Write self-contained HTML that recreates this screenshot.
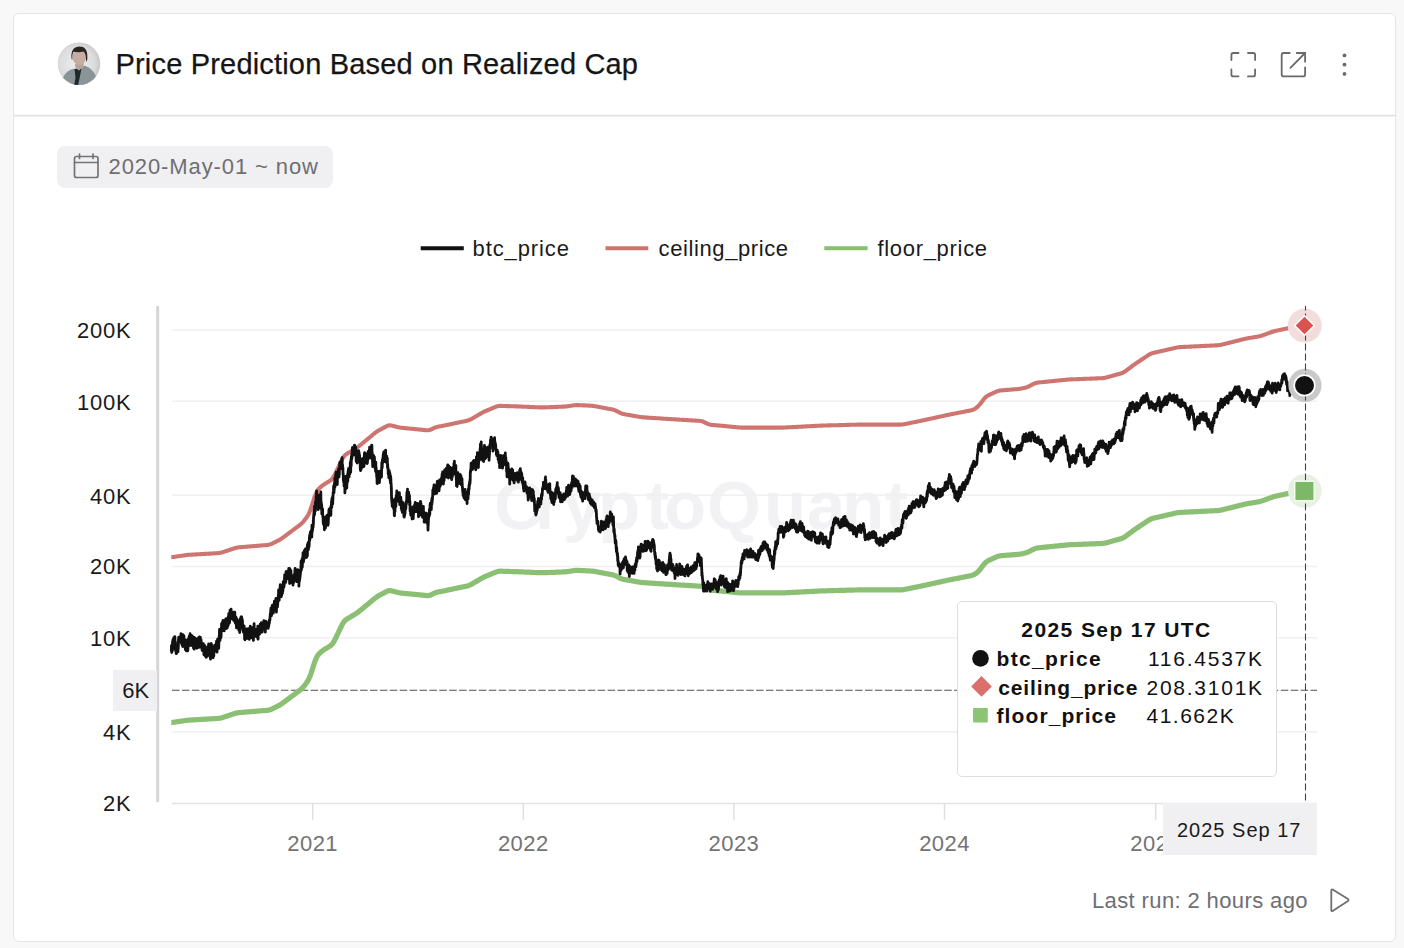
<!DOCTYPE html>
<html><head><meta charset="utf-8"><style>
*{margin:0;padding:0;box-sizing:border-box}
html,body{width:1404px;height:948px;overflow:hidden;background:#f8f8f8;font-family:"Liberation Sans", sans-serif}
.card{position:absolute;left:13px;top:13px;width:1383px;height:929px;background:#fff;border:1px solid #e5e5e5;border-radius:6px}
.hdr{position:absolute;left:14px;top:115px;width:1381px;height:1px;background:#e1e1e1;box-shadow:0 1px 0 #f1f1f1,0 -0.5px 0 #f1f1f1}
.pill{position:absolute;left:57px;top:146px;width:276px;height:42px;background:#f0f0f2;border-radius:8px}
.tip{position:absolute;left:957px;top:601px;width:320px;height:176px;background:rgba(255,255,255,0.96);border:1.5px solid #dedede;border-radius:5px}
.xlab{position:absolute;left:1162.5px;top:802.5px;width:154px;height:52px;background:#f0f0f2}
.ylab{position:absolute;left:113px;top:670px;width:44px;height:41px;background:#f0f0f2}
</style></head><body>
<div class="card"></div>
<div class="hdr"></div>
<svg width="1404" height="948" style="position:absolute;left:0;top:0">
<defs><radialGradient id="av" cx="45%" cy="50%" r="55%"><stop offset="0" stop-color="#efeff0"/><stop offset="0.75" stop-color="#dcdcde"/><stop offset="1" stop-color="#c8c8ca"/></radialGradient>
<clipPath id="avc"><circle cx="79" cy="63.7" r="21.3"/></clipPath></defs>
<circle cx="79" cy="63.7" r="21.3" fill="url(#av)"/>
<g clip-path="url(#avc)">
<path d="M61,88 C61.5,78 65,72 71,69.5 L75,68.5 L79,71 L84,65.5 C90,67 95,72 97,79 L98,88 Z" fill="#8b9597"/>
<path d="M74.5,69 L81.5,68.5 L80,76 L77.5,88 L73.5,88 L75.5,78 Z" fill="#1f282c"/>
<path d="M75,64 L84,63 L83,67 L79,70.5 L75.5,68 Z" fill="#b8a49b"/>
<ellipse cx="79.3" cy="57.3" rx="6.8" ry="7.8" fill="#c6ad9f"/>
<path d="M71.6,59 C70.5,50 74.5,46.6 79.5,46.6 C84.5,46.6 88.2,49.5 87.3,59.5 L86,62 C86.2,56 85.5,52.5 83,51.5 C80,52.8 76,52.2 73.5,51.8 C72.4,53.5 72.2,56 72.3,60 Z" fill="#2b2421"/>
</g>
<g fill="none" stroke="#6a6a6a" stroke-width="1.8" stroke-linecap="round" stroke-linejoin="round">
<path d="M1231.4,60 V55 Q1231.4,53 1233.4,53 H1238.5"/>
<path d="M1248,53 H1253.1 Q1255.1,53 1255.1,55 V60"/>
<path d="M1231.4,69.5 V74.4 Q1231.4,76.4 1233.4,76.4 H1238.5"/>
<path d="M1248,76.4 H1253.1 Q1255.1,76.4 1255.1,74.4 V69.5"/>
<path d="M1289.7,53 H1283.7 Q1281.7,53 1281.7,55 V74.4 Q1281.7,76.4 1283.7,76.4 H1303.1 Q1305.1,76.4 1305.1,74.4 V67.4"/>
<path d="M1296.8,53 H1305.1 V61.7"/>
<path d="M1290.4,67.8 L1305.1,53"/>
</g>
<g fill="#6a6a6a"><circle cx="1344.5" cy="55.4" r="1.9"/><circle cx="1344.5" cy="64.7" r="1.9"/><circle cx="1344.5" cy="73.9" r="1.9"/></g>
</svg>
<div style="position:absolute;left:115.5px;top:50.25px;font-size:29px;line-height:29px;font-weight:400;color:#151515;letter-spacing:0.18px;white-space:nowrap;-webkit-text-stroke:0.25px #151515;">Price Prediction Based on Realized Cap</div>

<div class="pill"></div>
<svg width="1404" height="948" style="position:absolute;left:0;top:0">
<g fill="none" stroke="#737373" stroke-width="1.7" stroke-linecap="round" stroke-linejoin="round">
<rect x="74.5" y="156.5" width="23.5" height="21" rx="2"/>
<path d="M74.5,162.5 H98"/><path d="M79.5,154 V158.5"/><path d="M93,154 V158.5"/>
</g></svg>
<div style="position:absolute;left:108.5px;top:155.58px;font-size:22px;line-height:22px;font-weight:400;color:#6e6e73;letter-spacing:0.9px;white-space:nowrap;">2020-May-01 ~ now</div>

<svg width="1404" height="948" style="position:absolute;left:0;top:0">
<line x1="420.7" y1="248.2" x2="463.8" y2="248.2" stroke="#111" stroke-width="4"/>
<line x1="605.5" y1="248.2" x2="648.3" y2="248.2" stroke="#d1736d" stroke-width="4"/>
<line x1="824.3" y1="248.2" x2="867.6" y2="248.2" stroke="#88c070" stroke-width="4"/>
</svg>
<div style="position:absolute;left:472.5px;top:237.58px;font-size:22px;line-height:22px;font-weight:400;color:#1a1a1a;letter-spacing:0.9px;white-space:nowrap;">btc_price</div>

<div style="position:absolute;left:658.6px;top:237.58px;font-size:22px;line-height:22px;font-weight:400;color:#1a1a1a;letter-spacing:0.6px;white-space:nowrap;">ceiling_price</div>

<div style="position:absolute;left:877.4px;top:237.58px;font-size:22px;line-height:22px;font-weight:400;color:#1a1a1a;letter-spacing:0.7px;white-space:nowrap;">floor_price</div>

<svg width="1404" height="948" viewBox="0 0 1404 948" style="position:absolute;left:0;top:0">
<text x="494 535 563 598 646 664 707 764 807 842 885" y="529" font-family="Liberation Sans" font-weight="700" font-size="69" fill="#f2f2f4">CryptoQuant</text>
<line x1="172" y1="330.0" x2="1317" y2="330.0" stroke="#f0f0f0" stroke-width="1.5"/><line x1="172" y1="401.2" x2="1317" y2="401.2" stroke="#f0f0f0" stroke-width="1.5"/><line x1="172" y1="495.3" x2="1317" y2="495.3" stroke="#f0f0f0" stroke-width="1.5"/><line x1="172" y1="566.5" x2="1317" y2="566.5" stroke="#f0f0f0" stroke-width="1.5"/><line x1="172" y1="637.7" x2="1317" y2="637.7" stroke="#f0f0f0" stroke-width="1.5"/><line x1="172" y1="731.8" x2="1317" y2="731.8" stroke="#f0f0f0" stroke-width="1.5"/>
<rect x="156.2" y="306" width="3" height="496" fill="#d6d6da"/>
<line x1="172" y1="803.5" x2="1317" y2="803.5" stroke="#e3e3e3" stroke-width="1.5"/>
<line x1="312.7" y1="803" x2="312.7" y2="820" stroke="#e0e0e0" stroke-width="1.5"/><line x1="523.3" y1="803" x2="523.3" y2="820" stroke="#e0e0e0" stroke-width="1.5"/><line x1="733.9" y1="803" x2="733.9" y2="820" stroke="#e0e0e0" stroke-width="1.5"/><line x1="944.5" y1="803" x2="944.5" y2="820" stroke="#e0e0e0" stroke-width="1.5"/><line x1="1155.7" y1="803" x2="1155.7" y2="820" stroke="#e0e0e0" stroke-width="1.5"/>
<line x1="172" y1="690.3" x2="1317" y2="690.3" stroke="#505050" stroke-width="1.1" stroke-dasharray="7.5 2.4"/>
<path d="M171.3,557.1 L171.9,557.1 L172.5,557.0 L173.1,557.0 L173.6,557.0 L174.2,556.9 L174.8,556.8 L175.4,556.7 L176.0,556.6 L176.5,556.5 L177.1,556.4 L177.7,556.3 L178.3,556.3 L178.8,556.2 L179.4,556.1 L180.0,556.0 L180.6,555.9 L181.1,555.8 L181.7,555.7 L182.3,555.7 L182.9,555.6 L183.5,555.5 L184.0,555.4 L184.6,555.3 L185.2,555.2 L185.8,555.2 L186.3,555.1 L186.9,555.0 L187.5,554.9 L188.1,554.9 L188.6,554.8 L189.2,554.8 L189.8,554.8 L190.4,554.7 L191.0,554.7 L191.5,554.7 L192.1,554.6 L192.7,554.6 L193.3,554.6 L193.8,554.5 L194.4,554.5 L195.0,554.5 L195.6,554.4 L196.1,554.4 L196.7,554.4 L197.3,554.3 L197.9,554.3 L198.5,554.3 L199.0,554.2 L199.6,554.2 L200.2,554.2 L200.8,554.1 L201.3,554.1 L201.9,554.1 L202.5,554.0 L203.1,554.0 L203.6,554.0 L204.2,553.9 L204.8,553.9 L205.4,553.9 L206.0,553.8 L206.5,553.8 L207.1,553.8 L207.7,553.7 L208.3,553.7 L208.8,553.7 L209.4,553.6 L210.0,553.6 L210.6,553.6 L211.1,553.5 L211.7,553.5 L212.3,553.5 L212.9,553.4 L213.5,553.4 L214.0,553.4 L214.6,553.3 L215.2,553.3 L215.8,553.3 L216.3,553.2 L216.9,553.2 L217.5,553.2 L218.1,553.1 L218.6,553.1 L219.2,553.0 L219.8,552.9 L220.4,552.8 L221.0,552.7 L221.5,552.5 L222.1,552.4 L222.7,552.2 L223.3,552.0 L223.8,551.8 L224.4,551.6 L225.0,551.4 L225.6,551.2 L226.1,551.0 L226.7,550.9 L227.3,550.7 L227.9,550.5 L228.5,550.3 L229.0,550.1 L229.6,549.9 L230.2,549.7 L230.8,549.5 L231.3,549.3 L231.9,549.1 L232.5,548.9 L233.1,548.7 L233.7,548.5 L234.2,548.4 L234.8,548.2 L235.4,548.0 L236.0,547.9 L236.5,547.7 L237.1,547.6 L237.7,547.5 L238.3,547.4 L238.8,547.3 L239.4,547.3 L240.0,547.2 L240.6,547.2 L241.2,547.1 L241.7,547.1 L242.3,547.0 L242.9,547.0 L243.5,547.0 L244.0,546.9 L244.6,546.9 L245.2,546.8 L245.8,546.8 L246.3,546.7 L246.9,546.7 L247.5,546.6 L248.1,546.6 L248.7,546.5 L249.2,546.5 L249.8,546.4 L250.4,546.4 L251.0,546.3 L251.5,546.3 L252.1,546.2 L252.7,546.2 L253.3,546.1 L253.8,546.1 L254.4,546.1 L255.0,546.0 L255.6,546.0 L256.2,545.9 L256.7,545.9 L257.3,545.8 L257.9,545.8 L258.5,545.7 L259.0,545.7 L259.6,545.6 L260.2,545.6 L260.8,545.5 L261.3,545.5 L261.9,545.4 L262.5,545.4 L263.1,545.3 L263.7,545.3 L264.2,545.2 L264.8,545.2 L265.4,545.2 L266.0,545.1 L266.5,545.1 L267.1,545.0 L267.7,545.0 L268.3,544.9 L268.8,544.7 L269.4,544.6 L270.0,544.4 L270.6,544.2 L271.2,544.0 L271.7,543.8 L272.3,543.5 L272.9,543.2 L273.5,542.9 L274.0,542.6 L274.6,542.3 L275.2,542.1 L275.8,541.8 L276.3,541.5 L276.9,541.2 L277.5,540.9 L278.1,540.6 L278.7,540.3 L279.2,540.0 L279.8,539.7 L280.4,539.3 L281.0,539.0 L281.5,538.6 L282.1,538.2 L282.7,537.8 L283.3,537.4 L283.8,536.9 L284.4,536.5 L285.0,536.1 L285.6,535.6 L286.2,535.2 L286.7,534.8 L287.3,534.3 L287.9,533.9 L288.5,533.5 L289.0,533.1 L289.6,532.6 L290.2,532.2 L290.8,531.8 L291.4,531.3 L291.9,530.9 L292.5,530.5 L293.1,530.0 L293.7,529.6 L294.2,529.2 L294.8,528.7 L295.4,528.3 L296.0,527.9 L296.5,527.4 L297.1,527.0 L297.7,526.6 L298.3,526.1 L298.9,525.7 L299.4,525.3 L300.0,524.8 L300.6,524.4 L301.2,523.9 L301.7,523.4 L302.3,522.8 L302.9,522.2 L303.5,521.5 L304.0,520.8 L304.6,520.1 L305.2,519.3 L305.8,518.5 L306.4,517.7 L306.9,516.9 L307.5,516.0 L308.1,515.0 L308.7,513.9 L309.2,512.7 L309.8,511.4 L310.4,509.9 L311.0,508.3 L311.5,506.6 L312.1,504.8 L312.7,502.9 L313.3,501.1 L313.9,499.2 L314.4,497.5 L315.0,495.8 L315.6,494.4 L316.2,493.0 L316.7,491.9 L317.3,490.8 L317.9,489.9 L318.5,489.2 L319.0,488.6 L319.6,488.0 L320.2,487.4 L320.8,486.9 L321.4,486.4 L321.9,485.9 L322.5,485.5 L323.1,485.1 L323.7,484.7 L324.2,484.3 L324.8,483.9 L325.4,483.6 L326.0,483.2 L326.5,482.9 L327.1,482.5 L327.7,482.2 L328.3,481.8 L328.9,481.4 L329.4,481.1 L330.0,480.7 L330.6,480.4 L331.2,479.9 L331.7,479.3 L332.3,478.7 L332.9,477.9 L333.5,477.0 L334.0,476.1 L334.6,475.1 L335.2,473.9 L335.8,472.7 L336.4,471.5 L336.9,470.2 L337.5,469.0 L338.1,467.8 L338.7,466.6 L339.2,465.4 L339.8,464.1 L340.4,462.9 L341.0,461.7 L341.6,460.5 L342.1,459.4 L342.7,458.3 L343.3,457.4 L343.9,456.6 L344.4,455.9 L345.0,455.2 L345.6,454.7 L346.2,454.3 L346.7,453.9 L347.3,453.6 L347.9,453.2 L348.5,452.9 L349.1,452.5 L349.6,452.2 L350.2,451.8 L350.8,451.5 L351.4,451.1 L351.9,450.8 L352.5,450.4 L353.1,450.1 L353.7,449.7 L354.2,449.4 L354.8,449.0 L355.4,448.7 L356.0,448.3 L356.6,447.9 L357.1,447.5 L357.7,447.1 L358.3,446.7 L358.9,446.2 L359.4,445.8 L360.0,445.3 L360.6,444.8 L361.2,444.4 L361.7,443.9 L362.3,443.4 L362.9,442.9 L363.5,442.5 L364.1,442.0 L364.6,441.5 L365.2,441.0 L365.8,440.5 L366.4,440.1 L366.9,439.6 L367.5,439.1 L368.1,438.6 L368.7,438.2 L369.2,437.7 L369.8,437.2 L370.4,436.7 L371.0,436.2 L371.6,435.8 L372.1,435.3 L372.7,434.8 L373.3,434.3 L373.9,433.9 L374.4,433.4 L375.0,432.9 L375.6,432.5 L376.2,432.1 L376.7,431.7 L377.3,431.3 L377.9,430.9 L378.5,430.6 L379.1,430.2 L379.6,429.9 L380.2,429.6 L380.8,429.3 L381.4,429.0 L381.9,428.7 L382.5,428.4 L383.1,428.1 L383.7,427.8 L384.2,427.4 L384.8,427.1 L385.4,426.8 L386.0,426.5 L386.6,426.2 L387.1,425.9 L387.7,425.7 L388.3,425.6 L388.9,425.4 L389.4,425.4 L390.0,425.3 L390.6,425.4 L391.2,425.5 L391.7,425.6 L392.3,425.7 L392.9,425.9 L393.5,426.0 L394.1,426.2 L394.6,426.3 L395.2,426.5 L395.8,426.6 L396.4,426.8 L396.9,426.9 L397.5,427.1 L398.1,427.2 L398.7,427.3 L399.2,427.5 L399.8,427.6 L400.4,427.7 L401.0,427.7 L401.6,427.8 L402.1,427.9 L402.7,427.9 L403.3,428.0 L403.9,428.0 L404.4,428.1 L405.0,428.1 L405.6,428.2 L406.2,428.3 L406.8,428.3 L407.3,428.4 L407.9,428.4 L408.5,428.5 L409.1,428.5 L409.6,428.6 L410.2,428.6 L410.8,428.7 L411.4,428.7 L411.9,428.8 L412.5,428.8 L413.1,428.9 L413.7,428.9 L414.3,429.0 L414.8,429.1 L415.4,429.1 L416.0,429.2 L416.6,429.2 L417.1,429.3 L417.7,429.4 L418.3,429.4 L418.9,429.5 L419.4,429.5 L420.0,429.6 L420.6,429.6 L421.2,429.7 L421.8,429.8 L422.3,429.8 L422.9,429.9 L423.5,429.9 L424.1,430.0 L424.6,430.1 L425.2,430.1 L425.8,430.2 L426.4,430.2 L426.9,430.3 L427.5,430.3 L428.1,430.3 L428.7,430.2 L429.3,430.1 L429.8,429.9 L430.4,429.8 L431.0,429.5 L431.6,429.3 L432.1,429.0 L432.7,428.7 L433.3,428.4 L433.9,428.1 L434.4,427.8 L435.0,427.6 L435.6,427.4 L436.2,427.2 L436.8,427.0 L437.3,426.8 L437.9,426.7 L438.5,426.6 L439.1,426.5 L439.6,426.4 L440.2,426.3 L440.8,426.2 L441.4,426.1 L441.9,426.0 L442.5,425.9 L443.1,425.7 L443.7,425.6 L444.3,425.5 L444.8,425.4 L445.4,425.3 L446.0,425.1 L446.6,425.0 L447.1,424.9 L447.7,424.8 L448.3,424.7 L448.9,424.5 L449.4,424.4 L450.0,424.3 L450.6,424.2 L451.2,424.1 L451.8,423.9 L452.3,423.8 L452.9,423.7 L453.5,423.6 L454.1,423.4 L454.6,423.3 L455.2,423.2 L455.8,423.1 L456.4,423.0 L456.9,422.8 L457.5,422.7 L458.1,422.6 L458.7,422.5 L459.3,422.4 L459.8,422.2 L460.4,422.1 L461.0,422.0 L461.6,421.9 L462.1,421.8 L462.7,421.6 L463.3,421.5 L463.9,421.4 L464.5,421.3 L465.0,421.2 L465.6,421.0 L466.2,420.9 L466.8,420.8 L467.3,420.6 L467.9,420.5 L468.5,420.3 L469.1,420.1 L469.6,419.8 L470.2,419.6 L470.8,419.3 L471.4,419.0 L472.0,418.6 L472.5,418.3 L473.1,418.0 L473.7,417.6 L474.3,417.3 L474.8,417.0 L475.4,416.6 L476.0,416.3 L476.6,416.0 L477.1,415.6 L477.7,415.3 L478.3,414.9 L478.9,414.6 L479.5,414.3 L480.0,413.9 L480.6,413.6 L481.2,413.3 L481.8,412.9 L482.3,412.6 L482.9,412.3 L483.5,412.0 L484.1,411.7 L484.6,411.5 L485.2,411.2 L485.8,410.9 L486.4,410.7 L487.0,410.5 L487.5,410.2 L488.1,410.0 L488.7,409.7 L489.3,409.5 L489.8,409.3 L490.4,409.0 L491.0,408.8 L491.6,408.5 L492.1,408.3 L492.7,408.1 L493.3,407.8 L493.9,407.6 L494.5,407.3 L495.0,407.1 L495.6,406.9 L496.2,406.6 L496.8,406.5 L497.3,406.3 L497.9,406.1 L498.5,406.0 L499.1,406.0 L499.6,405.9 L500.2,405.9 L500.8,405.9 L501.4,405.9 L502.0,405.9 L502.5,405.9 L503.1,406.0 L503.7,406.0 L504.3,406.0 L504.8,406.0 L505.4,406.0 L506.0,406.1 L506.6,406.1 L507.1,406.1 L507.7,406.1 L508.3,406.1 L508.9,406.1 L509.5,406.2 L510.0,406.2 L510.6,406.2 L511.2,406.2 L511.8,406.2 L512.3,406.3 L512.9,406.3 L513.5,406.3 L514.1,406.3 L514.6,406.3 L515.2,406.3 L515.8,406.4 L516.4,406.4 L517.0,406.4 L517.5,406.4 L518.1,406.4 L518.7,406.5 L519.3,406.5 L519.8,406.5 L520.4,406.5 L521.0,406.5 L521.6,406.6 L522.2,406.6 L522.7,406.6 L523.3,406.7 L523.9,406.7 L524.5,406.7 L525.0,406.7 L525.6,406.8 L526.2,406.8 L526.8,406.8 L527.3,406.8 L527.9,406.9 L528.5,406.9 L529.1,406.9 L529.7,406.9 L530.2,407.0 L530.8,407.0 L531.4,407.0 L532.0,407.0 L532.5,407.1 L533.1,407.1 L533.7,407.1 L534.3,407.2 L534.8,407.2 L535.4,407.2 L536.0,407.2 L536.6,407.3 L537.2,407.3 L537.7,407.3 L538.3,407.3 L538.9,407.4 L539.5,407.4 L540.0,407.4 L540.6,407.4 L541.2,407.4 L541.8,407.4 L542.3,407.4 L542.9,407.4 L543.5,407.4 L544.1,407.4 L544.7,407.4 L545.2,407.4 L545.8,407.3 L546.4,407.3 L547.0,407.3 L547.5,407.3 L548.1,407.2 L548.7,407.2 L549.3,407.2 L549.8,407.2 L550.4,407.1 L551.0,407.1 L551.6,407.1 L552.2,407.1 L552.7,407.1 L553.3,407.0 L553.9,407.0 L554.5,407.0 L555.0,407.0 L555.6,406.9 L556.2,406.9 L556.8,406.9 L557.3,406.9 L557.9,406.8 L558.5,406.8 L559.1,406.8 L559.7,406.8 L560.2,406.7 L560.8,406.7 L561.4,406.7 L562.0,406.7 L562.5,406.6 L563.1,406.6 L563.7,406.6 L564.3,406.6 L564.8,406.5 L565.4,406.5 L566.0,406.4 L566.6,406.4 L567.2,406.3 L567.7,406.2 L568.3,406.2 L568.9,406.1 L569.5,406.0 L570.0,405.9 L570.6,405.8 L571.2,405.7 L571.8,405.6 L572.3,405.5 L572.9,405.4 L573.5,405.4 L574.1,405.3 L574.7,405.2 L575.2,405.2 L575.8,405.1 L576.4,405.1 L577.0,405.1 L577.5,405.1 L578.1,405.1 L578.7,405.1 L579.3,405.2 L579.9,405.2 L580.4,405.2 L581.0,405.2 L581.6,405.3 L582.2,405.3 L582.7,405.3 L583.3,405.4 L583.9,405.4 L584.5,405.4 L585.0,405.4 L585.6,405.5 L586.2,405.5 L586.8,405.5 L587.4,405.5 L587.9,405.6 L588.5,405.6 L589.1,405.6 L589.7,405.7 L590.2,405.7 L590.8,405.7 L591.4,405.8 L592.0,405.8 L592.5,405.9 L593.1,405.9 L593.7,406.0 L594.3,406.1 L594.9,406.2 L595.4,406.3 L596.0,406.4 L596.6,406.5 L597.2,406.6 L597.7,406.7 L598.3,406.8 L598.9,406.9 L599.5,407.1 L600.0,407.2 L600.6,407.3 L601.2,407.4 L601.8,407.5 L602.4,407.6 L602.9,407.7 L603.5,407.8 L604.1,407.9 L604.7,408.0 L605.2,408.1 L605.8,408.2 L606.4,408.4 L607.0,408.5 L607.5,408.6 L608.1,408.7 L608.7,408.8 L609.3,408.9 L609.9,409.0 L610.4,409.1 L611.0,409.2 L611.6,409.3 L612.2,409.4 L612.7,409.6 L613.3,409.7 L613.9,409.9 L614.5,410.1 L615.0,410.3 L615.6,410.5 L616.2,410.8 L616.8,411.1 L617.4,411.4 L617.9,411.7 L618.5,412.0 L619.1,412.3 L619.7,412.6 L620.2,412.9 L620.8,413.1 L621.4,413.4 L622.0,413.6 L622.5,413.8 L623.1,414.0 L623.7,414.1 L624.3,414.2 L624.9,414.3 L625.4,414.4 L626.0,414.5 L626.6,414.6 L627.2,414.7 L627.7,414.8 L628.3,414.9 L628.9,415.0 L629.5,415.1 L630.0,415.2 L630.6,415.3 L631.2,415.4 L631.8,415.5 L632.4,415.6 L632.9,415.7 L633.5,415.8 L634.1,415.9 L634.7,416.0 L635.2,416.1 L635.8,416.2 L636.4,416.3 L637.0,416.4 L637.6,416.5 L638.1,416.6 L638.7,416.7 L639.3,416.8 L639.9,416.9 L640.4,417.0 L641.0,417.1 L641.6,417.2 L642.2,417.2 L642.7,417.3 L643.3,417.3 L643.9,417.4 L644.5,417.4 L645.1,417.4 L645.6,417.5 L646.2,417.5 L646.8,417.6 L647.4,417.6 L647.9,417.6 L648.5,417.7 L649.1,417.7 L649.7,417.7 L650.2,417.8 L650.8,417.8 L651.4,417.9 L652.0,417.9 L652.6,417.9 L653.1,418.0 L653.7,418.0 L654.3,418.0 L654.9,418.1 L655.4,418.1 L656.0,418.2 L656.6,418.2 L657.2,418.2 L657.7,418.3 L658.3,418.3 L658.9,418.3 L659.5,418.4 L660.1,418.4 L660.6,418.5 L661.2,418.5 L661.8,418.5 L662.4,418.6 L662.9,418.6 L663.5,418.7 L664.1,418.7 L664.7,418.7 L665.2,418.8 L665.8,418.8 L666.4,418.8 L667.0,418.9 L667.6,418.9 L668.1,419.0 L668.7,419.0 L669.3,419.0 L669.9,419.1 L670.4,419.1 L671.0,419.1 L671.6,419.2 L672.2,419.2 L672.7,419.2 L673.3,419.3 L673.9,419.3 L674.5,419.3 L675.1,419.4 L675.6,419.4 L676.2,419.4 L676.8,419.5 L677.4,419.5 L677.9,419.6 L678.5,419.6 L679.1,419.6 L679.7,419.7 L680.2,419.7 L680.8,419.7 L681.4,419.8 L682.0,419.8 L682.6,419.8 L683.1,419.9 L683.7,419.9 L684.3,419.9 L684.9,420.0 L685.4,420.0 L686.0,420.0 L686.6,420.1 L687.2,420.1 L687.8,420.1 L688.3,420.2 L688.9,420.2 L689.5,420.2 L690.1,420.3 L690.6,420.3 L691.2,420.4 L691.8,420.4 L692.4,420.4 L692.9,420.5 L693.5,420.5 L694.1,420.5 L694.7,420.6 L695.3,420.6 L695.8,420.6 L696.4,420.7 L697.0,420.7 L697.6,420.7 L698.1,420.8 L698.7,420.8 L699.3,420.8 L699.9,420.9 L700.4,421.0 L701.0,421.1 L701.6,421.2 L702.2,421.3 L702.8,421.5 L703.3,421.8 L703.9,422.0 L704.5,422.3 L705.1,422.6 L705.6,422.9 L706.2,423.2 L706.8,423.5 L707.4,423.7 L707.9,424.0 L708.5,424.2 L709.1,424.4 L709.7,424.6 L710.3,424.7 L710.8,424.8 L711.4,424.9 L712.0,424.9 L712.6,425.0 L713.1,425.0 L713.7,425.1 L714.3,425.1 L714.9,425.2 L715.4,425.2 L716.0,425.3 L716.6,425.3 L717.2,425.4 L717.8,425.4 L718.3,425.5 L718.9,425.5 L719.5,425.6 L720.1,425.6 L720.6,425.7 L721.2,425.7 L721.8,425.8 L722.4,425.8 L722.9,425.9 L723.5,425.9 L724.1,426.0 L724.7,426.1 L725.3,426.1 L725.8,426.2 L726.4,426.2 L727.0,426.3 L727.6,426.3 L728.1,426.4 L728.7,426.5 L729.3,426.5 L729.9,426.6 L730.4,426.6 L731.0,426.7 L731.6,426.7 L732.2,426.8 L732.8,426.9 L733.3,426.9 L733.9,427.0 L734.5,427.0 L735.1,427.1 L735.6,427.1 L736.2,427.2 L736.8,427.3 L737.4,427.3 L737.9,427.4 L738.5,427.4 L739.1,427.5 L739.7,427.5 L740.3,427.5 L740.8,427.6 L741.4,427.6 L742.0,427.6 L742.6,427.6 L743.1,427.6 L743.7,427.6 L744.3,427.6 L744.9,427.6 L745.4,427.6 L746.0,427.6 L746.6,427.6 L747.2,427.6 L747.8,427.6 L748.3,427.6 L748.9,427.6 L749.5,427.6 L750.1,427.6 L750.6,427.6 L751.2,427.6 L751.8,427.6 L752.4,427.6 L753.0,427.6 L753.5,427.6 L754.1,427.6 L754.7,427.6 L755.3,427.6 L755.8,427.6 L756.4,427.6 L757.0,427.6 L757.6,427.6 L758.1,427.6 L758.7,427.6 L759.3,427.6 L759.9,427.6 L760.5,427.6 L761.0,427.6 L761.6,427.6 L762.2,427.6 L762.8,427.6 L763.3,427.6 L763.9,427.6 L764.5,427.6 L765.1,427.6 L765.6,427.6 L766.2,427.6 L766.8,427.6 L767.4,427.6 L768.0,427.6 L768.5,427.6 L769.1,427.6 L769.7,427.6 L770.3,427.6 L770.8,427.6 L771.4,427.6 L772.0,427.6 L772.6,427.6 L773.1,427.6 L773.7,427.6 L774.3,427.6 L774.9,427.6 L775.5,427.6 L776.0,427.6 L776.6,427.6 L777.2,427.6 L777.8,427.6 L778.3,427.6 L778.9,427.6 L779.5,427.6 L780.1,427.6 L780.6,427.6 L781.2,427.6 L781.8,427.6 L782.4,427.6 L783.0,427.6 L783.5,427.6 L784.1,427.5 L784.7,427.5 L785.3,427.5 L785.8,427.5 L786.4,427.4 L787.0,427.4 L787.6,427.4 L788.1,427.3 L788.7,427.3 L789.3,427.3 L789.9,427.3 L790.5,427.2 L791.0,427.2 L791.6,427.2 L792.2,427.1 L792.8,427.1 L793.3,427.1 L793.9,427.0 L794.5,427.0 L795.1,427.0 L795.6,427.0 L796.2,426.9 L796.8,426.9 L797.4,426.9 L798.0,426.8 L798.5,426.8 L799.1,426.8 L799.7,426.7 L800.3,426.7 L800.8,426.7 L801.4,426.6 L802.0,426.6 L802.6,426.6 L803.1,426.6 L803.7,426.5 L804.3,426.5 L804.9,426.5 L805.5,426.4 L806.0,426.4 L806.6,426.4 L807.2,426.3 L807.8,426.3 L808.3,426.3 L808.9,426.3 L809.5,426.2 L810.1,426.2 L810.7,426.2 L811.2,426.1 L811.8,426.1 L812.4,426.1 L813.0,426.0 L813.5,426.0 L814.1,426.0 L814.7,425.9 L815.3,425.9 L815.8,425.9 L816.4,425.9 L817.0,425.8 L817.6,425.8 L818.2,425.8 L818.7,425.7 L819.3,425.7 L819.9,425.7 L820.5,425.7 L821.0,425.6 L821.6,425.6 L822.2,425.6 L822.8,425.6 L823.3,425.5 L823.9,425.5 L824.5,425.5 L825.1,425.5 L825.7,425.5 L826.2,425.5 L826.8,425.5 L827.4,425.4 L828.0,425.4 L828.5,425.4 L829.1,425.4 L829.7,425.4 L830.3,425.4 L830.8,425.3 L831.4,425.3 L832.0,425.3 L832.6,425.3 L833.2,425.3 L833.7,425.3 L834.3,425.3 L834.9,425.2 L835.5,425.2 L836.0,425.2 L836.6,425.2 L837.2,425.2 L837.8,425.2 L838.3,425.2 L838.9,425.1 L839.5,425.1 L840.1,425.1 L840.7,425.1 L841.2,425.1 L841.8,425.1 L842.4,425.0 L843.0,425.0 L843.5,425.0 L844.1,425.0 L844.7,425.0 L845.3,425.0 L845.8,425.0 L846.4,424.9 L847.0,424.9 L847.6,424.9 L848.2,424.9 L848.7,424.9 L849.3,424.9 L849.9,424.8 L850.5,424.8 L851.0,424.8 L851.6,424.8 L852.2,424.8 L852.8,424.8 L853.3,424.8 L853.9,424.7 L854.5,424.7 L855.1,424.7 L855.7,424.7 L856.2,424.7 L856.8,424.7 L857.4,424.6 L858.0,424.6 L858.5,424.6 L859.1,424.6 L859.7,424.6 L860.3,424.6 L860.8,424.6 L861.4,424.6 L862.0,424.6 L862.6,424.6 L863.2,424.6 L863.7,424.6 L864.3,424.6 L864.9,424.6 L865.5,424.6 L866.0,424.6 L866.6,424.6 L867.2,424.6 L867.8,424.6 L868.4,424.6 L868.9,424.6 L869.5,424.6 L870.1,424.6 L870.7,424.6 L871.2,424.6 L871.8,424.6 L872.4,424.6 L873.0,424.6 L873.5,424.6 L874.1,424.6 L874.7,424.6 L875.3,424.6 L875.9,424.6 L876.4,424.6 L877.0,424.6 L877.6,424.6 L878.2,424.6 L878.7,424.6 L879.3,424.6 L879.9,424.6 L880.5,424.6 L881.0,424.6 L881.6,424.6 L882.2,424.6 L882.8,424.6 L883.4,424.6 L883.9,424.6 L884.5,424.6 L885.1,424.6 L885.7,424.6 L886.2,424.6 L886.8,424.6 L887.4,424.6 L888.0,424.6 L888.5,424.6 L889.1,424.6 L889.7,424.6 L890.3,424.6 L890.9,424.6 L891.4,424.6 L892.0,424.6 L892.6,424.6 L893.2,424.6 L893.7,424.6 L894.3,424.6 L894.9,424.6 L895.5,424.6 L896.0,424.6 L896.6,424.6 L897.2,424.6 L897.8,424.6 L898.4,424.6 L898.9,424.6 L899.5,424.6 L900.1,424.6 L900.7,424.6 L901.2,424.6 L901.8,424.5 L902.4,424.5 L903.0,424.4 L903.5,424.3 L904.1,424.2 L904.7,424.1 L905.3,424.0 L905.9,423.9 L906.4,423.8 L907.0,423.6 L907.6,423.5 L908.2,423.4 L908.7,423.3 L909.3,423.2 L909.9,423.1 L910.5,422.9 L911.0,422.8 L911.6,422.7 L912.2,422.6 L912.8,422.5 L913.4,422.4 L913.9,422.2 L914.5,422.1 L915.1,422.0 L915.7,421.9 L916.2,421.8 L916.8,421.7 L917.4,421.5 L918.0,421.4 L918.5,421.3 L919.1,421.2 L919.7,421.1 L920.3,421.0 L920.9,420.8 L921.4,420.7 L922.0,420.6 L922.6,420.5 L923.2,420.3 L923.7,420.2 L924.3,420.1 L924.9,420.0 L925.5,419.8 L926.1,419.7 L926.6,419.6 L927.2,419.5 L927.8,419.3 L928.4,419.2 L928.9,419.1 L929.5,418.9 L930.1,418.8 L930.7,418.7 L931.2,418.6 L931.8,418.4 L932.4,418.3 L933.0,418.2 L933.6,418.1 L934.1,417.9 L934.7,417.8 L935.3,417.7 L935.9,417.5 L936.4,417.4 L937.0,417.3 L937.6,417.2 L938.2,417.0 L938.7,416.9 L939.3,416.8 L939.9,416.6 L940.5,416.5 L941.1,416.4 L941.6,416.3 L942.2,416.1 L942.8,416.0 L943.4,415.9 L943.9,415.8 L944.5,415.6 L945.1,415.5 L945.7,415.4 L946.2,415.2 L946.8,415.1 L947.4,415.0 L948.0,414.9 L948.6,414.8 L949.1,414.6 L949.7,414.5 L950.3,414.4 L950.9,414.3 L951.4,414.2 L952.0,414.1 L952.6,414.0 L953.2,413.8 L953.7,413.7 L954.3,413.6 L954.9,413.5 L955.5,413.4 L956.1,413.3 L956.6,413.2 L957.2,413.0 L957.8,412.9 L958.4,412.8 L958.9,412.7 L959.5,412.6 L960.1,412.5 L960.7,412.4 L961.2,412.3 L961.8,412.1 L962.4,412.0 L963.0,411.9 L963.6,411.8 L964.1,411.7 L964.7,411.6 L965.3,411.5 L965.9,411.3 L966.4,411.2 L967.0,411.1 L967.6,411.0 L968.2,410.9 L968.7,410.8 L969.3,410.7 L969.9,410.5 L970.5,410.4 L971.1,410.3 L971.6,410.2 L972.2,410.0 L972.8,409.8 L973.4,409.5 L973.9,409.3 L974.5,409.0 L975.1,408.6 L975.7,408.3 L976.2,407.9 L976.8,407.4 L977.4,406.9 L978.0,406.4 L978.6,405.8 L979.1,405.2 L979.7,404.5 L980.3,403.8 L980.9,403.1 L981.4,402.3 L982.0,401.5 L982.6,400.8 L983.2,400.0 L983.8,399.2 L984.3,398.6 L984.9,397.9 L985.5,397.4 L986.1,396.8 L986.6,396.4 L987.2,396.0 L987.8,395.6 L988.4,395.3 L988.9,395.0 L989.5,394.8 L990.1,394.5 L990.7,394.2 L991.3,394.0 L991.8,393.7 L992.4,393.4 L993.0,393.2 L993.6,392.9 L994.1,392.6 L994.7,392.4 L995.3,392.1 L995.9,391.8 L996.4,391.6 L997.0,391.3 L997.6,391.1 L998.2,390.9 L998.8,390.8 L999.3,390.7 L999.9,390.5 L1000.5,390.5 L1001.1,390.4 L1001.6,390.4 L1002.2,390.3 L1002.8,390.3 L1003.4,390.2 L1003.9,390.2 L1004.5,390.1 L1005.1,390.1 L1005.7,390.0 L1006.3,390.0 L1006.8,389.9 L1007.4,389.9 L1008.0,389.9 L1008.6,389.8 L1009.1,389.8 L1009.7,389.7 L1010.3,389.7 L1010.9,389.6 L1011.4,389.6 L1012.0,389.5 L1012.6,389.5 L1013.2,389.4 L1013.8,389.4 L1014.3,389.3 L1014.9,389.3 L1015.5,389.3 L1016.1,389.2 L1016.6,389.2 L1017.2,389.1 L1017.8,389.1 L1018.4,389.0 L1018.9,388.9 L1019.5,388.9 L1020.1,388.8 L1020.7,388.7 L1021.3,388.6 L1021.8,388.5 L1022.4,388.3 L1023.0,388.2 L1023.6,388.1 L1024.1,387.9 L1024.7,387.8 L1025.3,387.7 L1025.9,387.5 L1026.4,387.3 L1027.0,387.1 L1027.6,386.9 L1028.2,386.7 L1028.8,386.4 L1029.3,386.1 L1029.9,385.9 L1030.5,385.5 L1031.1,385.2 L1031.6,384.9 L1032.2,384.6 L1032.8,384.3 L1033.4,384.0 L1034.0,383.7 L1034.5,383.5 L1035.1,383.2 L1035.7,383.1 L1036.3,382.9 L1036.8,382.8 L1037.4,382.6 L1038.0,382.6 L1038.6,382.5 L1039.1,382.4 L1039.7,382.4 L1040.3,382.3 L1040.9,382.3 L1041.5,382.2 L1042.0,382.2 L1042.6,382.1 L1043.2,382.0 L1043.8,382.0 L1044.3,381.9 L1044.9,381.9 L1045.5,381.8 L1046.1,381.8 L1046.6,381.7 L1047.2,381.6 L1047.8,381.6 L1048.4,381.5 L1049.0,381.5 L1049.5,381.4 L1050.1,381.3 L1050.7,381.3 L1051.3,381.2 L1051.8,381.2 L1052.4,381.1 L1053.0,381.1 L1053.6,381.0 L1054.1,380.9 L1054.7,380.9 L1055.3,380.8 L1055.9,380.8 L1056.5,380.7 L1057.0,380.7 L1057.6,380.6 L1058.2,380.5 L1058.8,380.5 L1059.3,380.4 L1059.9,380.4 L1060.5,380.3 L1061.1,380.2 L1061.6,380.2 L1062.2,380.1 L1062.8,380.1 L1063.4,380.0 L1064.0,380.0 L1064.5,379.9 L1065.1,379.8 L1065.7,379.8 L1066.3,379.7 L1066.8,379.7 L1067.4,379.6 L1068.0,379.6 L1068.6,379.5 L1069.1,379.5 L1069.7,379.5 L1070.3,379.4 L1070.9,379.4 L1071.5,379.4 L1072.0,379.4 L1072.6,379.3 L1073.2,379.3 L1073.8,379.3 L1074.3,379.3 L1074.9,379.2 L1075.5,379.2 L1076.1,379.2 L1076.6,379.2 L1077.2,379.2 L1077.8,379.1 L1078.4,379.1 L1079.0,379.1 L1079.5,379.1 L1080.1,379.0 L1080.7,379.0 L1081.3,379.0 L1081.8,379.0 L1082.4,379.0 L1083.0,378.9 L1083.6,378.9 L1084.1,378.9 L1084.7,378.9 L1085.3,378.8 L1085.9,378.8 L1086.5,378.8 L1087.0,378.8 L1087.6,378.8 L1088.2,378.7 L1088.8,378.7 L1089.3,378.7 L1089.9,378.7 L1090.5,378.6 L1091.1,378.6 L1091.6,378.6 L1092.2,378.6 L1092.8,378.5 L1093.4,378.5 L1094.0,378.5 L1094.5,378.5 L1095.1,378.5 L1095.7,378.4 L1096.3,378.4 L1096.8,378.4 L1097.4,378.4 L1098.0,378.3 L1098.6,378.3 L1099.2,378.3 L1099.7,378.3 L1100.3,378.3 L1100.9,378.2 L1101.5,378.2 L1102.0,378.2 L1102.6,378.1 L1103.2,378.1 L1103.8,378.0 L1104.3,377.9 L1104.9,377.8 L1105.5,377.7 L1106.1,377.6 L1106.7,377.4 L1107.2,377.2 L1107.8,377.1 L1108.4,376.9 L1109.0,376.8 L1109.5,376.6 L1110.1,376.4 L1110.7,376.3 L1111.3,376.1 L1111.8,375.9 L1112.4,375.8 L1113.0,375.6 L1113.6,375.5 L1114.2,375.3 L1114.7,375.1 L1115.3,375.0 L1115.9,374.8 L1116.5,374.7 L1117.0,374.5 L1117.6,374.3 L1118.2,374.2 L1118.8,374.0 L1119.3,373.8 L1119.9,373.7 L1120.5,373.5 L1121.1,373.4 L1121.7,373.2 L1122.2,372.9 L1122.8,372.7 L1123.4,372.4 L1124.0,372.1 L1124.5,371.7 L1125.1,371.4 L1125.7,371.0 L1126.3,370.5 L1126.8,370.1 L1127.4,369.7 L1128.0,369.2 L1128.6,368.8 L1129.2,368.4 L1129.7,367.9 L1130.3,367.5 L1130.9,367.1 L1131.5,366.6 L1132.0,366.2 L1132.6,365.8 L1133.2,365.3 L1133.8,364.9 L1134.3,364.5 L1134.9,364.1 L1135.5,363.7 L1136.1,363.3 L1136.7,362.9 L1137.2,362.5 L1137.8,362.1 L1138.4,361.8 L1139.0,361.4 L1139.5,361.0 L1140.1,360.6 L1140.7,360.2 L1141.3,359.8 L1141.8,359.4 L1142.4,359.1 L1143.0,358.7 L1143.6,358.3 L1144.2,357.9 L1144.7,357.5 L1145.3,357.1 L1145.9,356.8 L1146.5,356.4 L1147.0,356.0 L1147.6,355.6 L1148.2,355.2 L1148.8,354.9 L1149.3,354.5 L1149.9,354.2 L1150.5,353.9 L1151.1,353.7 L1151.7,353.4 L1152.2,353.2 L1152.8,353.1 L1153.4,352.9 L1154.0,352.8 L1154.5,352.6 L1155.1,352.5 L1155.7,352.4 L1156.3,352.2 L1156.9,352.1 L1157.4,352.0 L1158.0,351.8 L1158.6,351.7 L1159.2,351.6 L1159.7,351.4 L1160.3,351.3 L1160.9,351.2 L1161.5,351.0 L1162.0,350.9 L1162.6,350.8 L1163.2,350.6 L1163.8,350.5 L1164.4,350.4 L1164.9,350.3 L1165.5,350.1 L1166.1,350.0 L1166.7,349.9 L1167.2,349.7 L1167.8,349.6 L1168.4,349.5 L1169.0,349.3 L1169.5,349.2 L1170.1,349.1 L1170.7,348.9 L1171.3,348.8 L1171.9,348.7 L1172.4,348.5 L1173.0,348.4 L1173.6,348.3 L1174.2,348.1 L1174.7,348.0 L1175.3,347.9 L1175.9,347.7 L1176.5,347.6 L1177.0,347.5 L1177.6,347.4 L1178.2,347.3 L1178.8,347.2 L1179.4,347.2 L1179.9,347.1 L1180.5,347.1 L1181.1,347.1 L1181.7,347.0 L1182.2,347.0 L1182.8,347.0 L1183.4,346.9 L1184.0,346.9 L1184.5,346.9 L1185.1,346.9 L1185.7,346.8 L1186.3,346.8 L1186.9,346.8 L1187.4,346.8 L1188.0,346.7 L1188.6,346.7 L1189.2,346.7 L1189.7,346.6 L1190.3,346.6 L1190.9,346.6 L1191.5,346.6 L1192.0,346.5 L1192.6,346.5 L1193.2,346.5 L1193.8,346.4 L1194.4,346.4 L1194.9,346.4 L1195.5,346.4 L1196.1,346.3 L1196.7,346.3 L1197.2,346.3 L1197.8,346.2 L1198.4,346.2 L1199.0,346.2 L1199.5,346.2 L1200.1,346.1 L1200.7,346.1 L1201.3,346.1 L1201.9,346.1 L1202.4,346.0 L1203.0,346.0 L1203.6,346.0 L1204.2,345.9 L1204.7,345.9 L1205.3,345.9 L1205.9,345.9 L1206.5,345.8 L1207.0,345.8 L1207.6,345.8 L1208.2,345.7 L1208.8,345.7 L1209.4,345.7 L1209.9,345.7 L1210.5,345.6 L1211.1,345.6 L1211.7,345.6 L1212.2,345.5 L1212.8,345.5 L1213.4,345.5 L1214.0,345.5 L1214.6,345.4 L1215.1,345.4 L1215.7,345.4 L1216.3,345.4 L1216.9,345.3 L1217.4,345.3 L1218.0,345.2 L1218.6,345.2 L1219.2,345.1 L1219.7,345.0 L1220.3,344.9 L1220.9,344.8 L1221.5,344.7 L1222.1,344.5 L1222.6,344.4 L1223.2,344.3 L1223.8,344.1 L1224.4,344.0 L1224.9,343.8 L1225.5,343.7 L1226.1,343.5 L1226.7,343.4 L1227.2,343.3 L1227.8,343.1 L1228.4,343.0 L1229.0,342.8 L1229.6,342.7 L1230.1,342.5 L1230.7,342.4 L1231.3,342.3 L1231.9,342.1 L1232.4,342.0 L1233.0,341.8 L1233.6,341.7 L1234.2,341.5 L1234.7,341.4 L1235.3,341.2 L1235.9,341.1 L1236.5,341.0 L1237.1,340.8 L1237.6,340.7 L1238.2,340.5 L1238.8,340.4 L1239.4,340.2 L1239.9,340.1 L1240.5,340.0 L1241.1,339.8 L1241.7,339.7 L1242.2,339.5 L1242.8,339.4 L1243.4,339.2 L1244.0,339.1 L1244.6,339.0 L1245.1,338.8 L1245.7,338.7 L1246.3,338.6 L1246.9,338.4 L1247.4,338.3 L1248.0,338.2 L1248.6,338.1 L1249.2,338.0 L1249.7,337.9 L1250.3,337.8 L1250.9,337.7 L1251.5,337.7 L1252.1,337.6 L1252.6,337.5 L1253.2,337.4 L1253.8,337.3 L1254.4,337.2 L1254.9,337.1 L1255.5,337.0 L1256.1,336.9 L1256.7,336.8 L1257.2,336.7 L1257.8,336.6 L1258.4,336.5 L1259.0,336.4 L1259.6,336.3 L1260.1,336.1 L1260.7,336.0 L1261.3,335.8 L1261.9,335.6 L1262.4,335.4 L1263.0,335.2 L1263.6,335.0 L1264.2,334.8 L1264.8,334.6 L1265.3,334.4 L1265.9,334.1 L1266.5,333.9 L1267.1,333.7 L1267.6,333.5 L1268.2,333.3 L1268.8,333.1 L1269.4,332.9 L1269.9,332.7 L1270.5,332.5 L1271.1,332.3 L1271.7,332.0 L1272.3,331.8 L1272.8,331.7 L1273.4,331.5 L1274.0,331.3 L1274.6,331.1 L1275.1,331.0 L1275.7,330.8 L1276.3,330.7 L1276.9,330.6 L1277.4,330.5 L1278.0,330.4 L1278.6,330.2 L1279.2,330.1 L1279.8,330.0 L1280.3,329.9 L1280.9,329.7 L1281.5,329.6 L1282.1,329.5 L1282.6,329.4 L1283.2,329.3 L1283.8,329.1 L1284.4,329.0 L1284.9,328.9 L1285.5,328.8 L1286.1,328.6 L1286.7,328.5 L1287.3,328.4 L1287.8,328.3 L1288.4,328.2 L1289.0,328.0 L1289.6,327.9 L1290.1,327.8 L1290.7,327.7 L1291.3,327.6 L1291.9,327.5 L1292.4,327.4 L1293.0,327.3 L1293.6,327.2 L1294.2,327.1 L1294.8,327.1 L1295.3,327.0 L1295.9,326.9 L1296.5,326.9 L1297.1,326.8 L1297.6,326.7 L1298.2,326.6 L1298.8,326.6 L1299.4,326.5 L1299.9,326.4 L1300.5,326.4 L1301.1,326.3 L1301.7,326.2 L1302.3,326.1 L1302.8,326.1 L1303.4,326.0 L1304.0,326.0 L1304.6,326.0 L1305.1,325.9" fill="none" stroke="#ce7571" stroke-width="4.1" stroke-linejoin="round"/>
<path d="M171.3,722.4 L171.9,722.4 L172.5,722.3 L173.1,722.3 L173.6,722.3 L174.2,722.2 L174.8,722.1 L175.4,722.0 L176.0,721.9 L176.5,721.8 L177.1,721.7 L177.7,721.7 L178.3,721.6 L178.8,721.5 L179.4,721.4 L180.0,721.3 L180.6,721.2 L181.1,721.1 L181.7,721.1 L182.3,721.0 L182.9,720.9 L183.5,720.8 L184.0,720.7 L184.6,720.6 L185.2,720.5 L185.8,720.5 L186.3,720.4 L186.9,720.3 L187.5,720.3 L188.1,720.2 L188.6,720.2 L189.2,720.1 L189.8,720.1 L190.4,720.0 L191.0,720.0 L191.5,720.0 L192.1,719.9 L192.7,719.9 L193.3,719.9 L193.8,719.8 L194.4,719.8 L195.0,719.8 L195.6,719.7 L196.1,719.7 L196.7,719.7 L197.3,719.6 L197.9,719.6 L198.5,719.6 L199.0,719.5 L199.6,719.5 L200.2,719.5 L200.8,719.4 L201.3,719.4 L201.9,719.4 L202.5,719.3 L203.1,719.3 L203.6,719.3 L204.2,719.2 L204.8,719.2 L205.4,719.2 L206.0,719.1 L206.5,719.1 L207.1,719.1 L207.7,719.0 L208.3,719.0 L208.8,719.0 L209.4,718.9 L210.0,718.9 L210.6,718.9 L211.1,718.8 L211.7,718.8 L212.3,718.8 L212.9,718.7 L213.5,718.7 L214.0,718.7 L214.6,718.6 L215.2,718.6 L215.8,718.6 L216.3,718.5 L216.9,718.5 L217.5,718.5 L218.1,718.4 L218.6,718.4 L219.2,718.3 L219.8,718.2 L220.4,718.1 L221.0,718.0 L221.5,717.8 L222.1,717.7 L222.7,717.5 L223.3,717.3 L223.8,717.1 L224.4,716.9 L225.0,716.7 L225.6,716.5 L226.1,716.4 L226.7,716.2 L227.3,716.0 L227.9,715.8 L228.5,715.6 L229.0,715.4 L229.6,715.2 L230.2,715.0 L230.8,714.8 L231.3,714.6 L231.9,714.4 L232.5,714.2 L233.1,714.0 L233.7,713.9 L234.2,713.7 L234.8,713.5 L235.4,713.3 L236.0,713.2 L236.5,713.0 L237.1,712.9 L237.7,712.8 L238.3,712.7 L238.8,712.6 L239.4,712.6 L240.0,712.5 L240.6,712.5 L241.2,712.4 L241.7,712.4 L242.3,712.4 L242.9,712.3 L243.5,712.3 L244.0,712.2 L244.6,712.2 L245.2,712.1 L245.8,712.1 L246.3,712.0 L246.9,712.0 L247.5,711.9 L248.1,711.9 L248.7,711.8 L249.2,711.8 L249.8,711.7 L250.4,711.7 L251.0,711.6 L251.5,711.6 L252.1,711.5 L252.7,711.5 L253.3,711.5 L253.8,711.4 L254.4,711.4 L255.0,711.3 L255.6,711.3 L256.2,711.2 L256.7,711.2 L257.3,711.1 L257.9,711.1 L258.5,711.0 L259.0,711.0 L259.6,710.9 L260.2,710.9 L260.8,710.8 L261.3,710.8 L261.9,710.7 L262.5,710.7 L263.1,710.6 L263.7,710.6 L264.2,710.6 L264.8,710.5 L265.4,710.5 L266.0,710.4 L266.5,710.4 L267.1,710.3 L267.7,710.3 L268.3,710.2 L268.8,710.1 L269.4,709.9 L270.0,709.7 L270.6,709.5 L271.2,709.3 L271.7,709.1 L272.3,708.8 L272.9,708.5 L273.5,708.2 L274.0,707.9 L274.6,707.6 L275.2,707.4 L275.8,707.1 L276.3,706.8 L276.9,706.5 L277.5,706.2 L278.1,705.9 L278.7,705.6 L279.2,705.3 L279.8,705.0 L280.4,704.6 L281.0,704.3 L281.5,703.9 L282.1,703.5 L282.7,703.1 L283.3,702.7 L283.8,702.2 L284.4,701.8 L285.0,701.4 L285.6,701.0 L286.2,700.5 L286.7,700.1 L287.3,699.7 L287.9,699.2 L288.5,698.8 L289.0,698.4 L289.6,697.9 L290.2,697.5 L290.8,697.1 L291.4,696.6 L291.9,696.2 L292.5,695.8 L293.1,695.3 L293.7,694.9 L294.2,694.5 L294.8,694.0 L295.4,693.6 L296.0,693.2 L296.5,692.7 L297.1,692.3 L297.7,691.9 L298.3,691.4 L298.9,691.0 L299.4,690.6 L300.0,690.1 L300.6,689.7 L301.2,689.2 L301.7,688.7 L302.3,688.1 L302.9,687.5 L303.5,686.8 L304.0,686.1 L304.6,685.4 L305.2,684.6 L305.8,683.8 L306.4,683.0 L306.9,682.2 L307.5,681.3 L308.1,680.3 L308.7,679.2 L309.2,678.0 L309.8,676.7 L310.4,675.2 L311.0,673.6 L311.5,671.9 L312.1,670.1 L312.7,668.3 L313.3,666.4 L313.9,664.5 L314.4,662.8 L315.0,661.1 L315.6,659.7 L316.2,658.3 L316.7,657.2 L317.3,656.1 L317.9,655.2 L318.5,654.5 L319.0,653.9 L319.6,653.3 L320.2,652.7 L320.8,652.2 L321.4,651.7 L321.9,651.2 L322.5,650.8 L323.1,650.4 L323.7,650.0 L324.2,649.6 L324.8,649.2 L325.4,648.9 L326.0,648.5 L326.5,648.2 L327.1,647.8 L327.7,647.5 L328.3,647.1 L328.9,646.7 L329.4,646.4 L330.0,646.0 L330.6,645.7 L331.2,645.2 L331.7,644.6 L332.3,644.0 L332.9,643.2 L333.5,642.4 L334.0,641.4 L334.6,640.4 L335.2,639.2 L335.8,638.0 L336.4,636.8 L336.9,635.5 L337.5,634.3 L338.1,633.1 L338.7,631.9 L339.2,630.7 L339.8,629.4 L340.4,628.2 L341.0,627.0 L341.6,625.8 L342.1,624.7 L342.7,623.6 L343.3,622.7 L343.9,621.9 L344.4,621.2 L345.0,620.5 L345.6,620.0 L346.2,619.6 L346.7,619.2 L347.3,618.9 L347.9,618.5 L348.5,618.2 L349.1,617.8 L349.6,617.5 L350.2,617.1 L350.8,616.8 L351.4,616.4 L351.9,616.1 L352.5,615.7 L353.1,615.4 L353.7,615.0 L354.2,614.7 L354.8,614.3 L355.4,614.0 L356.0,613.6 L356.6,613.2 L357.1,612.8 L357.7,612.4 L358.3,612.0 L358.9,611.5 L359.4,611.1 L360.0,610.6 L360.6,610.1 L361.2,609.7 L361.7,609.2 L362.3,608.7 L362.9,608.2 L363.5,607.8 L364.1,607.3 L364.6,606.8 L365.2,606.3 L365.8,605.8 L366.4,605.4 L366.9,604.9 L367.5,604.4 L368.1,603.9 L368.7,603.5 L369.2,603.0 L369.8,602.5 L370.4,602.0 L371.0,601.5 L371.6,601.1 L372.1,600.6 L372.7,600.1 L373.3,599.6 L373.9,599.2 L374.4,598.7 L375.0,598.2 L375.6,597.8 L376.2,597.4 L376.7,597.0 L377.3,596.6 L377.9,596.2 L378.5,595.9 L379.1,595.5 L379.6,595.2 L380.2,594.9 L380.8,594.6 L381.4,594.3 L381.9,594.0 L382.5,593.7 L383.1,593.4 L383.7,593.1 L384.2,592.8 L384.8,592.4 L385.4,592.1 L386.0,591.8 L386.6,591.5 L387.1,591.2 L387.7,591.0 L388.3,590.9 L388.9,590.7 L389.4,590.7 L390.0,590.7 L390.6,590.7 L391.2,590.8 L391.7,590.9 L392.3,591.1 L392.9,591.2 L393.5,591.3 L394.1,591.5 L394.6,591.6 L395.2,591.8 L395.8,591.9 L396.4,592.1 L396.9,592.2 L397.5,592.4 L398.1,592.5 L398.7,592.6 L399.2,592.8 L399.8,592.9 L400.4,593.0 L401.0,593.1 L401.6,593.1 L402.1,593.2 L402.7,593.2 L403.3,593.3 L403.9,593.4 L404.4,593.4 L405.0,593.5 L405.6,593.5 L406.2,593.6 L406.8,593.6 L407.3,593.7 L407.9,593.7 L408.5,593.8 L409.1,593.8 L409.6,593.9 L410.2,593.9 L410.8,594.0 L411.4,594.0 L411.9,594.1 L412.5,594.1 L413.1,594.2 L413.7,594.3 L414.3,594.3 L414.8,594.4 L415.4,594.4 L416.0,594.5 L416.6,594.5 L417.1,594.6 L417.7,594.7 L418.3,594.7 L418.9,594.8 L419.4,594.8 L420.0,594.9 L420.6,595.0 L421.2,595.0 L421.8,595.1 L422.3,595.1 L422.9,595.2 L423.5,595.2 L424.1,595.3 L424.6,595.4 L425.2,595.4 L425.8,595.5 L426.4,595.5 L426.9,595.6 L427.5,595.6 L428.1,595.6 L428.7,595.5 L429.3,595.4 L429.8,595.2 L430.4,595.1 L431.0,594.8 L431.6,594.6 L432.1,594.3 L432.7,594.0 L433.3,593.7 L433.9,593.4 L434.4,593.2 L435.0,592.9 L435.6,592.7 L436.2,592.5 L436.8,592.3 L437.3,592.2 L437.9,592.0 L438.5,591.9 L439.1,591.8 L439.6,591.7 L440.2,591.6 L440.8,591.5 L441.4,591.4 L441.9,591.3 L442.5,591.2 L443.1,591.1 L443.7,590.9 L444.3,590.8 L444.8,590.7 L445.4,590.6 L446.0,590.4 L446.6,590.3 L447.1,590.2 L447.7,590.1 L448.3,590.0 L448.9,589.8 L449.4,589.7 L450.0,589.6 L450.6,589.5 L451.2,589.4 L451.8,589.2 L452.3,589.1 L452.9,589.0 L453.5,588.9 L454.1,588.8 L454.6,588.6 L455.2,588.5 L455.8,588.4 L456.4,588.3 L456.9,588.1 L457.5,588.0 L458.1,587.9 L458.7,587.8 L459.3,587.7 L459.8,587.5 L460.4,587.4 L461.0,587.3 L461.6,587.2 L462.1,587.1 L462.7,586.9 L463.3,586.8 L463.9,586.7 L464.5,586.6 L465.0,586.5 L465.6,586.3 L466.2,586.2 L466.8,586.1 L467.3,586.0 L467.9,585.8 L468.5,585.6 L469.1,585.4 L469.6,585.1 L470.2,584.9 L470.8,584.6 L471.4,584.3 L472.0,583.9 L472.5,583.6 L473.1,583.3 L473.7,582.9 L474.3,582.6 L474.8,582.3 L475.4,581.9 L476.0,581.6 L476.6,581.3 L477.1,580.9 L477.7,580.6 L478.3,580.3 L478.9,579.9 L479.5,579.6 L480.0,579.2 L480.6,578.9 L481.2,578.6 L481.8,578.2 L482.3,577.9 L482.9,577.6 L483.5,577.3 L484.1,577.0 L484.6,576.8 L485.2,576.5 L485.8,576.2 L486.4,576.0 L487.0,575.8 L487.5,575.5 L488.1,575.3 L488.7,575.0 L489.3,574.8 L489.8,574.6 L490.4,574.3 L491.0,574.1 L491.6,573.8 L492.1,573.6 L492.7,573.4 L493.3,573.1 L493.9,572.9 L494.5,572.7 L495.0,572.4 L495.6,572.2 L496.2,572.0 L496.8,571.8 L497.3,571.6 L497.9,571.5 L498.5,571.3 L499.1,571.3 L499.6,571.2 L500.2,571.2 L500.8,571.2 L501.4,571.2 L502.0,571.2 L502.5,571.2 L503.1,571.3 L503.7,571.3 L504.3,571.3 L504.8,571.3 L505.4,571.3 L506.0,571.4 L506.6,571.4 L507.1,571.4 L507.7,571.4 L508.3,571.4 L508.9,571.4 L509.5,571.5 L510.0,571.5 L510.6,571.5 L511.2,571.5 L511.8,571.5 L512.3,571.6 L512.9,571.6 L513.5,571.6 L514.1,571.6 L514.6,571.6 L515.2,571.7 L515.8,571.7 L516.4,571.7 L517.0,571.7 L517.5,571.7 L518.1,571.7 L518.7,571.8 L519.3,571.8 L519.8,571.8 L520.4,571.8 L521.0,571.9 L521.6,571.9 L522.2,571.9 L522.7,571.9 L523.3,572.0 L523.9,572.0 L524.5,572.0 L525.0,572.0 L525.6,572.1 L526.2,572.1 L526.8,572.1 L527.3,572.1 L527.9,572.2 L528.5,572.2 L529.1,572.2 L529.7,572.2 L530.2,572.3 L530.8,572.3 L531.4,572.3 L532.0,572.4 L532.5,572.4 L533.1,572.4 L533.7,572.4 L534.3,572.5 L534.8,572.5 L535.4,572.5 L536.0,572.5 L536.6,572.6 L537.2,572.6 L537.7,572.6 L538.3,572.6 L538.9,572.7 L539.5,572.7 L540.0,572.7 L540.6,572.7 L541.2,572.7 L541.8,572.7 L542.3,572.7 L542.9,572.7 L543.5,572.7 L544.1,572.7 L544.7,572.7 L545.2,572.7 L545.8,572.6 L546.4,572.6 L547.0,572.6 L547.5,572.6 L548.1,572.5 L548.7,572.5 L549.3,572.5 L549.8,572.5 L550.4,572.5 L551.0,572.4 L551.6,572.4 L552.2,572.4 L552.7,572.4 L553.3,572.3 L553.9,572.3 L554.5,572.3 L555.0,572.3 L555.6,572.2 L556.2,572.2 L556.8,572.2 L557.3,572.2 L557.9,572.1 L558.5,572.1 L559.1,572.1 L559.7,572.1 L560.2,572.0 L560.8,572.0 L561.4,572.0 L562.0,572.0 L562.5,572.0 L563.1,571.9 L563.7,571.9 L564.3,571.9 L564.8,571.8 L565.4,571.8 L566.0,571.7 L566.6,571.7 L567.2,571.6 L567.7,571.5 L568.3,571.5 L568.9,571.4 L569.5,571.3 L570.0,571.2 L570.6,571.1 L571.2,571.0 L571.8,570.9 L572.3,570.8 L572.9,570.8 L573.5,570.7 L574.1,570.6 L574.7,570.5 L575.2,570.5 L575.8,570.4 L576.4,570.4 L577.0,570.4 L577.5,570.4 L578.1,570.4 L578.7,570.4 L579.3,570.5 L579.9,570.5 L580.4,570.5 L581.0,570.6 L581.6,570.6 L582.2,570.6 L582.7,570.6 L583.3,570.7 L583.9,570.7 L584.5,570.7 L585.0,570.7 L585.6,570.8 L586.2,570.8 L586.8,570.8 L587.4,570.9 L587.9,570.9 L588.5,570.9 L589.1,570.9 L589.7,571.0 L590.2,571.0 L590.8,571.0 L591.4,571.1 L592.0,571.1 L592.5,571.2 L593.1,571.2 L593.7,571.3 L594.3,571.4 L594.9,571.5 L595.4,571.6 L596.0,571.7 L596.6,571.8 L597.2,571.9 L597.7,572.0 L598.3,572.1 L598.9,572.3 L599.5,572.4 L600.0,572.5 L600.6,572.6 L601.2,572.7 L601.8,572.8 L602.4,572.9 L602.9,573.0 L603.5,573.1 L604.1,573.2 L604.7,573.3 L605.2,573.4 L605.8,573.6 L606.4,573.7 L607.0,573.8 L607.5,573.9 L608.1,574.0 L608.7,574.1 L609.3,574.2 L609.9,574.3 L610.4,574.4 L611.0,574.5 L611.6,574.6 L612.2,574.7 L612.7,574.9 L613.3,575.0 L613.9,575.2 L614.5,575.4 L615.0,575.6 L615.6,575.8 L616.2,576.1 L616.8,576.4 L617.4,576.7 L617.9,577.0 L618.5,577.3 L619.1,577.6 L619.7,577.9 L620.2,578.2 L620.8,578.5 L621.4,578.7 L622.0,578.9 L622.5,579.1 L623.1,579.3 L623.7,579.4 L624.3,579.5 L624.9,579.6 L625.4,579.7 L626.0,579.8 L626.6,579.9 L627.2,580.0 L627.7,580.1 L628.3,580.2 L628.9,580.3 L629.5,580.4 L630.0,580.5 L630.6,580.6 L631.2,580.7 L631.8,580.8 L632.4,580.9 L632.9,581.0 L633.5,581.1 L634.1,581.2 L634.7,581.3 L635.2,581.4 L635.8,581.5 L636.4,581.6 L637.0,581.7 L637.6,581.8 L638.1,582.0 L638.7,582.1 L639.3,582.1 L639.9,582.2 L640.4,582.3 L641.0,582.4 L641.6,582.5 L642.2,582.5 L642.7,582.6 L643.3,582.6 L643.9,582.7 L644.5,582.7 L645.1,582.8 L645.6,582.8 L646.2,582.8 L646.8,582.9 L647.4,582.9 L647.9,582.9 L648.5,583.0 L649.1,583.0 L649.7,583.1 L650.2,583.1 L650.8,583.1 L651.4,583.2 L652.0,583.2 L652.6,583.2 L653.1,583.3 L653.7,583.3 L654.3,583.4 L654.9,583.4 L655.4,583.4 L656.0,583.5 L656.6,583.5 L657.2,583.5 L657.7,583.6 L658.3,583.6 L658.9,583.7 L659.5,583.7 L660.1,583.7 L660.6,583.8 L661.2,583.8 L661.8,583.8 L662.4,583.9 L662.9,583.9 L663.5,584.0 L664.1,584.0 L664.7,584.0 L665.2,584.1 L665.8,584.1 L666.4,584.1 L667.0,584.2 L667.6,584.2 L668.1,584.3 L668.7,584.3 L669.3,584.3 L669.9,584.4 L670.4,584.4 L671.0,584.4 L671.6,584.5 L672.2,584.5 L672.7,584.5 L673.3,584.6 L673.9,584.6 L674.5,584.7 L675.1,584.7 L675.6,584.7 L676.2,584.8 L676.8,584.8 L677.4,584.8 L677.9,584.9 L678.5,584.9 L679.1,584.9 L679.7,585.0 L680.2,585.0 L680.8,585.0 L681.4,585.1 L682.0,585.1 L682.6,585.1 L683.1,585.2 L683.7,585.2 L684.3,585.2 L684.9,585.3 L685.4,585.3 L686.0,585.3 L686.6,585.4 L687.2,585.4 L687.8,585.4 L688.3,585.5 L688.9,585.5 L689.5,585.6 L690.1,585.6 L690.6,585.6 L691.2,585.7 L691.8,585.7 L692.4,585.7 L692.9,585.8 L693.5,585.8 L694.1,585.8 L694.7,585.9 L695.3,585.9 L695.8,585.9 L696.4,586.0 L697.0,586.0 L697.6,586.0 L698.1,586.1 L698.7,586.1 L699.3,586.1 L699.9,586.2 L700.4,586.3 L701.0,586.4 L701.6,586.5 L702.2,586.7 L702.8,586.8 L703.3,587.1 L703.9,587.3 L704.5,587.6 L705.1,587.9 L705.6,588.2 L706.2,588.5 L706.8,588.8 L707.4,589.0 L707.9,589.3 L708.5,589.5 L709.1,589.7 L709.7,589.9 L710.3,590.0 L710.8,590.1 L711.4,590.2 L712.0,590.2 L712.6,590.3 L713.1,590.3 L713.7,590.4 L714.3,590.4 L714.9,590.5 L715.4,590.5 L716.0,590.6 L716.6,590.6 L717.2,590.7 L717.8,590.7 L718.3,590.8 L718.9,590.8 L719.5,590.9 L720.1,590.9 L720.6,591.0 L721.2,591.0 L721.8,591.1 L722.4,591.1 L722.9,591.2 L723.5,591.3 L724.1,591.3 L724.7,591.4 L725.3,591.4 L725.8,591.5 L726.4,591.5 L727.0,591.6 L727.6,591.7 L728.1,591.7 L728.7,591.8 L729.3,591.8 L729.9,591.9 L730.4,591.9 L731.0,592.0 L731.6,592.0 L732.2,592.1 L732.8,592.2 L733.3,592.2 L733.9,592.3 L734.5,592.3 L735.1,592.4 L735.6,592.4 L736.2,592.5 L736.8,592.6 L737.4,592.6 L737.9,592.7 L738.5,592.7 L739.1,592.8 L739.7,592.8 L740.3,592.8 L740.8,592.9 L741.4,592.9 L742.0,592.9 L742.6,592.9 L743.1,592.9 L743.7,592.9 L744.3,592.9 L744.9,592.9 L745.4,592.9 L746.0,592.9 L746.6,592.9 L747.2,592.9 L747.8,592.9 L748.3,592.9 L748.9,592.9 L749.5,592.9 L750.1,592.9 L750.6,592.9 L751.2,592.9 L751.8,592.9 L752.4,592.9 L753.0,592.9 L753.5,592.9 L754.1,592.9 L754.7,592.9 L755.3,592.9 L755.8,592.9 L756.4,592.9 L757.0,592.9 L757.6,592.9 L758.1,592.9 L758.7,592.9 L759.3,592.9 L759.9,592.9 L760.5,592.9 L761.0,592.9 L761.6,592.9 L762.2,592.9 L762.8,592.9 L763.3,592.9 L763.9,592.9 L764.5,592.9 L765.1,592.9 L765.6,592.9 L766.2,592.9 L766.8,592.9 L767.4,592.9 L768.0,592.9 L768.5,592.9 L769.1,592.9 L769.7,592.9 L770.3,592.9 L770.8,592.9 L771.4,592.9 L772.0,592.9 L772.6,592.9 L773.1,592.9 L773.7,592.9 L774.3,592.9 L774.9,592.9 L775.5,592.9 L776.0,592.9 L776.6,592.9 L777.2,592.9 L777.8,592.9 L778.3,592.9 L778.9,592.9 L779.5,592.9 L780.1,592.9 L780.6,592.9 L781.2,592.9 L781.8,592.9 L782.4,592.9 L783.0,592.9 L783.5,592.9 L784.1,592.8 L784.7,592.8 L785.3,592.8 L785.8,592.8 L786.4,592.7 L787.0,592.7 L787.6,592.7 L788.1,592.7 L788.7,592.6 L789.3,592.6 L789.9,592.6 L790.5,592.5 L791.0,592.5 L791.6,592.5 L792.2,592.4 L792.8,592.4 L793.3,592.4 L793.9,592.3 L794.5,592.3 L795.1,592.3 L795.6,592.3 L796.2,592.2 L796.8,592.2 L797.4,592.2 L798.0,592.1 L798.5,592.1 L799.1,592.1 L799.7,592.0 L800.3,592.0 L800.8,592.0 L801.4,592.0 L802.0,591.9 L802.6,591.9 L803.1,591.9 L803.7,591.8 L804.3,591.8 L804.9,591.8 L805.5,591.7 L806.0,591.7 L806.6,591.7 L807.2,591.6 L807.8,591.6 L808.3,591.6 L808.9,591.6 L809.5,591.5 L810.1,591.5 L810.7,591.5 L811.2,591.4 L811.8,591.4 L812.4,591.4 L813.0,591.3 L813.5,591.3 L814.1,591.3 L814.7,591.3 L815.3,591.2 L815.8,591.2 L816.4,591.2 L817.0,591.1 L817.6,591.1 L818.2,591.1 L818.7,591.0 L819.3,591.0 L819.9,591.0 L820.5,591.0 L821.0,590.9 L821.6,590.9 L822.2,590.9 L822.8,590.9 L823.3,590.9 L823.9,590.8 L824.5,590.8 L825.1,590.8 L825.7,590.8 L826.2,590.8 L826.8,590.8 L827.4,590.7 L828.0,590.7 L828.5,590.7 L829.1,590.7 L829.7,590.7 L830.3,590.7 L830.8,590.7 L831.4,590.6 L832.0,590.6 L832.6,590.6 L833.2,590.6 L833.7,590.6 L834.3,590.6 L834.9,590.5 L835.5,590.5 L836.0,590.5 L836.6,590.5 L837.2,590.5 L837.8,590.5 L838.3,590.5 L838.9,590.4 L839.5,590.4 L840.1,590.4 L840.7,590.4 L841.2,590.4 L841.8,590.4 L842.4,590.4 L843.0,590.3 L843.5,590.3 L844.1,590.3 L844.7,590.3 L845.3,590.3 L845.8,590.3 L846.4,590.2 L847.0,590.2 L847.6,590.2 L848.2,590.2 L848.7,590.2 L849.3,590.2 L849.9,590.2 L850.5,590.1 L851.0,590.1 L851.6,590.1 L852.2,590.1 L852.8,590.1 L853.3,590.1 L853.9,590.0 L854.5,590.0 L855.1,590.0 L855.7,590.0 L856.2,590.0 L856.8,590.0 L857.4,590.0 L858.0,589.9 L858.5,589.9 L859.1,589.9 L859.7,589.9 L860.3,589.9 L860.8,589.9 L861.4,589.9 L862.0,589.9 L862.6,589.9 L863.2,589.9 L863.7,589.9 L864.3,589.9 L864.9,589.9 L865.5,589.9 L866.0,589.9 L866.6,589.9 L867.2,589.9 L867.8,589.9 L868.4,589.9 L868.9,589.9 L869.5,589.9 L870.1,589.9 L870.7,589.9 L871.2,589.9 L871.8,589.9 L872.4,589.9 L873.0,589.9 L873.5,589.9 L874.1,589.9 L874.7,589.9 L875.3,589.9 L875.9,589.9 L876.4,589.9 L877.0,589.9 L877.6,589.9 L878.2,589.9 L878.7,589.9 L879.3,589.9 L879.9,589.9 L880.5,589.9 L881.0,589.9 L881.6,589.9 L882.2,589.9 L882.8,589.9 L883.4,589.9 L883.9,589.9 L884.5,589.9 L885.1,589.9 L885.7,589.9 L886.2,589.9 L886.8,589.9 L887.4,589.9 L888.0,589.9 L888.5,589.9 L889.1,589.9 L889.7,589.9 L890.3,589.9 L890.9,589.9 L891.4,589.9 L892.0,589.9 L892.6,589.9 L893.2,589.9 L893.7,589.9 L894.3,589.9 L894.9,589.9 L895.5,589.9 L896.0,589.9 L896.6,589.9 L897.2,589.9 L897.8,589.9 L898.4,589.9 L898.9,589.9 L899.5,589.9 L900.1,589.9 L900.7,589.9 L901.2,589.9 L901.8,589.8 L902.4,589.8 L903.0,589.7 L903.5,589.6 L904.1,589.5 L904.7,589.4 L905.3,589.3 L905.9,589.2 L906.4,589.1 L907.0,589.0 L907.6,588.8 L908.2,588.7 L908.7,588.6 L909.3,588.5 L909.9,588.4 L910.5,588.2 L911.0,588.1 L911.6,588.0 L912.2,587.9 L912.8,587.8 L913.4,587.7 L913.9,587.5 L914.5,587.4 L915.1,587.3 L915.7,587.2 L916.2,587.1 L916.8,587.0 L917.4,586.8 L918.0,586.7 L918.5,586.6 L919.1,586.5 L919.7,586.4 L920.3,586.3 L920.9,586.1 L921.4,586.0 L922.0,585.9 L922.6,585.8 L923.2,585.7 L923.7,585.5 L924.3,585.4 L924.9,585.3 L925.5,585.1 L926.1,585.0 L926.6,584.9 L927.2,584.8 L927.8,584.6 L928.4,584.5 L928.9,584.4 L929.5,584.3 L930.1,584.1 L930.7,584.0 L931.2,583.9 L931.8,583.7 L932.4,583.6 L933.0,583.5 L933.6,583.4 L934.1,583.2 L934.7,583.1 L935.3,583.0 L935.9,582.8 L936.4,582.7 L937.0,582.6 L937.6,582.5 L938.2,582.3 L938.7,582.2 L939.3,582.1 L939.9,582.0 L940.5,581.8 L941.1,581.7 L941.6,581.6 L942.2,581.4 L942.8,581.3 L943.4,581.2 L943.9,581.1 L944.5,580.9 L945.1,580.8 L945.7,580.7 L946.2,580.6 L946.8,580.4 L947.4,580.3 L948.0,580.2 L948.6,580.1 L949.1,579.9 L949.7,579.8 L950.3,579.7 L950.9,579.6 L951.4,579.5 L952.0,579.4 L952.6,579.3 L953.2,579.1 L953.7,579.0 L954.3,578.9 L954.9,578.8 L955.5,578.7 L956.1,578.6 L956.6,578.5 L957.2,578.4 L957.8,578.2 L958.4,578.1 L958.9,578.0 L959.5,577.9 L960.1,577.8 L960.7,577.7 L961.2,577.6 L961.8,577.4 L962.4,577.3 L963.0,577.2 L963.6,577.1 L964.1,577.0 L964.7,576.9 L965.3,576.8 L965.9,576.7 L966.4,576.5 L967.0,576.4 L967.6,576.3 L968.2,576.2 L968.7,576.1 L969.3,576.0 L969.9,575.9 L970.5,575.7 L971.1,575.6 L971.6,575.5 L972.2,575.3 L972.8,575.1 L973.4,574.8 L973.9,574.6 L974.5,574.3 L975.1,573.9 L975.7,573.6 L976.2,573.2 L976.8,572.7 L977.4,572.2 L978.0,571.7 L978.6,571.1 L979.1,570.5 L979.7,569.8 L980.3,569.1 L980.9,568.4 L981.4,567.6 L982.0,566.8 L982.6,566.1 L983.2,565.3 L983.8,564.6 L984.3,563.9 L984.9,563.2 L985.5,562.7 L986.1,562.1 L986.6,561.7 L987.2,561.3 L987.8,560.9 L988.4,560.6 L988.9,560.3 L989.5,560.1 L990.1,559.8 L990.7,559.5 L991.3,559.3 L991.8,559.0 L992.4,558.7 L993.0,558.5 L993.6,558.2 L994.1,557.9 L994.7,557.7 L995.3,557.4 L995.9,557.1 L996.4,556.9 L997.0,556.6 L997.6,556.4 L998.2,556.2 L998.8,556.1 L999.3,556.0 L999.9,555.8 L1000.5,555.8 L1001.1,555.7 L1001.6,555.7 L1002.2,555.6 L1002.8,555.6 L1003.4,555.5 L1003.9,555.5 L1004.5,555.4 L1005.1,555.4 L1005.7,555.3 L1006.3,555.3 L1006.8,555.2 L1007.4,555.2 L1008.0,555.2 L1008.6,555.1 L1009.1,555.1 L1009.7,555.0 L1010.3,555.0 L1010.9,554.9 L1011.4,554.9 L1012.0,554.8 L1012.6,554.8 L1013.2,554.7 L1013.8,554.7 L1014.3,554.7 L1014.9,554.6 L1015.5,554.6 L1016.1,554.5 L1016.6,554.5 L1017.2,554.4 L1017.8,554.4 L1018.4,554.3 L1018.9,554.3 L1019.5,554.2 L1020.1,554.1 L1020.7,554.0 L1021.3,553.9 L1021.8,553.8 L1022.4,553.7 L1023.0,553.5 L1023.6,553.4 L1024.1,553.3 L1024.7,553.1 L1025.3,553.0 L1025.9,552.8 L1026.4,552.6 L1027.0,552.4 L1027.6,552.2 L1028.2,552.0 L1028.8,551.7 L1029.3,551.5 L1029.9,551.2 L1030.5,550.8 L1031.1,550.5 L1031.6,550.2 L1032.2,549.9 L1032.8,549.6 L1033.4,549.3 L1034.0,549.0 L1034.5,548.8 L1035.1,548.6 L1035.7,548.4 L1036.3,548.2 L1036.8,548.1 L1037.4,547.9 L1038.0,547.9 L1038.6,547.8 L1039.1,547.8 L1039.7,547.7 L1040.3,547.6 L1040.9,547.6 L1041.5,547.5 L1042.0,547.5 L1042.6,547.4 L1043.2,547.3 L1043.8,547.3 L1044.3,547.2 L1044.9,547.2 L1045.5,547.1 L1046.1,547.1 L1046.6,547.0 L1047.2,546.9 L1047.8,546.9 L1048.4,546.8 L1049.0,546.8 L1049.5,546.7 L1050.1,546.7 L1050.7,546.6 L1051.3,546.5 L1051.8,546.5 L1052.4,546.4 L1053.0,546.4 L1053.6,546.3 L1054.1,546.2 L1054.7,546.2 L1055.3,546.1 L1055.9,546.1 L1056.5,546.0 L1057.0,546.0 L1057.6,545.9 L1058.2,545.8 L1058.8,545.8 L1059.3,545.7 L1059.9,545.7 L1060.5,545.6 L1061.1,545.6 L1061.6,545.5 L1062.2,545.4 L1062.8,545.4 L1063.4,545.3 L1064.0,545.3 L1064.5,545.2 L1065.1,545.1 L1065.7,545.1 L1066.3,545.0 L1066.8,545.0 L1067.4,544.9 L1068.0,544.9 L1068.6,544.8 L1069.1,544.8 L1069.7,544.8 L1070.3,544.7 L1070.9,544.7 L1071.5,544.7 L1072.0,544.7 L1072.6,544.6 L1073.2,544.6 L1073.8,544.6 L1074.3,544.6 L1074.9,544.6 L1075.5,544.5 L1076.1,544.5 L1076.6,544.5 L1077.2,544.5 L1077.8,544.4 L1078.4,544.4 L1079.0,544.4 L1079.5,544.4 L1080.1,544.4 L1080.7,544.3 L1081.3,544.3 L1081.8,544.3 L1082.4,544.3 L1083.0,544.2 L1083.6,544.2 L1084.1,544.2 L1084.7,544.2 L1085.3,544.1 L1085.9,544.1 L1086.5,544.1 L1087.0,544.1 L1087.6,544.1 L1088.2,544.0 L1088.8,544.0 L1089.3,544.0 L1089.9,544.0 L1090.5,543.9 L1091.1,543.9 L1091.6,543.9 L1092.2,543.9 L1092.8,543.9 L1093.4,543.8 L1094.0,543.8 L1094.5,543.8 L1095.1,543.8 L1095.7,543.7 L1096.3,543.7 L1096.8,543.7 L1097.4,543.7 L1098.0,543.6 L1098.6,543.6 L1099.2,543.6 L1099.7,543.6 L1100.3,543.6 L1100.9,543.5 L1101.5,543.5 L1102.0,543.5 L1102.6,543.4 L1103.2,543.4 L1103.8,543.3 L1104.3,543.2 L1104.9,543.1 L1105.5,543.0 L1106.1,542.9 L1106.7,542.7 L1107.2,542.6 L1107.8,542.4 L1108.4,542.2 L1109.0,542.1 L1109.5,541.9 L1110.1,541.7 L1110.7,541.6 L1111.3,541.4 L1111.8,541.3 L1112.4,541.1 L1113.0,540.9 L1113.6,540.8 L1114.2,540.6 L1114.7,540.4 L1115.3,540.3 L1115.9,540.1 L1116.5,540.0 L1117.0,539.8 L1117.6,539.6 L1118.2,539.5 L1118.8,539.3 L1119.3,539.1 L1119.9,539.0 L1120.5,538.8 L1121.1,538.7 L1121.7,538.5 L1122.2,538.2 L1122.8,538.0 L1123.4,537.7 L1124.0,537.4 L1124.5,537.1 L1125.1,536.7 L1125.7,536.3 L1126.3,535.8 L1126.8,535.4 L1127.4,535.0 L1128.0,534.5 L1128.6,534.1 L1129.2,533.7 L1129.7,533.2 L1130.3,532.8 L1130.9,532.4 L1131.5,531.9 L1132.0,531.5 L1132.6,531.1 L1133.2,530.6 L1133.8,530.2 L1134.3,529.8 L1134.9,529.4 L1135.5,529.0 L1136.1,528.6 L1136.7,528.2 L1137.2,527.8 L1137.8,527.4 L1138.4,527.1 L1139.0,526.7 L1139.5,526.3 L1140.1,525.9 L1140.7,525.5 L1141.3,525.1 L1141.8,524.8 L1142.4,524.4 L1143.0,524.0 L1143.6,523.6 L1144.2,523.2 L1144.7,522.8 L1145.3,522.5 L1145.9,522.1 L1146.5,521.7 L1147.0,521.3 L1147.6,520.9 L1148.2,520.5 L1148.8,520.2 L1149.3,519.8 L1149.9,519.5 L1150.5,519.2 L1151.1,519.0 L1151.7,518.7 L1152.2,518.5 L1152.8,518.4 L1153.4,518.2 L1154.0,518.1 L1154.5,517.9 L1155.1,517.8 L1155.7,517.7 L1156.3,517.5 L1156.9,517.4 L1157.4,517.3 L1158.0,517.1 L1158.6,517.0 L1159.2,516.9 L1159.7,516.8 L1160.3,516.6 L1160.9,516.5 L1161.5,516.4 L1162.0,516.2 L1162.6,516.1 L1163.2,516.0 L1163.8,515.8 L1164.4,515.7 L1164.9,515.6 L1165.5,515.4 L1166.1,515.3 L1166.7,515.2 L1167.2,515.0 L1167.8,514.9 L1168.4,514.8 L1169.0,514.6 L1169.5,514.5 L1170.1,514.4 L1170.7,514.2 L1171.3,514.1 L1171.9,514.0 L1172.4,513.8 L1173.0,513.7 L1173.6,513.6 L1174.2,513.4 L1174.7,513.3 L1175.3,513.2 L1175.9,513.0 L1176.5,512.9 L1177.0,512.8 L1177.6,512.7 L1178.2,512.6 L1178.8,512.5 L1179.4,512.5 L1179.9,512.4 L1180.5,512.4 L1181.1,512.4 L1181.7,512.3 L1182.2,512.3 L1182.8,512.3 L1183.4,512.3 L1184.0,512.2 L1184.5,512.2 L1185.1,512.2 L1185.7,512.1 L1186.3,512.1 L1186.9,512.1 L1187.4,512.1 L1188.0,512.0 L1188.6,512.0 L1189.2,512.0 L1189.7,511.9 L1190.3,511.9 L1190.9,511.9 L1191.5,511.9 L1192.0,511.8 L1192.6,511.8 L1193.2,511.8 L1193.8,511.8 L1194.4,511.7 L1194.9,511.7 L1195.5,511.7 L1196.1,511.6 L1196.7,511.6 L1197.2,511.6 L1197.8,511.6 L1198.4,511.5 L1199.0,511.5 L1199.5,511.5 L1200.1,511.4 L1200.7,511.4 L1201.3,511.4 L1201.9,511.4 L1202.4,511.3 L1203.0,511.3 L1203.6,511.3 L1204.2,511.2 L1204.7,511.2 L1205.3,511.2 L1205.9,511.2 L1206.5,511.1 L1207.0,511.1 L1207.6,511.1 L1208.2,511.0 L1208.8,511.0 L1209.4,511.0 L1209.9,511.0 L1210.5,510.9 L1211.1,510.9 L1211.7,510.9 L1212.2,510.9 L1212.8,510.8 L1213.4,510.8 L1214.0,510.8 L1214.6,510.7 L1215.1,510.7 L1215.7,510.7 L1216.3,510.7 L1216.9,510.6 L1217.4,510.6 L1218.0,510.5 L1218.6,510.5 L1219.2,510.4 L1219.7,510.3 L1220.3,510.2 L1220.9,510.1 L1221.5,510.0 L1222.1,509.8 L1222.6,509.7 L1223.2,509.6 L1223.8,509.4 L1224.4,509.3 L1224.9,509.1 L1225.5,509.0 L1226.1,508.8 L1226.7,508.7 L1227.2,508.6 L1227.8,508.4 L1228.4,508.3 L1229.0,508.1 L1229.6,508.0 L1230.1,507.8 L1230.7,507.7 L1231.3,507.6 L1231.9,507.4 L1232.4,507.3 L1233.0,507.1 L1233.6,507.0 L1234.2,506.8 L1234.7,506.7 L1235.3,506.6 L1235.9,506.4 L1236.5,506.3 L1237.1,506.1 L1237.6,506.0 L1238.2,505.8 L1238.8,505.7 L1239.4,505.6 L1239.9,505.4 L1240.5,505.3 L1241.1,505.1 L1241.7,505.0 L1242.2,504.8 L1242.8,504.7 L1243.4,504.5 L1244.0,504.4 L1244.6,504.3 L1245.1,504.1 L1245.7,504.0 L1246.3,503.9 L1246.9,503.8 L1247.4,503.6 L1248.0,503.5 L1248.6,503.4 L1249.2,503.3 L1249.7,503.2 L1250.3,503.1 L1250.9,503.1 L1251.5,503.0 L1252.1,502.9 L1252.6,502.8 L1253.2,502.7 L1253.8,502.6 L1254.4,502.5 L1254.9,502.4 L1255.5,502.3 L1256.1,502.2 L1256.7,502.1 L1257.2,502.0 L1257.8,501.9 L1258.4,501.8 L1259.0,501.7 L1259.6,501.6 L1260.1,501.4 L1260.7,501.3 L1261.3,501.1 L1261.9,500.9 L1262.4,500.7 L1263.0,500.5 L1263.6,500.3 L1264.2,500.1 L1264.8,499.9 L1265.3,499.7 L1265.9,499.5 L1266.5,499.2 L1267.1,499.0 L1267.6,498.8 L1268.2,498.6 L1268.8,498.4 L1269.4,498.2 L1269.9,498.0 L1270.5,497.8 L1271.1,497.6 L1271.7,497.4 L1272.3,497.2 L1272.8,497.0 L1273.4,496.8 L1274.0,496.6 L1274.6,496.4 L1275.1,496.3 L1275.7,496.2 L1276.3,496.0 L1276.9,495.9 L1277.4,495.8 L1278.0,495.7 L1278.6,495.5 L1279.2,495.4 L1279.8,495.3 L1280.3,495.2 L1280.9,495.0 L1281.5,494.9 L1282.1,494.8 L1282.6,494.7 L1283.2,494.6 L1283.8,494.4 L1284.4,494.3 L1284.9,494.2 L1285.5,494.1 L1286.1,494.0 L1286.7,493.8 L1287.3,493.7 L1287.8,493.6 L1288.4,493.5 L1289.0,493.3 L1289.6,493.2 L1290.1,493.1 L1290.7,493.0 L1291.3,492.9 L1291.9,492.8 L1292.4,492.7 L1293.0,492.6 L1293.6,492.5 L1294.2,492.4 L1294.8,492.4 L1295.3,492.3 L1295.9,492.2 L1296.5,492.2 L1297.1,492.1 L1297.6,492.0 L1298.2,491.9 L1298.8,491.9 L1299.4,491.8 L1299.9,491.7 L1300.5,491.7 L1301.1,491.6 L1301.7,491.5 L1302.3,491.5 L1302.8,491.4 L1303.4,491.3 L1304.0,491.3 L1304.6,491.3 L1305.1,491.2" fill="none" stroke="#8bbf74" stroke-width="5.2" stroke-linejoin="round"/>
<path d="M171.3,651.3 L171.4,649.3 L171.5,645.5 L171.6,649.7 L171.7,652.1 L171.8,652.5 L171.9,649.2 L172.0,646.1 L172.1,647.4 L172.2,651.1 L172.3,650.8 L172.4,649.5 L172.5,642.4 L172.6,641.3 L172.7,641.6 L172.8,641.9 L172.9,639.7 L173.0,641.3 L173.1,644.1 L173.2,644.2 L173.3,644.5 L173.4,645.7 L173.5,645.3 L173.5,646.5 L173.6,642.4 L173.7,641.8 L173.8,637.7 L173.9,639.9 L174.0,643.8 L174.1,640.5 L174.2,643.7 L174.3,648.1 L174.4,646.4 L174.5,648.2 L174.6,648.8 L174.7,647.1 L174.8,636.6 L174.9,636.7 L175.0,640.3 L175.1,642.0 L175.2,643.0 L175.3,643.5 L175.4,641.6 L175.5,645.7 L175.6,647.2 L175.7,651.4 L175.8,650.3 L175.9,651.1 L176.0,651.9 L176.0,648.3 L176.1,653.2 L176.2,653.6 L176.3,651.6 L176.4,653.6 L176.5,652.8 L176.6,652.9 L176.7,646.7 L176.8,649.9 L176.9,647.8 L177.0,652.5 L177.1,646.3 L177.2,648.8 L177.3,646.0 L177.4,649.0 L177.5,647.7 L177.6,645.4 L177.7,647.8 L177.8,644.3 L177.9,644.6 L178.0,651.8 L178.1,647.6 L178.2,646.6 L178.3,648.6 L178.4,643.3 L178.5,639.3 L178.5,641.2 L178.6,640.8 L178.7,637.3 L178.8,639.1 L178.9,637.1 L179.0,641.3 L179.1,639.8 L179.2,638.9 L179.3,638.3 L179.4,637.5 L179.5,637.5 L179.6,639.6 L179.7,639.8 L179.8,639.5 L179.9,637.4 L180.0,637.1 L180.1,639.9 L180.2,637.6 L180.3,639.0 L180.4,639.9 L180.5,638.6 L180.6,636.3 L180.7,638.7 L180.8,639.6 L180.9,634.4 L181.0,633.7 L181.0,639.2 L181.1,638.3 L181.2,637.5 L181.3,641.1 L181.4,643.4 L181.5,642.8 L181.6,640.8 L181.7,641.5 L181.8,642.3 L181.9,638.4 L182.0,640.6 L182.1,638.5 L182.2,645.4 L182.3,644.0 L182.4,641.2 L182.5,637.0 L182.6,639.6 L182.7,646.6 L182.8,642.3 L182.9,634.6 L183.0,635.8 L183.1,636.6 L183.2,639.4 L183.3,637.3 L183.4,639.6 L183.5,638.4 L183.5,637.8 L183.6,636.6 L183.7,641.7 L183.8,636.8 L183.9,635.6 L184.0,643.5 L184.1,643.5 L184.2,643.2 L184.3,646.1 L184.4,643.4 L184.5,645.7 L184.6,643.2 L184.7,639.4 L184.8,643.3 L184.9,645.8 L185.0,646.4 L185.1,643.0 L185.2,647.0 L185.3,648.3 L185.4,649.6 L185.5,645.3 L185.6,644.2 L185.7,644.0 L185.8,647.5 L185.9,646.3 L186.0,647.5 L186.0,648.0 L186.1,645.7 L186.2,644.5 L186.3,647.0 L186.4,650.9 L186.5,649.9 L186.6,645.5 L186.7,649.1 L186.8,645.2 L186.9,648.6 L187.0,646.0 L187.1,642.9 L187.2,639.8 L187.3,640.6 L187.4,644.8 L187.5,645.1 L187.6,646.0 L187.7,643.1 L187.8,650.8 L187.9,648.5 L188.0,647.9 L188.1,644.6 L188.2,645.5 L188.3,644.2 L188.4,640.8 L188.5,638.4 L188.5,642.1 L188.6,643.7 L188.7,643.8 L188.8,644.0 L188.9,645.6 L189.0,641.9 L189.1,641.4 L189.2,636.5 L189.3,636.0 L189.4,636.6 L189.5,637.8 L189.6,636.6 L189.7,639.8 L189.8,642.8 L189.9,643.4 L190.0,637.4 L190.1,633.7 L190.2,636.2 L190.3,639.5 L190.4,640.7 L190.5,635.2 L190.6,636.8 L190.7,640.2 L190.8,643.5 L190.9,642.1 L191.0,645.5 L191.0,642.4 L191.1,644.4 L191.2,639.5 L191.3,638.1 L191.4,638.1 L191.5,635.3 L191.6,639.5 L191.7,641.7 L191.8,639.7 L191.9,638.5 L192.0,639.1 L192.1,638.4 L192.2,638.5 L192.3,635.8 L192.4,643.7 L192.5,639.9 L192.6,638.2 L192.7,643.2 L192.8,643.2 L192.9,639.7 L193.0,640.9 L193.1,637.3 L193.2,643.1 L193.3,642.9 L193.4,644.0 L193.5,648.1 L193.5,647.6 L193.6,648.1 L193.7,643.0 L193.8,644.3 L193.9,638.8 L194.0,645.9 L194.1,643.6 L194.2,649.2 L194.3,637.5 L194.4,638.4 L194.5,640.8 L194.6,640.9 L194.7,639.9 L194.8,643.5 L194.9,644.0 L195.0,643.3 L195.1,644.1 L195.2,646.1 L195.3,638.1 L195.4,643.9 L195.5,638.7 L195.6,642.3 L195.7,640.7 L195.8,641.0 L195.9,640.6 L196.0,639.7 L196.0,642.4 L196.1,639.2 L196.2,644.5 L196.3,647.1 L196.4,645.9 L196.5,641.8 L196.6,645.6 L196.7,646.9 L196.8,643.5 L196.9,648.3 L197.0,647.7 L197.1,640.3 L197.2,640.6 L197.3,643.6 L197.4,643.3 L197.5,644.3 L197.6,640.8 L197.7,642.0 L197.8,645.6 L197.9,647.7 L198.0,646.1 L198.1,647.2 L198.2,646.1 L198.3,644.6 L198.4,644.0 L198.5,637.6 L198.6,641.2 L198.6,641.3 L198.7,638.0 L198.8,643.8 L198.9,645.8 L199.0,644.7 L199.1,644.4 L199.2,641.9 L199.3,639.3 L199.4,636.9 L199.5,638.9 L199.6,643.2 L199.7,645.1 L199.8,643.7 L199.9,647.3 L200.0,646.8 L200.1,646.0 L200.2,644.5 L200.3,637.2 L200.4,638.4 L200.5,638.4 L200.6,644.4 L200.7,639.6 L200.8,642.4 L200.9,639.9 L201.0,641.4 L201.1,642.0 L201.1,639.8 L201.2,644.1 L201.3,643.4 L201.4,643.5 L201.5,646.9 L201.6,642.8 L201.7,645.9 L201.8,644.7 L201.9,643.8 L202.0,645.4 L202.1,650.4 L202.2,644.8 L202.3,643.9 L202.4,645.6 L202.5,649.9 L202.6,648.0 L202.7,645.5 L202.8,646.7 L202.9,644.7 L203.0,647.5 L203.1,651.0 L203.2,648.4 L203.3,648.8 L203.4,643.7 L203.5,646.2 L203.6,647.6 L203.6,650.0 L203.7,649.3 L203.8,650.6 L203.9,654.2 L204.0,654.9 L204.1,647.8 L204.2,647.8 L204.3,654.1 L204.4,651.4 L204.5,648.8 L204.6,647.7 L204.7,645.3 L204.8,646.5 L204.9,647.7 L205.0,652.7 L205.1,650.0 L205.2,655.3 L205.3,656.2 L205.4,651.8 L205.5,652.0 L205.6,652.2 L205.7,653.6 L205.8,653.3 L205.9,653.5 L206.0,653.3 L206.1,655.3 L206.1,656.5 L206.2,657.3 L206.3,651.6 L206.4,654.0 L206.5,651.8 L206.6,650.2 L206.7,649.8 L206.8,648.3 L206.9,647.3 L207.0,650.0 L207.1,651.1 L207.2,656.3 L207.3,649.5 L207.4,648.9 L207.5,647.5 L207.6,648.0 L207.7,651.0 L207.8,652.5 L207.9,648.9 L208.0,646.4 L208.1,651.6 L208.2,655.4 L208.3,652.2 L208.4,650.1 L208.5,649.9 L208.6,650.4 L208.6,644.0 L208.7,647.4 L208.8,647.0 L208.9,648.0 L209.0,646.6 L209.1,649.4 L209.2,649.2 L209.3,648.7 L209.4,650.2 L209.5,652.0 L209.6,651.6 L209.7,649.8 L209.8,651.0 L209.9,654.7 L210.0,649.5 L210.1,650.6 L210.2,651.4 L210.3,657.6 L210.4,654.0 L210.5,659.2 L210.6,654.3 L210.7,651.3 L210.8,657.7 L210.9,652.0 L211.0,649.8 L211.1,645.4 L211.1,644.4 L211.2,643.5 L211.3,644.9 L211.4,645.6 L211.5,647.7 L211.6,644.7 L211.7,646.0 L211.8,646.2 L211.9,646.4 L212.0,649.5 L212.1,650.4 L212.2,648.9 L212.3,650.8 L212.4,648.5 L212.5,648.3 L212.6,656.7 L212.7,651.8 L212.8,649.3 L212.9,656.1 L213.0,654.3 L213.1,657.8 L213.2,652.0 L213.3,653.3 L213.4,652.2 L213.5,651.6 L213.6,650.8 L213.6,651.1 L213.7,652.5 L213.8,656.0 L213.9,651.9 L214.0,646.9 L214.1,648.0 L214.2,646.8 L214.3,651.4 L214.4,651.4 L214.5,651.5 L214.6,647.4 L214.7,645.1 L214.8,647.9 L214.9,647.0 L215.0,650.1 L215.1,646.7 L215.2,647.1 L215.3,646.2 L215.4,646.1 L215.5,648.5 L215.6,646.8 L215.7,650.6 L215.8,647.0 L215.9,647.7 L216.0,643.9 L216.1,648.1 L216.1,646.7 L216.2,645.3 L216.3,645.3 L216.4,646.8 L216.5,641.2 L216.6,645.1 L216.7,642.8 L216.8,648.2 L216.9,650.4 L217.0,652.1 L217.1,650.5 L217.2,646.8 L217.3,645.3 L217.4,643.2 L217.5,643.2 L217.6,639.1 L217.7,642.5 L217.8,643.0 L217.9,643.9 L218.0,640.7 L218.1,641.0 L218.2,641.4 L218.3,643.4 L218.4,644.2 L218.5,641.0 L218.6,644.3 L218.6,641.2 L218.7,648.4 L218.8,645.3 L218.9,643.2 L219.0,638.2 L219.1,640.1 L219.2,635.8 L219.3,639.9 L219.4,638.1 L219.5,629.4 L219.6,636.0 L219.7,636.1 L219.8,635.4 L219.9,638.7 L220.0,637.7 L220.1,640.4 L220.2,633.6 L220.3,636.0 L220.4,633.2 L220.5,638.2 L220.6,632.8 L220.7,635.3 L220.8,634.6 L220.9,637.8 L221.0,634.2 L221.1,636.2 L221.1,636.4 L221.2,630.9 L221.3,627.7 L221.4,626.9 L221.5,625.1 L221.6,623.7 L221.7,628.6 L221.8,627.2 L221.9,624.1 L222.0,627.0 L222.1,622.8 L222.2,622.9 L222.3,625.9 L222.4,622.4 L222.5,629.8 L222.6,630.6 L222.7,625.8 L222.8,625.0 L222.9,625.8 L223.0,620.3 L223.1,622.6 L223.2,622.9 L223.3,624.5 L223.4,622.9 L223.5,622.2 L223.6,625.0 L223.6,626.2 L223.7,623.7 L223.8,628.3 L223.9,629.8 L224.0,627.5 L224.1,627.4 L224.2,630.9 L224.3,628.9 L224.4,626.7 L224.5,628.0 L224.6,625.8 L224.7,626.4 L224.8,625.2 L224.9,624.2 L225.0,625.5 L225.1,624.1 L225.2,625.7 L225.3,624.6 L225.4,622.4 L225.5,619.5 L225.6,620.6 L225.7,620.7 L225.8,619.3 L225.9,621.3 L226.0,620.5 L226.1,618.6 L226.2,621.7 L226.2,623.7 L226.3,628.5 L226.4,626.7 L226.5,621.0 L226.6,624.6 L226.7,623.3 L226.8,624.4 L226.9,622.8 L227.0,624.1 L227.1,623.4 L227.2,628.0 L227.3,620.8 L227.4,624.1 L227.5,625.4 L227.6,626.2 L227.7,625.8 L227.8,621.5 L227.9,626.2 L228.0,624.2 L228.1,621.8 L228.2,625.3 L228.3,616.6 L228.4,621.1 L228.5,619.7 L228.6,619.1 L228.7,619.8 L228.7,615.3 L228.8,613.4 L228.9,616.0 L229.0,615.8 L229.1,616.7 L229.2,615.7 L229.3,616.3 L229.4,619.6 L229.5,623.0 L229.6,619.2 L229.7,616.1 L229.8,620.8 L229.9,615.5 L230.0,610.1 L230.1,613.9 L230.2,614.7 L230.3,612.8 L230.4,611.2 L230.5,611.5 L230.6,610.8 L230.7,613.8 L230.8,616.0 L230.9,612.8 L231.0,612.4 L231.1,609.1 L231.2,612.4 L231.2,614.1 L231.3,615.9 L231.4,615.1 L231.5,618.6 L231.6,613.0 L231.7,613.4 L231.8,616.9 L231.9,613.8 L232.0,615.3 L232.1,615.3 L232.2,614.6 L232.3,617.5 L232.4,614.9 L232.5,616.7 L232.6,614.6 L232.7,612.4 L232.8,614.0 L232.9,618.1 L233.0,619.4 L233.1,615.5 L233.2,618.9 L233.3,618.2 L233.4,619.7 L233.5,620.1 L233.6,616.7 L233.7,613.9 L233.7,612.2 L233.8,616.5 L233.9,612.5 L234.0,618.8 L234.1,619.8 L234.2,615.0 L234.3,618.5 L234.4,615.1 L234.5,616.3 L234.6,621.5 L234.7,619.3 L234.8,612.2 L234.9,616.9 L235.0,616.7 L235.1,618.4 L235.2,617.5 L235.3,617.6 L235.4,623.3 L235.5,618.8 L235.6,619.8 L235.7,616.9 L235.8,621.5 L235.9,620.7 L236.0,617.2 L236.1,622.0 L236.2,621.1 L236.2,619.6 L236.3,618.6 L236.4,625.8 L236.5,627.9 L236.6,623.2 L236.7,618.9 L236.8,622.9 L236.9,625.7 L237.0,623.0 L237.1,622.2 L237.2,624.6 L237.3,622.8 L237.4,623.6 L237.5,624.1 L237.6,626.2 L237.7,626.3 L237.8,625.5 L237.9,624.1 L238.0,626.1 L238.1,623.7 L238.2,624.4 L238.3,624.4 L238.4,624.7 L238.5,620.9 L238.6,624.2 L238.7,623.5 L238.7,624.7 L238.8,630.1 L238.9,623.8 L239.0,621.4 L239.1,625.2 L239.2,625.8 L239.3,628.5 L239.4,626.6 L239.5,627.0 L239.6,626.3 L239.7,632.5 L239.8,629.1 L239.9,627.0 L240.0,621.0 L240.1,618.8 L240.2,621.1 L240.3,621.5 L240.4,624.2 L240.5,620.2 L240.6,621.3 L240.7,624.6 L240.8,626.9 L240.9,626.2 L241.0,616.8 L241.1,620.3 L241.2,622.2 L241.2,621.4 L241.3,619.4 L241.4,626.9 L241.5,624.0 L241.6,623.5 L241.7,617.0 L241.8,625.6 L241.9,623.0 L242.0,622.7 L242.1,621.2 L242.2,620.8 L242.3,619.4 L242.4,621.2 L242.5,621.5 L242.6,628.4 L242.7,627.3 L242.8,624.6 L242.9,630.5 L243.0,628.4 L243.1,628.8 L243.2,627.7 L243.3,631.3 L243.4,631.9 L243.5,630.6 L243.6,632.5 L243.7,630.4 L243.7,627.6 L243.8,632.3 L243.9,630.4 L244.0,629.8 L244.1,626.0 L244.2,627.7 L244.3,628.5 L244.4,629.0 L244.5,634.1 L244.6,639.0 L244.7,639.5 L244.8,636.6 L244.9,639.8 L245.0,638.2 L245.1,634.4 L245.2,636.7 L245.3,631.8 L245.4,633.2 L245.5,637.5 L245.6,632.7 L245.7,630.9 L245.8,632.1 L245.9,629.5 L246.0,630.8 L246.1,629.0 L246.2,633.0 L246.2,632.1 L246.3,634.3 L246.4,630.6 L246.5,632.2 L246.6,630.9 L246.7,637.3 L246.8,633.3 L246.9,638.5 L247.0,638.6 L247.1,631.0 L247.2,629.0 L247.3,631.8 L247.4,632.3 L247.5,635.4 L247.6,635.9 L247.7,635.8 L247.8,629.2 L247.9,631.2 L248.0,633.0 L248.1,631.9 L248.2,628.9 L248.3,631.3 L248.4,633.2 L248.5,631.9 L248.6,633.0 L248.7,634.2 L248.7,632.9 L248.8,630.2 L248.9,631.7 L249.0,633.1 L249.1,633.6 L249.2,637.8 L249.3,639.3 L249.4,638.4 L249.5,635.8 L249.6,634.6 L249.7,633.9 L249.8,629.8 L249.9,627.5 L250.0,627.4 L250.1,630.8 L250.2,630.0 L250.3,626.2 L250.4,630.0 L250.5,630.1 L250.6,633.9 L250.7,631.4 L250.8,632.4 L250.9,630.7 L251.0,629.6 L251.1,632.7 L251.2,632.3 L251.2,632.6 L251.3,628.8 L251.4,630.6 L251.5,632.8 L251.6,630.9 L251.7,637.8 L251.8,635.6 L251.9,631.4 L252.0,631.4 L252.1,630.7 L252.2,628.6 L252.3,630.1 L252.4,627.6 L252.5,636.9 L252.6,632.2 L252.7,633.3 L252.8,633.1 L252.9,632.4 L253.0,630.3 L253.1,634.5 L253.2,633.5 L253.3,632.2 L253.4,640.4 L253.5,633.6 L253.6,631.7 L253.7,632.4 L253.7,632.9 L253.8,634.3 L253.9,632.7 L254.0,631.0 L254.1,623.6 L254.2,629.6 L254.3,632.3 L254.4,635.8 L254.5,634.6 L254.6,633.8 L254.7,630.8 L254.8,633.7 L254.9,634.4 L255.0,633.8 L255.1,635.3 L255.2,635.9 L255.3,629.1 L255.4,633.6 L255.5,631.3 L255.6,633.3 L255.7,632.2 L255.8,635.1 L255.9,632.7 L256.0,631.2 L256.1,634.4 L256.2,634.4 L256.3,635.0 L256.3,636.8 L256.4,634.0 L256.5,636.1 L256.6,635.0 L256.7,630.3 L256.8,634.3 L256.9,632.0 L257.0,633.9 L257.1,630.6 L257.2,633.9 L257.3,631.2 L257.4,631.3 L257.5,628.4 L257.6,632.7 L257.7,633.2 L257.8,626.1 L257.9,630.8 L258.0,639.2 L258.1,639.1 L258.2,632.6 L258.3,635.3 L258.4,634.2 L258.5,635.2 L258.6,633.7 L258.7,628.9 L258.8,632.7 L258.8,630.8 L258.9,631.2 L259.0,634.0 L259.1,633.3 L259.2,634.3 L259.3,627.2 L259.4,632.0 L259.5,629.0 L259.6,634.2 L259.7,631.3 L259.8,629.3 L259.9,630.6 L260.0,632.6 L260.1,630.0 L260.2,624.2 L260.3,628.1 L260.4,629.6 L260.5,632.3 L260.6,627.7 L260.7,630.4 L260.8,625.1 L260.9,624.4 L261.0,625.3 L261.1,630.3 L261.2,626.9 L261.3,622.7 L261.3,626.7 L261.4,626.4 L261.5,624.1 L261.6,622.9 L261.7,632.3 L261.8,629.4 L261.9,630.1 L262.0,627.1 L262.1,632.2 L262.2,628.2 L262.3,625.5 L262.4,624.2 L262.5,624.5 L262.6,626.7 L262.7,624.7 L262.8,623.9 L262.9,625.0 L263.0,625.2 L263.1,624.1 L263.2,626.3 L263.3,627.5 L263.4,628.9 L263.5,626.6 L263.6,627.3 L263.7,624.3 L263.8,625.7 L263.8,620.7 L263.9,621.3 L264.0,624.0 L264.1,623.6 L264.2,625.6 L264.3,626.1 L264.4,629.5 L264.5,626.3 L264.6,626.0 L264.7,622.6 L264.8,625.2 L264.9,628.5 L265.0,627.1 L265.1,628.2 L265.2,631.7 L265.3,632.1 L265.4,627.6 L265.5,626.4 L265.6,626.6 L265.7,621.2 L265.8,625.7 L265.9,624.9 L266.0,623.2 L266.1,626.5 L266.2,625.2 L266.3,625.7 L266.3,625.3 L266.4,625.8 L266.5,626.6 L266.6,627.8 L266.7,627.7 L266.8,625.4 L266.9,623.2 L267.0,624.1 L267.1,625.5 L267.2,625.5 L267.3,624.0 L267.4,627.9 L267.5,624.2 L267.6,624.1 L267.7,626.5 L267.8,626.9 L267.9,625.6 L268.0,628.1 L268.1,628.4 L268.2,622.8 L268.3,624.6 L268.4,625.0 L268.5,622.2 L268.6,623.5 L268.7,626.6 L268.8,623.9 L268.8,624.4 L268.9,621.3 L269.0,624.2 L269.1,622.8 L269.2,620.8 L269.3,623.3 L269.4,622.3 L269.5,619.6 L269.6,620.5 L269.7,620.0 L269.8,620.4 L269.9,620.0 L270.0,618.7 L270.1,615.7 L270.2,617.2 L270.3,613.6 L270.4,613.5 L270.5,613.8 L270.6,614.3 L270.7,611.0 L270.8,609.3 L270.9,612.4 L271.0,608.0 L271.1,608.1 L271.2,613.1 L271.3,615.7 L271.3,612.5 L271.4,612.3 L271.5,615.7 L271.6,610.1 L271.7,612.3 L271.8,612.6 L271.9,610.4 L272.0,611.5 L272.1,609.6 L272.2,605.4 L272.3,607.5 L272.4,609.5 L272.5,607.3 L272.6,606.4 L272.7,609.6 L272.8,608.8 L272.9,605.0 L273.0,606.6 L273.1,609.3 L273.2,610.1 L273.3,613.2 L273.4,611.4 L273.5,608.7 L273.6,606.2 L273.7,609.3 L273.8,605.1 L273.8,607.3 L273.9,604.5 L274.0,604.3 L274.1,607.4 L274.2,610.4 L274.3,604.5 L274.4,601.1 L274.5,606.8 L274.6,608.0 L274.7,605.1 L274.8,608.5 L274.9,610.7 L275.0,605.1 L275.1,606.0 L275.2,609.6 L275.3,606.1 L275.4,601.1 L275.5,602.6 L275.6,603.9 L275.7,601.3 L275.8,599.2 L275.9,606.3 L276.0,598.3 L276.1,602.4 L276.2,602.3 L276.3,602.8 L276.3,605.4 L276.4,612.2 L276.5,608.6 L276.6,606.1 L276.7,602.3 L276.8,605.2 L276.9,606.0 L277.0,603.1 L277.1,605.7 L277.2,602.6 L277.3,604.5 L277.4,606.6 L277.5,607.0 L277.6,603.7 L277.7,604.0 L277.8,603.7 L277.9,600.3 L278.0,599.5 L278.1,598.7 L278.2,599.0 L278.3,596.7 L278.4,594.7 L278.5,596.5 L278.6,590.1 L278.7,590.3 L278.8,592.3 L278.8,591.5 L278.9,592.0 L279.0,589.6 L279.1,595.6 L279.2,600.3 L279.3,591.1 L279.4,590.1 L279.5,594.9 L279.6,590.5 L279.7,590.4 L279.8,591.6 L279.9,590.2 L280.0,589.6 L280.1,587.9 L280.2,585.6 L280.3,584.6 L280.4,589.5 L280.5,590.3 L280.6,592.3 L280.7,591.1 L280.8,590.3 L280.9,588.1 L281.0,592.4 L281.1,590.9 L281.2,596.8 L281.3,586.3 L281.3,589.1 L281.4,592.9 L281.5,594.6 L281.6,595.6 L281.7,593.3 L281.8,595.0 L281.9,589.5 L282.0,590.1 L282.1,589.6 L282.2,591.7 L282.3,592.6 L282.4,592.4 L282.5,588.9 L282.6,592.9 L282.7,588.5 L282.8,591.4 L282.9,589.8 L283.0,585.9 L283.1,584.4 L283.2,581.6 L283.3,583.1 L283.4,584.6 L283.5,586.9 L283.6,587.2 L283.7,587.4 L283.8,586.3 L283.9,587.1 L283.9,584.1 L284.0,583.0 L284.1,584.3 L284.2,585.7 L284.3,580.5 L284.4,582.2 L284.5,579.2 L284.6,576.8 L284.7,574.6 L284.8,577.4 L284.9,580.1 L285.0,578.9 L285.1,581.3 L285.2,580.6 L285.3,578.1 L285.4,578.9 L285.5,575.6 L285.6,579.6 L285.7,578.7 L285.8,582.4 L285.9,579.8 L286.0,572.0 L286.1,571.6 L286.2,573.8 L286.3,571.3 L286.4,573.0 L286.4,573.0 L286.5,573.2 L286.6,571.8 L286.7,571.7 L286.8,575.7 L286.9,574.7 L287.0,577.7 L287.1,575.2 L287.2,575.5 L287.3,577.1 L287.4,576.5 L287.5,577.8 L287.6,577.2 L287.7,577.8 L287.8,578.7 L287.9,578.3 L288.0,577.3 L288.1,573.4 L288.2,576.6 L288.3,577.5 L288.4,576.8 L288.5,576.4 L288.6,576.9 L288.7,568.8 L288.8,568.3 L288.9,570.2 L288.9,577.0 L289.0,571.9 L289.1,572.5 L289.2,574.3 L289.3,578.9 L289.4,577.6 L289.5,576.5 L289.6,583.5 L289.7,575.1 L289.8,568.7 L289.9,571.0 L290.0,571.4 L290.1,572.3 L290.2,573.6 L290.3,570.0 L290.4,573.3 L290.5,573.3 L290.6,573.1 L290.7,571.5 L290.8,571.9 L290.9,570.3 L291.0,576.0 L291.1,576.2 L291.2,578.9 L291.3,578.1 L291.4,581.4 L291.4,578.3 L291.5,577.8 L291.6,580.3 L291.7,581.2 L291.8,580.4 L291.9,582.9 L292.0,578.9 L292.1,580.4 L292.2,578.5 L292.3,579.5 L292.4,579.8 L292.5,576.7 L292.6,578.9 L292.7,579.7 L292.8,577.6 L292.9,582.2 L293.0,585.2 L293.1,582.7 L293.2,580.8 L293.3,578.7 L293.4,579.5 L293.5,583.0 L293.6,580.3 L293.7,579.5 L293.8,581.2 L293.9,578.1 L293.9,574.6 L294.0,577.6 L294.1,577.7 L294.2,577.8 L294.3,579.2 L294.4,580.1 L294.5,578.6 L294.6,579.8 L294.7,576.6 L294.8,574.0 L294.9,570.0 L295.0,575.3 L295.1,568.3 L295.2,571.9 L295.3,574.9 L295.4,576.6 L295.5,574.9 L295.6,575.6 L295.7,573.0 L295.8,569.8 L295.9,574.4 L296.0,573.8 L296.1,573.1 L296.2,575.0 L296.3,571.6 L296.4,574.6 L296.4,579.1 L296.5,576.9 L296.6,581.7 L296.7,578.6 L296.8,576.6 L296.9,574.9 L297.0,573.9 L297.1,577.2 L297.2,574.6 L297.3,573.4 L297.4,576.6 L297.5,576.0 L297.6,572.0 L297.7,569.6 L297.8,573.0 L297.9,573.1 L298.0,570.2 L298.1,576.5 L298.2,577.9 L298.3,575.3 L298.4,578.4 L298.5,570.5 L298.6,579.8 L298.7,579.1 L298.8,574.9 L298.9,580.4 L298.9,586.2 L299.0,579.0 L299.1,579.0 L299.2,580.4 L299.3,581.5 L299.4,580.5 L299.5,580.7 L299.6,575.3 L299.7,576.7 L299.8,576.1 L299.9,578.6 L300.0,577.1 L300.1,575.5 L300.2,574.6 L300.3,575.3 L300.4,573.0 L300.5,571.6 L300.6,569.8 L300.7,571.4 L300.8,571.5 L300.9,566.6 L301.0,564.9 L301.1,561.2 L301.2,563.0 L301.3,564.8 L301.4,566.1 L301.4,568.5 L301.5,569.6 L301.6,564.9 L301.7,562.4 L301.8,565.1 L301.9,559.4 L302.0,560.4 L302.1,561.5 L302.2,564.8 L302.3,567.1 L302.4,564.0 L302.5,560.2 L302.6,557.8 L302.7,557.8 L302.8,556.4 L302.9,560.9 L303.0,552.7 L303.1,554.5 L303.2,554.3 L303.3,557.5 L303.4,557.5 L303.5,561.9 L303.6,560.0 L303.7,554.7 L303.8,554.7 L303.9,557.9 L303.9,559.5 L304.0,557.9 L304.1,558.4 L304.2,558.5 L304.3,551.5 L304.4,550.4 L304.5,556.5 L304.6,556.1 L304.7,556.6 L304.8,552.0 L304.9,550.5 L305.0,553.0 L305.1,551.3 L305.2,551.7 L305.3,550.4 L305.4,548.9 L305.5,552.3 L305.6,551.9 L305.7,550.6 L305.8,549.4 L305.9,550.6 L306.0,551.5 L306.1,555.3 L306.2,555.2 L306.3,553.1 L306.4,555.0 L306.4,556.1 L306.5,557.5 L306.6,556.8 L306.7,556.8 L306.8,554.2 L306.9,555.5 L307.0,551.6 L307.1,551.6 L307.2,547.7 L307.3,545.9 L307.4,556.1 L307.5,544.3 L307.6,548.4 L307.7,545.7 L307.8,545.3 L307.9,546.6 L308.0,547.6 L308.1,547.7 L308.2,542.4 L308.3,545.2 L308.4,549.8 L308.5,545.2 L308.6,546.0 L308.7,547.9 L308.8,547.1 L308.9,543.8 L308.9,545.0 L309.0,542.9 L309.1,546.5 L309.2,543.7 L309.3,540.0 L309.4,537.4 L309.5,538.4 L309.6,535.4 L309.7,540.4 L309.8,540.3 L309.9,534.9 L310.0,534.1 L310.1,534.7 L310.2,535.0 L310.3,535.9 L310.4,531.9 L310.5,535.1 L310.6,537.4 L310.7,535.5 L310.8,535.4 L310.9,537.4 L311.0,535.7 L311.1,534.5 L311.2,532.7 L311.3,530.7 L311.4,533.4 L311.4,531.8 L311.5,531.3 L311.6,534.1 L311.7,529.2 L311.8,537.1 L311.9,531.3 L312.0,525.1 L312.1,530.7 L312.2,532.0 L312.3,528.5 L312.4,527.5 L312.5,530.4 L312.6,529.6 L312.7,528.8 L312.8,526.3 L312.9,526.6 L313.0,525.7 L313.1,527.0 L313.2,526.7 L313.3,520.0 L313.4,524.1 L313.5,518.9 L313.6,516.1 L313.7,517.0 L313.8,513.7 L313.9,516.2 L314.0,512.2 L314.0,510.3 L314.1,510.2 L314.2,510.3 L314.3,513.1 L314.4,511.0 L314.5,506.2 L314.6,514.5 L314.7,510.1 L314.8,508.1 L314.9,508.9 L315.0,510.7 L315.1,506.6 L315.2,508.2 L315.3,511.2 L315.4,505.2 L315.5,501.9 L315.6,503.8 L315.7,505.2 L315.8,503.8 L315.9,504.1 L316.0,504.3 L316.1,499.4 L316.2,495.8 L316.3,500.4 L316.4,500.4 L316.5,495.3 L316.5,491.6 L316.6,490.9 L316.7,492.8 L316.8,496.6 L316.9,492.7 L317.0,497.8 L317.1,499.5 L317.2,498.4 L317.3,495.7 L317.4,497.9 L317.5,496.3 L317.6,500.8 L317.7,497.7 L317.8,502.1 L317.9,498.7 L318.0,504.2 L318.1,506.4 L318.2,509.7 L318.3,508.0 L318.4,506.9 L318.5,504.7 L318.6,507.0 L318.7,505.6 L318.8,508.3 L318.9,504.8 L319.0,502.9 L319.0,504.1 L319.1,505.9 L319.2,504.8 L319.3,498.3 L319.4,495.0 L319.5,500.4 L319.6,503.3 L319.7,503.1 L319.8,499.3 L319.9,503.7 L320.0,500.5 L320.1,496.0 L320.2,501.1 L320.3,498.1 L320.4,499.9 L320.5,497.4 L320.6,497.8 L320.7,497.7 L320.8,491.9 L320.9,500.0 L321.0,500.6 L321.1,502.0 L321.2,503.6 L321.3,502.9 L321.4,504.1 L321.5,508.6 L321.5,509.8 L321.6,507.6 L321.7,505.0 L321.8,514.0 L321.9,509.8 L322.0,508.2 L322.1,508.5 L322.2,512.4 L322.3,509.6 L322.4,513.7 L322.5,512.2 L322.6,508.9 L322.7,515.6 L322.8,516.4 L322.9,516.0 L323.0,517.6 L323.1,517.4 L323.2,522.8 L323.3,520.7 L323.4,524.2 L323.5,517.4 L323.6,518.0 L323.7,518.7 L323.8,516.8 L323.9,518.6 L324.0,518.9 L324.0,521.2 L324.1,521.2 L324.2,523.1 L324.3,525.8 L324.4,529.8 L324.5,524.6 L324.6,523.1 L324.7,521.9 L324.8,526.5 L324.9,522.5 L325.0,523.6 L325.1,518.9 L325.2,523.0 L325.3,522.9 L325.4,527.5 L325.5,528.0 L325.6,523.5 L325.7,522.9 L325.8,524.9 L325.9,517.9 L326.0,519.9 L326.1,517.5 L326.2,519.2 L326.3,518.4 L326.4,516.6 L326.5,518.1 L326.5,517.8 L326.6,520.4 L326.7,517.6 L326.8,517.7 L326.9,515.3 L327.0,518.0 L327.1,520.5 L327.2,518.4 L327.3,517.4 L327.4,519.4 L327.5,523.8 L327.6,522.3 L327.7,524.4 L327.8,522.5 L327.9,525.3 L328.0,524.6 L328.1,523.8 L328.2,524.2 L328.3,522.3 L328.4,519.2 L328.5,517.1 L328.6,513.2 L328.7,513.2 L328.8,516.6 L328.9,509.8 L329.0,513.2 L329.0,515.6 L329.1,510.0 L329.2,511.8 L329.3,508.8 L329.4,511.0 L329.5,509.5 L329.6,511.2 L329.7,508.9 L329.8,511.7 L329.9,510.5 L330.0,511.2 L330.1,512.3 L330.2,514.1 L330.3,508.9 L330.4,509.8 L330.5,507.7 L330.6,512.3 L330.7,515.4 L330.8,508.9 L330.9,514.8 L331.0,509.0 L331.1,505.7 L331.2,506.4 L331.3,508.2 L331.4,504.3 L331.5,507.8 L331.5,501.3 L331.6,504.2 L331.7,501.5 L331.8,507.3 L331.9,498.5 L332.0,499.6 L332.1,499.6 L332.2,501.3 L332.3,499.5 L332.4,500.6 L332.5,500.9 L332.6,496.7 L332.7,503.9 L332.8,499.1 L332.9,499.8 L333.0,497.7 L333.1,493.1 L333.2,492.1 L333.3,493.0 L333.4,492.8 L333.5,493.3 L333.6,487.0 L333.7,486.0 L333.8,490.2 L333.9,488.3 L334.0,492.8 L334.0,489.9 L334.1,490.9 L334.2,487.5 L334.3,489.2 L334.4,486.4 L334.5,482.7 L334.6,483.5 L334.7,483.5 L334.8,480.9 L334.9,478.1 L335.0,486.9 L335.1,484.3 L335.2,485.6 L335.3,485.4 L335.4,479.2 L335.5,479.4 L335.6,475.6 L335.7,477.1 L335.8,474.3 L335.9,477.6 L336.0,473.1 L336.1,472.1 L336.2,473.0 L336.3,476.7 L336.4,479.9 L336.5,476.7 L336.5,478.2 L336.6,479.8 L336.7,482.0 L336.8,482.8 L336.9,480.1 L337.0,477.4 L337.1,478.1 L337.2,478.7 L337.3,484.5 L337.4,478.1 L337.5,472.0 L337.6,475.6 L337.7,476.6 L337.8,475.3 L337.9,474.4 L338.0,475.1 L338.1,475.8 L338.2,477.3 L338.3,477.1 L338.4,475.7 L338.5,469.6 L338.6,469.2 L338.7,471.7 L338.8,468.4 L338.9,472.6 L339.0,469.8 L339.0,477.0 L339.1,474.3 L339.2,474.4 L339.3,474.8 L339.4,470.2 L339.5,468.6 L339.6,470.2 L339.7,462.7 L339.8,466.0 L339.9,462.8 L340.0,462.2 L340.1,466.9 L340.2,466.7 L340.3,463.0 L340.4,462.5 L340.5,467.9 L340.6,466.3 L340.7,465.9 L340.8,466.2 L340.9,463.2 L341.0,468.5 L341.1,464.7 L341.2,464.3 L341.3,463.1 L341.4,461.9 L341.5,464.0 L341.6,463.6 L341.6,459.6 L341.7,461.9 L341.8,459.3 L341.9,461.9 L342.0,461.0 L342.1,457.6 L342.2,463.9 L342.3,469.1 L342.4,466.2 L342.5,464.7 L342.6,466.3 L342.7,468.2 L342.8,468.8 L342.9,467.6 L343.0,472.4 L343.1,474.7 L343.2,472.9 L343.3,478.7 L343.4,480.4 L343.5,477.8 L343.6,477.4 L343.7,482.7 L343.8,478.4 L343.9,483.2 L344.0,483.2 L344.1,481.4 L344.1,486.2 L344.2,478.5 L344.3,482.4 L344.4,476.2 L344.5,482.4 L344.6,478.9 L344.7,484.7 L344.8,482.0 L344.9,492.9 L345.0,488.9 L345.1,487.0 L345.2,490.0 L345.3,487.8 L345.4,487.2 L345.5,482.1 L345.6,480.9 L345.7,477.0 L345.8,479.6 L345.9,479.8 L346.0,482.5 L346.1,484.9 L346.2,482.5 L346.3,482.6 L346.4,480.0 L346.5,485.4 L346.6,482.0 L346.6,482.0 L346.7,479.8 L346.8,488.1 L346.9,479.8 L347.0,484.0 L347.1,477.5 L347.2,478.3 L347.3,477.1 L347.4,475.0 L347.5,477.9 L347.6,474.8 L347.7,481.1 L347.8,481.5 L347.9,474.5 L348.0,471.6 L348.1,477.2 L348.2,472.3 L348.3,473.6 L348.4,469.5 L348.5,471.5 L348.6,468.3 L348.7,473.6 L348.8,469.5 L348.9,474.2 L349.0,471.1 L349.1,473.4 L349.1,476.9 L349.2,471.0 L349.3,470.4 L349.4,470.7 L349.5,474.5 L349.6,472.4 L349.7,474.3 L349.8,467.4 L349.9,471.0 L350.0,472.7 L350.1,466.6 L350.2,469.4 L350.3,462.5 L350.4,464.6 L350.5,466.5 L350.6,467.8 L350.7,472.3 L350.8,461.8 L350.9,461.6 L351.0,459.3 L351.1,463.3 L351.2,466.1 L351.3,459.6 L351.4,456.5 L351.5,456.1 L351.6,457.4 L351.6,455.4 L351.7,459.1 L351.8,458.4 L351.9,458.8 L352.0,453.2 L352.1,454.6 L352.2,451.8 L352.3,449.4 L352.4,447.7 L352.5,448.2 L352.6,447.4 L352.7,449.3 L352.8,454.3 L352.9,453.1 L353.0,453.8 L353.1,451.6 L353.2,454.4 L353.3,452.5 L353.4,455.1 L353.5,451.4 L353.6,446.8 L353.7,447.6 L353.8,448.4 L353.9,450.9 L354.0,449.5 L354.1,448.4 L354.1,453.7 L354.2,447.8 L354.3,448.1 L354.4,451.3 L354.5,445.1 L354.6,445.7 L354.7,449.9 L354.8,451.1 L354.9,445.7 L355.0,451.1 L355.1,449.5 L355.2,451.7 L355.3,451.3 L355.4,450.6 L355.5,451.5 L355.6,450.5 L355.7,447.2 L355.8,453.7 L355.9,451.2 L356.0,456.1 L356.1,453.4 L356.2,461.6 L356.3,456.8 L356.4,455.4 L356.5,457.4 L356.6,457.4 L356.6,458.5 L356.7,458.2 L356.8,456.4 L356.9,461.9 L357.0,457.8 L357.1,463.0 L357.2,459.7 L357.3,459.4 L357.4,456.5 L357.5,455.4 L357.6,451.0 L357.7,453.6 L357.8,458.3 L357.9,458.2 L358.0,453.3 L358.1,450.8 L358.2,451.7 L358.3,455.5 L358.4,457.3 L358.5,454.3 L358.6,450.6 L358.7,453.3 L358.8,451.5 L358.9,453.5 L359.0,456.3 L359.1,452.5 L359.1,455.9 L359.2,455.4 L359.3,460.4 L359.4,461.0 L359.5,460.8 L359.6,455.2 L359.7,462.8 L359.8,457.9 L359.9,457.7 L360.0,459.6 L360.1,463.5 L360.2,463.7 L360.3,469.2 L360.4,470.0 L360.5,466.2 L360.6,470.6 L360.7,468.1 L360.8,469.0 L360.9,469.4 L361.0,468.6 L361.1,469.4 L361.2,463.8 L361.3,466.3 L361.4,466.7 L361.5,467.6 L361.6,461.8 L361.6,459.3 L361.7,461.1 L361.8,462.8 L361.9,464.4 L362.0,460.8 L362.1,461.5 L362.2,461.7 L362.3,463.4 L362.4,464.2 L362.5,464.0 L362.6,462.9 L362.7,465.8 L362.8,467.0 L362.9,458.5 L363.0,461.6 L363.1,461.8 L363.2,462.9 L363.3,461.1 L363.4,462.7 L363.5,461.3 L363.6,465.8 L363.7,465.9 L363.8,465.2 L363.9,466.6 L364.0,466.1 L364.1,462.1 L364.1,458.3 L364.2,460.6 L364.3,457.5 L364.4,453.6 L364.5,454.9 L364.6,452.7 L364.7,453.0 L364.8,460.1 L364.9,459.0 L365.0,462.6 L365.1,457.9 L365.2,457.6 L365.3,457.6 L365.4,460.1 L365.5,462.1 L365.6,457.0 L365.7,462.0 L365.8,462.8 L365.9,458.7 L366.0,459.4 L366.1,455.7 L366.2,460.0 L366.3,457.4 L366.4,454.0 L366.5,454.1 L366.6,456.5 L366.6,454.9 L366.7,456.1 L366.8,458.7 L366.9,457.8 L367.0,463.6 L367.1,461.2 L367.2,457.4 L367.3,460.7 L367.4,463.0 L367.5,458.8 L367.6,460.6 L367.7,459.2 L367.8,458.5 L367.9,453.3 L368.0,453.6 L368.1,451.7 L368.2,457.9 L368.3,454.1 L368.4,453.2 L368.5,451.1 L368.6,453.7 L368.7,451.8 L368.8,455.3 L368.9,451.2 L369.0,458.0 L369.1,450.9 L369.1,452.3 L369.2,453.4 L369.3,452.4 L369.4,449.3 L369.5,455.1 L369.6,447.2 L369.7,454.1 L369.8,453.4 L369.9,458.2 L370.0,452.2 L370.1,453.3 L370.2,454.9 L370.3,452.7 L370.4,451.3 L370.5,451.1 L370.6,450.2 L370.7,447.7 L370.8,456.4 L370.9,449.0 L371.0,450.7 L371.1,451.0 L371.2,446.8 L371.3,447.3 L371.4,451.5 L371.5,445.7 L371.6,450.5 L371.7,445.1 L371.7,449.4 L371.8,452.1 L371.9,445.5 L372.0,452.4 L372.1,455.1 L372.2,452.2 L372.3,456.2 L372.4,455.7 L372.5,461.5 L372.6,462.3 L372.7,466.6 L372.8,460.6 L372.9,461.0 L373.0,457.0 L373.1,462.7 L373.2,463.0 L373.3,458.9 L373.4,456.1 L373.5,465.5 L373.6,461.8 L373.7,455.7 L373.8,456.8 L373.9,463.0 L374.0,463.1 L374.1,462.4 L374.2,459.0 L374.2,461.5 L374.3,457.7 L374.4,456.9 L374.5,460.4 L374.6,460.7 L374.7,463.7 L374.8,463.2 L374.9,464.1 L375.0,465.6 L375.1,468.8 L375.2,468.5 L375.3,465.9 L375.4,467.5 L375.5,469.8 L375.6,471.4 L375.7,470.4 L375.8,462.2 L375.9,468.8 L376.0,467.7 L376.1,467.4 L376.2,468.2 L376.3,472.4 L376.4,472.6 L376.5,472.6 L376.6,474.5 L376.7,476.8 L376.7,477.1 L376.8,476.0 L376.9,474.6 L377.0,478.6 L377.1,483.4 L377.2,481.6 L377.3,483.6 L377.4,479.7 L377.5,475.7 L377.6,478.2 L377.7,480.6 L377.8,478.1 L377.9,479.4 L378.0,475.3 L378.1,472.7 L378.2,474.5 L378.3,474.6 L378.4,471.5 L378.5,476.9 L378.6,477.6 L378.7,473.1 L378.8,473.5 L378.9,479.7 L379.0,480.0 L379.1,480.8 L379.2,479.4 L379.2,477.7 L379.3,482.1 L379.4,482.6 L379.5,481.3 L379.6,478.0 L379.7,477.7 L379.8,472.3 L379.9,478.6 L380.0,477.8 L380.1,475.3 L380.2,473.1 L380.3,470.8 L380.4,477.0 L380.5,476.7 L380.6,477.3 L380.7,476.4 L380.8,476.5 L380.9,473.3 L381.0,472.5 L381.1,476.8 L381.2,475.8 L381.3,475.7 L381.4,474.1 L381.5,477.0 L381.6,469.1 L381.7,467.1 L381.7,469.3 L381.8,462.6 L381.9,466.0 L382.0,463.9 L382.1,465.3 L382.2,467.8 L382.3,463.4 L382.4,459.9 L382.5,463.4 L382.6,460.4 L382.7,462.6 L382.8,459.0 L382.9,457.8 L383.0,460.4 L383.1,459.4 L383.2,455.4 L383.3,454.7 L383.4,453.9 L383.5,453.7 L383.6,455.3 L383.7,454.7 L383.8,451.8 L383.9,454.7 L384.0,452.4 L384.1,453.4 L384.2,455.7 L384.2,454.1 L384.3,458.4 L384.4,456.9 L384.5,456.0 L384.6,451.3 L384.7,452.0 L384.8,461.3 L384.9,458.5 L385.0,461.6 L385.1,455.5 L385.2,452.4 L385.3,459.4 L385.4,454.9 L385.5,454.6 L385.6,450.2 L385.7,457.0 L385.8,461.3 L385.9,455.2 L386.0,456.2 L386.1,457.2 L386.2,460.0 L386.3,459.8 L386.4,460.9 L386.5,457.7 L386.6,458.3 L386.7,457.1 L386.7,456.2 L386.8,462.1 L386.9,462.7 L387.0,463.7 L387.1,461.8 L387.2,462.7 L387.3,458.1 L387.4,463.3 L387.5,467.7 L387.6,463.9 L387.7,464.3 L387.8,468.2 L387.9,469.0 L388.0,468.5 L388.1,468.1 L388.2,474.1 L388.3,472.8 L388.4,472.5 L388.5,473.2 L388.6,474.1 L388.7,475.2 L388.8,477.8 L388.9,477.2 L389.0,475.9 L389.1,475.3 L389.2,473.9 L389.2,470.6 L389.3,474.2 L389.4,476.6 L389.5,472.9 L389.6,476.2 L389.7,472.4 L389.8,478.1 L389.9,476.9 L390.0,473.8 L390.1,480.4 L390.2,480.7 L390.3,480.0 L390.4,478.4 L390.5,483.1 L390.6,476.1 L390.7,480.7 L390.8,477.6 L390.9,480.3 L391.0,484.0 L391.1,483.4 L391.2,484.1 L391.3,489.4 L391.4,487.6 L391.5,495.4 L391.6,498.9 L391.7,498.7 L391.7,498.2 L391.8,502.3 L391.9,499.1 L392.0,498.3 L392.1,499.6 L392.2,506.1 L392.3,506.5 L392.4,504.2 L392.5,503.6 L392.6,504.4 L392.7,501.7 L392.8,505.6 L392.9,503.1 L393.0,501.9 L393.1,501.8 L393.2,499.9 L393.3,503.3 L393.4,505.7 L393.5,504.5 L393.6,508.7 L393.7,507.0 L393.8,503.4 L393.9,506.6 L394.0,503.6 L394.1,509.8 L394.2,510.0 L394.2,510.8 L394.3,515.5 L394.4,513.2 L394.5,515.8 L394.6,511.4 L394.7,510.9 L394.8,511.6 L394.9,507.3 L395.0,511.6 L395.1,504.7 L395.2,506.3 L395.3,507.3 L395.4,500.3 L395.5,500.3 L395.6,498.2 L395.7,498.7 L395.8,505.7 L395.9,506.4 L396.0,498.2 L396.1,498.5 L396.2,496.9 L396.3,495.5 L396.4,495.3 L396.5,499.5 L396.6,498.8 L396.7,499.5 L396.7,496.5 L396.8,491.0 L396.9,493.7 L397.0,492.1 L397.1,498.4 L397.2,496.2 L397.3,498.8 L397.4,498.0 L397.5,494.4 L397.6,495.5 L397.7,494.7 L397.8,494.0 L397.9,492.8 L398.0,493.5 L398.1,495.7 L398.2,494.0 L398.3,497.5 L398.4,497.8 L398.5,493.3 L398.6,495.6 L398.7,501.7 L398.8,494.4 L398.9,495.2 L399.0,500.8 L399.1,496.1 L399.2,500.1 L399.2,499.0 L399.3,495.5 L399.4,492.7 L399.5,495.9 L399.6,498.0 L399.7,501.1 L399.8,504.7 L399.9,501.7 L400.0,501.4 L400.1,501.8 L400.2,501.7 L400.3,501.4 L400.4,501.1 L400.5,499.6 L400.6,503.5 L400.7,501.2 L400.8,497.2 L400.9,501.1 L401.0,499.1 L401.1,505.4 L401.2,502.5 L401.3,508.8 L401.4,507.7 L401.5,508.3 L401.6,507.7 L401.7,507.3 L401.8,510.7 L401.8,506.6 L401.9,504.9 L402.0,502.0 L402.1,507.1 L402.2,503.3 L402.3,508.7 L402.4,512.4 L402.5,509.2 L402.6,509.9 L402.7,508.6 L402.8,504.3 L402.9,502.5 L403.0,502.7 L403.1,504.0 L403.2,504.8 L403.3,508.6 L403.4,505.5 L403.5,507.3 L403.6,509.3 L403.7,512.2 L403.8,512.7 L403.9,516.6 L404.0,512.1 L404.1,510.1 L404.2,517.2 L404.3,512.1 L404.3,515.7 L404.4,515.1 L404.5,510.2 L404.6,515.8 L404.7,510.9 L404.8,511.7 L404.9,513.9 L405.0,513.7 L405.1,511.7 L405.2,508.1 L405.3,509.3 L405.4,508.4 L405.5,509.2 L405.6,509.3 L405.7,508.8 L405.8,507.2 L405.9,508.3 L406.0,504.9 L406.1,503.0 L406.2,501.8 L406.3,504.3 L406.4,503.3 L406.5,501.4 L406.6,500.7 L406.7,500.3 L406.8,494.9 L406.8,497.6 L406.9,492.3 L407.0,492.8 L407.1,492.2 L407.2,493.9 L407.3,491.3 L407.4,497.4 L407.5,489.2 L407.6,490.7 L407.7,491.7 L407.8,495.8 L407.9,494.8 L408.0,498.9 L408.1,497.7 L408.2,498.1 L408.3,495.0 L408.4,495.4 L408.5,492.4 L408.6,491.9 L408.7,499.5 L408.8,493.7 L408.9,493.7 L409.0,498.5 L409.1,502.1 L409.2,498.4 L409.3,499.7 L409.3,495.5 L409.4,498.6 L409.5,495.6 L409.6,504.9 L409.7,501.2 L409.8,501.1 L409.9,501.4 L410.0,505.9 L410.1,511.2 L410.2,508.1 L410.3,509.0 L410.4,510.6 L410.5,512.8 L410.6,513.2 L410.7,514.8 L410.8,515.1 L410.9,512.7 L411.0,511.6 L411.1,511.9 L411.2,509.5 L411.3,510.7 L411.4,510.1 L411.5,512.0 L411.6,513.0 L411.7,515.9 L411.8,513.7 L411.8,516.8 L411.9,516.6 L412.0,515.7 L412.1,519.0 L412.2,514.8 L412.3,516.8 L412.4,512.7 L412.5,509.3 L412.6,510.6 L412.7,514.2 L412.8,506.8 L412.9,512.9 L413.0,509.8 L413.1,515.3 L413.2,518.6 L413.3,516.7 L413.4,513.0 L413.5,514.4 L413.6,513.5 L413.7,511.1 L413.8,509.9 L413.9,506.8 L414.0,510.8 L414.1,509.2 L414.2,508.4 L414.3,509.2 L414.3,507.1 L414.4,506.5 L414.5,511.8 L414.6,505.0 L414.7,506.4 L414.8,507.9 L414.9,509.0 L415.0,510.6 L415.1,505.2 L415.2,502.5 L415.3,505.2 L415.4,504.2 L415.5,504.2 L415.6,502.9 L415.7,506.4 L415.8,511.7 L415.9,508.8 L416.0,507.9 L416.1,506.0 L416.2,505.8 L416.3,507.4 L416.4,508.5 L416.5,508.7 L416.6,506.5 L416.7,506.8 L416.8,509.2 L416.8,508.8 L416.9,511.5 L417.0,507.5 L417.1,507.5 L417.2,507.9 L417.3,507.1 L417.4,511.5 L417.5,511.9 L417.6,509.4 L417.7,503.4 L417.8,505.2 L417.9,507.2 L418.0,509.2 L418.1,505.4 L418.2,506.8 L418.3,505.6 L418.4,510.4 L418.5,516.8 L418.6,509.2 L418.7,508.5 L418.8,510.3 L418.9,511.4 L419.0,508.8 L419.1,514.3 L419.2,512.3 L419.3,509.4 L419.3,509.2 L419.4,507.3 L419.5,506.8 L419.6,508.6 L419.7,511.7 L419.8,507.8 L419.9,511.2 L420.0,511.3 L420.1,506.7 L420.2,508.3 L420.3,505.5 L420.4,501.6 L420.5,502.7 L420.6,501.3 L420.7,504.3 L420.8,507.3 L420.9,504.3 L421.0,503.6 L421.1,512.8 L421.2,515.3 L421.3,513.2 L421.4,515.3 L421.5,510.9 L421.6,508.4 L421.7,511.8 L421.8,510.3 L421.8,511.0 L421.9,508.1 L422.0,508.6 L422.1,515.1 L422.2,513.2 L422.3,515.6 L422.4,516.1 L422.5,517.0 L422.6,514.5 L422.7,512.4 L422.8,512.5 L422.9,507.0 L423.0,511.3 L423.1,510.9 L423.2,511.1 L423.3,510.3 L423.4,506.4 L423.5,514.8 L423.6,512.7 L423.7,518.1 L423.8,516.7 L423.9,517.0 L424.0,516.5 L424.1,518.1 L424.2,522.2 L424.3,515.5 L424.3,512.7 L424.4,519.1 L424.5,520.3 L424.6,517.3 L424.7,522.2 L424.8,518.8 L424.9,516.3 L425.0,517.1 L425.1,517.4 L425.2,517.0 L425.3,517.0 L425.4,513.2 L425.5,515.4 L425.6,513.5 L425.7,514.1 L425.8,514.7 L425.9,518.1 L426.0,517.4 L426.1,515.4 L426.2,513.2 L426.3,518.8 L426.4,519.3 L426.5,517.1 L426.6,514.7 L426.7,521.8 L426.8,517.8 L426.8,522.4 L426.9,519.1 L427.0,514.5 L427.1,516.1 L427.2,520.1 L427.3,520.3 L427.4,518.7 L427.5,523.3 L427.6,523.9 L427.7,524.4 L427.8,522.7 L427.9,524.6 L428.0,530.1 L428.1,526.1 L428.2,525.3 L428.3,523.0 L428.4,520.0 L428.5,519.4 L428.6,516.9 L428.7,516.9 L428.8,516.2 L428.9,513.3 L429.0,514.8 L429.1,516.4 L429.2,516.1 L429.3,513.0 L429.4,510.0 L429.4,509.3 L429.5,511.8 L429.6,512.4 L429.7,512.0 L429.8,514.5 L429.9,509.7 L430.0,510.2 L430.1,504.2 L430.2,507.4 L430.3,503.2 L430.4,503.5 L430.5,507.0 L430.6,506.9 L430.7,504.5 L430.8,503.8 L430.9,506.9 L431.0,506.8 L431.1,506.6 L431.2,503.2 L431.3,509.6 L431.4,505.7 L431.5,506.5 L431.6,501.0 L431.7,500.3 L431.8,503.9 L431.9,498.4 L431.9,500.2 L432.0,503.9 L432.1,501.2 L432.2,499.1 L432.3,498.2 L432.4,500.9 L432.5,497.1 L432.6,496.6 L432.7,495.6 L432.8,490.1 L432.9,492.3 L433.0,490.3 L433.1,494.6 L433.2,491.3 L433.3,492.1 L433.4,489.9 L433.5,488.3 L433.6,487.3 L433.7,492.0 L433.8,487.6 L433.9,488.3 L434.0,485.0 L434.1,491.0 L434.2,492.2 L434.3,490.1 L434.4,491.6 L434.4,492.6 L434.5,488.2 L434.6,490.2 L434.7,488.5 L434.8,493.9 L434.9,489.3 L435.0,493.7 L435.1,490.8 L435.2,492.2 L435.3,492.3 L435.4,489.5 L435.5,491.2 L435.6,489.2 L435.7,491.9 L435.8,487.8 L435.9,486.0 L436.0,485.4 L436.1,487.8 L436.2,489.9 L436.3,488.7 L436.4,488.7 L436.5,492.5 L436.6,493.4 L436.7,487.8 L436.8,487.9 L436.9,488.3 L436.9,483.9 L437.0,490.6 L437.1,485.5 L437.2,484.3 L437.3,481.3 L437.4,481.1 L437.5,487.2 L437.6,484.9 L437.7,483.6 L437.8,483.6 L437.9,484.8 L438.0,484.4 L438.1,487.5 L438.2,484.5 L438.3,484.2 L438.4,482.2 L438.5,486.4 L438.6,485.9 L438.7,488.2 L438.8,490.9 L438.9,488.6 L439.0,487.7 L439.1,490.8 L439.2,487.4 L439.3,487.9 L439.4,485.1 L439.4,482.8 L439.5,481.2 L439.6,485.6 L439.7,479.8 L439.8,482.2 L439.9,485.1 L440.0,484.1 L440.1,486.4 L440.2,485.5 L440.3,484.1 L440.4,483.5 L440.5,485.4 L440.6,482.7 L440.7,479.4 L440.8,481.9 L440.9,479.1 L441.0,480.2 L441.1,481.0 L441.2,481.0 L441.3,478.8 L441.4,478.4 L441.5,483.5 L441.6,481.3 L441.7,481.9 L441.8,477.2 L441.9,476.3 L441.9,479.8 L442.0,477.9 L442.1,474.1 L442.2,475.2 L442.3,477.8 L442.4,479.8 L442.5,482.3 L442.6,472.0 L442.7,473.0 L442.8,478.1 L442.9,475.9 L443.0,481.2 L443.1,480.7 L443.2,477.3 L443.3,484.1 L443.4,482.3 L443.5,481.4 L443.6,476.4 L443.7,481.4 L443.8,479.3 L443.9,480.9 L444.0,480.4 L444.1,480.2 L444.2,476.6 L444.3,474.9 L444.4,477.6 L444.4,474.9 L444.5,473.8 L444.6,473.1 L444.7,470.0 L444.8,471.4 L444.9,474.5 L445.0,475.0 L445.1,470.0 L445.2,473.0 L445.3,472.0 L445.4,475.9 L445.5,476.0 L445.6,474.6 L445.7,474.0 L445.8,476.0 L445.9,472.2 L446.0,472.6 L446.1,469.5 L446.2,468.4 L446.3,468.3 L446.4,471.0 L446.5,468.1 L446.6,473.1 L446.7,477.2 L446.8,474.8 L446.9,470.8 L446.9,472.3 L447.0,475.4 L447.1,470.0 L447.2,473.9 L447.3,473.9 L447.4,469.3 L447.5,467.6 L447.6,465.3 L447.7,468.4 L447.8,464.8 L447.9,469.4 L448.0,465.1 L448.1,472.6 L448.2,473.5 L448.3,471.0 L448.4,478.0 L448.5,471.2 L448.6,471.3 L448.7,472.5 L448.8,472.5 L448.9,466.2 L449.0,470.8 L449.1,468.7 L449.2,470.9 L449.3,475.5 L449.4,471.8 L449.4,471.3 L449.5,470.3 L449.6,471.1 L449.7,475.7 L449.8,472.5 L449.9,476.4 L450.0,471.6 L450.1,472.0 L450.2,469.1 L450.3,467.3 L450.4,471.7 L450.5,468.7 L450.6,472.4 L450.7,473.1 L450.8,472.1 L450.9,471.0 L451.0,471.0 L451.1,474.3 L451.2,469.9 L451.3,478.6 L451.4,476.3 L451.5,476.3 L451.6,477.1 L451.7,479.6 L451.8,476.0 L451.9,474.3 L451.9,477.8 L452.0,469.8 L452.1,473.6 L452.2,472.4 L452.3,476.9 L452.4,474.6 L452.5,471.2 L452.6,473.9 L452.7,471.1 L452.8,470.3 L452.9,471.4 L453.0,467.9 L453.1,467.3 L453.2,472.9 L453.3,471.8 L453.4,473.5 L453.5,474.2 L453.6,469.0 L453.7,471.4 L453.8,468.8 L453.9,468.9 L454.0,463.4 L454.1,463.5 L454.2,466.6 L454.3,463.9 L454.4,467.5 L454.4,461.2 L454.5,468.3 L454.6,467.3 L454.7,472.7 L454.8,470.0 L454.9,467.3 L455.0,465.7 L455.1,471.0 L455.2,469.2 L455.3,467.3 L455.4,469.2 L455.5,468.8 L455.6,466.0 L455.7,471.6 L455.8,465.4 L455.9,471.2 L456.0,475.1 L456.1,476.4 L456.2,475.3 L456.3,479.6 L456.4,477.0 L456.5,485.9 L456.6,482.8 L456.7,480.1 L456.8,481.0 L456.9,483.1 L456.9,484.0 L457.0,479.6 L457.1,486.5 L457.2,480.6 L457.3,479.0 L457.4,484.3 L457.5,479.2 L457.6,477.7 L457.7,483.4 L457.8,476.5 L457.9,472.6 L458.0,474.5 L458.1,474.5 L458.2,479.1 L458.3,481.6 L458.4,481.6 L458.5,481.1 L458.6,480.3 L458.7,477.4 L458.8,478.9 L458.9,478.1 L459.0,479.3 L459.1,480.6 L459.2,481.4 L459.3,483.5 L459.4,481.6 L459.5,482.1 L459.5,481.2 L459.6,477.3 L459.7,477.9 L459.8,476.1 L459.9,475.6 L460.0,476.3 L460.1,475.7 L460.2,474.3 L460.3,480.9 L460.4,478.1 L460.5,483.3 L460.6,479.6 L460.7,483.0 L460.8,477.5 L460.9,477.4 L461.0,475.7 L461.1,480.8 L461.2,483.2 L461.3,483.2 L461.4,484.9 L461.5,484.6 L461.6,481.1 L461.7,483.9 L461.8,482.6 L461.9,483.4 L462.0,483.8 L462.0,478.7 L462.1,484.5 L462.2,483.3 L462.3,486.1 L462.4,487.3 L462.5,487.5 L462.6,490.4 L462.7,488.2 L462.8,492.5 L462.9,489.4 L463.0,489.1 L463.1,495.6 L463.2,490.5 L463.3,491.3 L463.4,495.5 L463.5,490.7 L463.6,491.7 L463.7,495.4 L463.8,496.8 L463.9,492.9 L464.0,495.3 L464.1,498.1 L464.2,492.9 L464.3,493.4 L464.4,491.8 L464.5,494.8 L464.5,493.3 L464.6,495.3 L464.7,496.9 L464.8,493.3 L464.9,491.4 L465.0,493.0 L465.1,489.4 L465.2,498.5 L465.3,493.0 L465.4,499.8 L465.5,497.0 L465.6,496.5 L465.7,495.2 L465.8,495.6 L465.9,499.0 L466.0,495.6 L466.1,493.8 L466.2,498.8 L466.3,492.3 L466.4,496.4 L466.5,500.5 L466.6,496.7 L466.7,492.4 L466.8,497.0 L466.9,496.8 L467.0,498.4 L467.0,498.8 L467.1,503.6 L467.2,496.5 L467.3,499.4 L467.4,495.5 L467.5,494.1 L467.6,496.6 L467.7,495.0 L467.8,494.5 L467.9,494.3 L468.0,498.8 L468.1,497.2 L468.2,492.8 L468.3,489.1 L468.4,492.6 L468.5,494.0 L468.6,494.4 L468.7,490.3 L468.8,490.8 L468.9,488.0 L469.0,485.6 L469.1,489.0 L469.2,488.4 L469.3,484.1 L469.4,485.4 L469.5,484.2 L469.5,483.8 L469.6,481.7 L469.7,484.9 L469.8,482.5 L469.9,483.5 L470.0,483.8 L470.1,478.7 L470.2,481.0 L470.3,473.1 L470.4,470.8 L470.5,472.5 L470.6,470.6 L470.7,471.0 L470.8,470.7 L470.9,467.9 L471.0,469.3 L471.1,463.1 L471.2,466.4 L471.3,469.5 L471.4,465.4 L471.5,464.1 L471.6,469.8 L471.7,463.3 L471.8,465.6 L471.9,464.2 L472.0,464.0 L472.0,465.8 L472.1,462.9 L472.2,465.5 L472.3,466.5 L472.4,466.5 L472.5,465.1 L472.6,467.2 L472.7,469.4 L472.8,464.3 L472.9,464.2 L473.0,461.4 L473.1,462.3 L473.2,463.2 L473.3,462.1 L473.4,465.0 L473.5,466.7 L473.6,465.6 L473.7,460.9 L473.8,462.6 L473.9,462.2 L474.0,460.3 L474.1,460.4 L474.2,465.0 L474.3,463.2 L474.4,464.8 L474.5,465.7 L474.5,463.4 L474.6,467.9 L474.7,466.6 L474.8,464.8 L474.9,464.9 L475.0,466.2 L475.1,462.6 L475.2,463.5 L475.3,463.0 L475.4,460.6 L475.5,466.6 L475.6,467.4 L475.7,467.0 L475.8,469.8 L475.9,469.0 L476.0,464.8 L476.1,462.6 L476.2,461.5 L476.3,460.7 L476.4,457.0 L476.5,461.6 L476.6,463.9 L476.7,461.5 L476.8,461.1 L476.9,458.1 L477.0,460.4 L477.0,456.9 L477.1,460.9 L477.2,456.8 L477.3,456.8 L477.4,452.7 L477.5,459.1 L477.6,458.9 L477.7,457.4 L477.8,456.6 L477.9,457.7 L478.0,457.1 L478.1,455.8 L478.2,456.4 L478.3,459.1 L478.4,467.5 L478.5,463.8 L478.6,463.0 L478.7,461.5 L478.8,460.3 L478.9,454.6 L479.0,459.6 L479.1,460.2 L479.2,456.9 L479.3,456.7 L479.4,455.8 L479.5,456.4 L479.5,456.1 L479.6,460.1 L479.7,453.9 L479.8,456.7 L479.9,455.1 L480.0,452.7 L480.1,448.8 L480.2,448.1 L480.3,450.7 L480.4,444.2 L480.5,444.8 L480.6,449.2 L480.7,446.0 L480.8,446.0 L480.9,451.0 L481.0,445.8 L481.1,445.6 L481.2,441.9 L481.3,446.3 L481.4,445.2 L481.5,448.0 L481.6,454.6 L481.7,454.2 L481.8,450.7 L481.9,451.4 L482.0,452.6 L482.0,454.3 L482.1,457.9 L482.2,459.8 L482.3,452.6 L482.4,460.2 L482.5,456.2 L482.6,456.5 L482.7,460.2 L482.8,456.1 L482.9,453.3 L483.0,452.7 L483.1,453.3 L483.2,453.6 L483.3,454.7 L483.4,452.7 L483.5,454.4 L483.6,461.5 L483.7,456.5 L483.8,456.7 L483.9,454.0 L484.0,454.9 L484.1,455.0 L484.2,456.6 L484.3,450.0 L484.4,447.4 L484.5,446.2 L484.5,445.3 L484.6,446.9 L484.7,451.0 L484.8,450.2 L484.9,452.7 L485.0,458.9 L485.1,450.8 L485.2,455.7 L485.3,455.8 L485.4,456.8 L485.5,457.2 L485.6,457.6 L485.7,453.3 L485.8,457.8 L485.9,456.2 L486.0,454.3 L486.1,449.9 L486.2,450.0 L486.3,451.4 L486.4,450.8 L486.5,448.0 L486.6,449.0 L486.7,449.2 L486.8,448.9 L486.9,454.5 L487.0,456.4 L487.1,454.3 L487.1,453.8 L487.2,449.7 L487.3,453.1 L487.4,452.6 L487.5,451.5 L487.6,451.8 L487.7,447.1 L487.8,449.2 L487.9,452.2 L488.0,452.5 L488.1,449.4 L488.2,454.6 L488.3,455.8 L488.4,456.5 L488.5,456.8 L488.6,452.8 L488.7,455.4 L488.8,456.2 L488.9,457.6 L489.0,457.9 L489.1,460.3 L489.2,456.1 L489.3,456.8 L489.4,452.9 L489.5,454.0 L489.6,451.3 L489.6,448.3 L489.7,448.5 L489.8,444.9 L489.9,447.5 L490.0,449.2 L490.1,445.5 L490.2,444.9 L490.3,443.9 L490.4,444.4 L490.5,439.8 L490.6,444.6 L490.7,441.9 L490.8,443.4 L490.9,442.8 L491.0,440.0 L491.1,437.1 L491.2,442.4 L491.3,437.5 L491.4,438.7 L491.5,440.0 L491.6,439.7 L491.7,440.3 L491.8,438.7 L491.9,440.3 L492.0,441.1 L492.1,440.7 L492.1,439.1 L492.2,440.9 L492.3,440.0 L492.4,439.4 L492.5,441.9 L492.6,444.4 L492.7,446.6 L492.8,446.4 L492.9,446.8 L493.0,451.1 L493.1,443.6 L493.2,447.4 L493.3,443.7 L493.4,446.9 L493.5,446.2 L493.6,447.4 L493.7,439.9 L493.8,446.6 L493.9,441.7 L494.0,440.3 L494.1,439.5 L494.2,446.4 L494.3,443.6 L494.4,440.8 L494.5,443.3 L494.6,442.2 L494.6,437.7 L494.7,442.3 L494.8,444.0 L494.9,445.0 L495.0,446.7 L495.1,442.2 L495.2,443.5 L495.3,444.4 L495.4,444.5 L495.5,444.8 L495.6,447.0 L495.7,445.0 L495.8,449.2 L495.9,449.1 L496.0,450.0 L496.1,449.1 L496.2,450.7 L496.3,450.9 L496.4,454.6 L496.5,453.8 L496.6,450.2 L496.7,453.7 L496.8,455.7 L496.9,452.8 L497.0,451.8 L497.1,451.5 L497.1,450.8 L497.2,451.0 L497.3,450.2 L497.4,454.8 L497.5,452.1 L497.6,455.1 L497.7,453.8 L497.8,453.2 L497.9,451.9 L498.0,455.2 L498.1,459.3 L498.2,454.4 L498.3,458.2 L498.4,460.2 L498.5,457.1 L498.6,460.1 L498.7,457.4 L498.8,460.7 L498.9,461.1 L499.0,462.8 L499.1,462.6 L499.2,461.3 L499.3,461.1 L499.4,460.9 L499.5,461.4 L499.6,467.7 L499.6,464.9 L499.7,466.0 L499.8,463.7 L499.9,466.8 L500.0,464.3 L500.1,462.5 L500.2,466.6 L500.3,464.0 L500.4,460.6 L500.5,462.1 L500.6,459.8 L500.7,455.4 L500.8,461.5 L500.9,459.3 L501.0,465.0 L501.1,458.5 L501.2,458.1 L501.3,462.3 L501.4,461.8 L501.5,466.1 L501.6,463.8 L501.7,467.5 L501.8,463.8 L501.9,465.3 L502.0,460.2 L502.1,462.9 L502.1,462.3 L502.2,465.3 L502.3,462.7 L502.4,466.3 L502.5,464.4 L502.6,468.1 L502.7,462.1 L502.8,463.7 L502.9,459.0 L503.0,459.3 L503.1,459.9 L503.2,455.6 L503.3,458.3 L503.4,456.7 L503.5,460.7 L503.6,458.0 L503.7,461.4 L503.8,465.0 L503.9,457.0 L504.0,455.4 L504.1,458.0 L504.2,457.2 L504.3,455.5 L504.4,457.4 L504.5,459.2 L504.6,459.9 L504.6,461.9 L504.7,459.0 L504.8,459.1 L504.9,460.4 L505.0,457.4 L505.1,458.1 L505.2,457.8 L505.3,452.8 L505.4,458.3 L505.5,458.8 L505.6,460.9 L505.7,459.9 L505.8,457.6 L505.9,462.6 L506.0,463.9 L506.1,462.0 L506.2,460.7 L506.3,462.6 L506.4,462.3 L506.5,466.2 L506.6,471.5 L506.7,468.9 L506.8,469.3 L506.9,471.9 L507.0,476.8 L507.1,471.0 L507.1,473.9 L507.2,471.1 L507.3,468.0 L507.4,464.7 L507.5,466.8 L507.6,465.6 L507.7,463.1 L507.8,465.5 L507.9,465.2 L508.0,463.6 L508.1,465.2 L508.2,467.6 L508.3,470.1 L508.4,467.5 L508.5,471.7 L508.6,477.2 L508.7,476.6 L508.8,474.2 L508.9,471.9 L509.0,470.5 L509.1,474.6 L509.2,473.3 L509.3,469.8 L509.4,473.6 L509.5,475.6 L509.6,479.0 L509.6,475.3 L509.7,484.1 L509.8,479.3 L509.9,475.9 L510.0,479.4 L510.1,479.7 L510.2,477.2 L510.3,477.8 L510.4,476.7 L510.5,477.4 L510.6,476.9 L510.7,478.5 L510.8,478.8 L510.9,477.2 L511.0,479.1 L511.1,476.9 L511.2,475.8 L511.3,472.8 L511.4,477.5 L511.5,474.5 L511.6,471.5 L511.7,474.2 L511.8,468.9 L511.9,469.7 L512.0,470.6 L512.1,473.5 L512.1,473.4 L512.2,475.6 L512.3,474.9 L512.4,475.9 L512.5,476.2 L512.6,469.9 L512.7,471.1 L512.8,476.7 L512.9,474.3 L513.0,480.4 L513.1,475.2 L513.2,477.0 L513.3,479.0 L513.4,475.6 L513.5,475.5 L513.6,478.4 L513.7,477.6 L513.8,478.2 L513.9,481.1 L514.0,480.9 L514.1,482.9 L514.2,480.9 L514.3,478.5 L514.4,481.1 L514.5,478.6 L514.6,476.9 L514.6,474.9 L514.7,478.0 L514.8,476.3 L514.9,476.9 L515.0,476.5 L515.1,473.4 L515.2,475.5 L515.3,475.0 L515.4,477.7 L515.5,477.5 L515.6,477.3 L515.7,474.8 L515.8,477.8 L515.9,477.1 L516.0,477.8 L516.1,477.8 L516.2,474.3 L516.3,473.3 L516.4,479.5 L516.5,475.8 L516.6,478.8 L516.7,476.7 L516.8,478.3 L516.9,473.8 L517.0,473.5 L517.1,477.2 L517.2,479.2 L517.2,472.7 L517.3,473.2 L517.4,473.1 L517.5,475.1 L517.6,476.8 L517.7,477.5 L517.8,474.1 L517.9,481.4 L518.0,478.7 L518.1,474.2 L518.2,477.5 L518.3,479.4 L518.4,482.1 L518.5,478.4 L518.6,480.5 L518.7,479.8 L518.8,480.6 L518.9,479.5 L519.0,476.1 L519.1,478.9 L519.2,472.8 L519.3,477.1 L519.4,474.2 L519.5,475.7 L519.6,479.8 L519.7,474.4 L519.7,470.1 L519.8,475.5 L519.9,475.0 L520.0,474.2 L520.1,471.4 L520.2,471.7 L520.3,468.7 L520.4,469.8 L520.5,472.2 L520.6,473.6 L520.7,474.7 L520.8,471.3 L520.9,471.9 L521.0,474.1 L521.1,472.9 L521.2,472.7 L521.3,474.7 L521.4,478.9 L521.5,473.4 L521.6,475.0 L521.7,473.3 L521.8,475.1 L521.9,479.7 L522.0,477.7 L522.1,480.0 L522.2,478.5 L522.2,482.5 L522.3,479.0 L522.4,477.6 L522.5,482.4 L522.6,478.8 L522.7,477.7 L522.8,481.6 L522.9,483.0 L523.0,482.3 L523.1,485.3 L523.2,483.0 L523.3,485.8 L523.4,486.7 L523.5,489.0 L523.6,487.2 L523.7,488.5 L523.8,489.7 L523.9,491.1 L524.0,485.0 L524.1,490.1 L524.2,489.3 L524.3,487.4 L524.4,489.2 L524.5,489.1 L524.6,484.1 L524.7,487.1 L524.7,483.7 L524.8,485.7 L524.9,486.1 L525.0,481.8 L525.1,483.4 L525.2,483.1 L525.3,486.3 L525.4,487.9 L525.5,490.1 L525.6,487.0 L525.7,486.2 L525.8,489.1 L525.9,489.7 L526.0,489.2 L526.1,488.0 L526.2,489.1 L526.3,486.5 L526.4,487.4 L526.5,489.6 L526.6,489.7 L526.7,490.2 L526.8,492.2 L526.9,490.0 L527.0,493.2 L527.1,489.7 L527.2,487.5 L527.2,490.9 L527.3,488.5 L527.4,489.2 L527.5,489.5 L527.6,490.8 L527.7,491.8 L527.8,490.9 L527.9,492.7 L528.0,496.8 L528.1,497.3 L528.2,500.1 L528.3,492.6 L528.4,491.7 L528.5,491.9 L528.6,494.5 L528.7,496.2 L528.8,495.5 L528.9,495.5 L529.0,493.7 L529.1,494.0 L529.2,490.8 L529.3,490.8 L529.4,492.4 L529.5,491.0 L529.6,491.9 L529.7,487.8 L529.7,490.0 L529.8,491.5 L529.9,492.2 L530.0,492.1 L530.1,492.5 L530.2,496.1 L530.3,495.7 L530.4,497.3 L530.5,496.5 L530.6,495.1 L530.7,494.9 L530.8,492.5 L530.9,491.0 L531.0,491.9 L531.1,489.5 L531.2,495.3 L531.3,494.9 L531.4,493.2 L531.5,497.3 L531.6,500.5 L531.7,499.0 L531.8,497.3 L531.9,496.6 L532.0,496.8 L532.1,495.8 L532.2,491.0 L532.2,491.7 L532.3,490.4 L532.4,489.9 L532.5,491.0 L532.6,489.7 L532.7,491.7 L532.8,493.6 L532.9,495.6 L533.0,493.1 L533.1,495.2 L533.2,493.5 L533.3,491.4 L533.4,495.2 L533.5,495.0 L533.6,496.6 L533.7,495.5 L533.8,498.4 L533.9,498.0 L534.0,500.4 L534.1,502.3 L534.2,498.6 L534.3,498.3 L534.4,500.8 L534.5,504.2 L534.6,505.2 L534.7,507.4 L534.7,510.9 L534.8,506.3 L534.9,507.8 L535.0,508.3 L535.1,507.6 L535.2,506.7 L535.3,507.9 L535.4,508.8 L535.5,509.6 L535.6,513.4 L535.7,512.8 L535.8,511.2 L535.9,515.0 L536.0,512.3 L536.1,513.2 L536.2,513.3 L536.3,513.5 L536.4,513.7 L536.5,511.3 L536.6,512.1 L536.7,510.1 L536.8,509.3 L536.9,510.2 L537.0,509.5 L537.1,509.0 L537.2,505.3 L537.2,507.1 L537.3,510.4 L537.4,505.6 L537.5,503.9 L537.6,504.1 L537.7,501.4 L537.8,502.7 L537.9,503.0 L538.0,501.7 L538.1,504.1 L538.2,502.7 L538.3,499.6 L538.4,499.4 L538.5,498.5 L538.6,499.9 L538.7,502.4 L538.8,500.2 L538.9,501.5 L539.0,504.6 L539.1,504.5 L539.2,503.5 L539.3,507.0 L539.4,502.0 L539.5,503.2 L539.6,503.7 L539.7,500.8 L539.7,502.4 L539.8,501.4 L539.9,504.6 L540.0,501.5 L540.1,504.4 L540.2,502.1 L540.3,501.7 L540.4,499.8 L540.5,501.0 L540.6,498.7 L540.7,498.8 L540.8,501.4 L540.9,503.9 L541.0,499.6 L541.1,498.6 L541.2,499.8 L541.3,498.1 L541.4,494.9 L541.5,496.3 L541.6,499.2 L541.7,495.2 L541.8,495.3 L541.9,496.1 L542.0,493.3 L542.1,494.7 L542.2,495.1 L542.2,495.5 L542.3,493.0 L542.4,489.6 L542.5,488.3 L542.6,490.4 L542.7,489.3 L542.8,489.1 L542.9,489.0 L543.0,486.8 L543.1,487.2 L543.2,486.4 L543.3,486.6 L543.4,482.4 L543.5,485.5 L543.6,484.5 L543.7,484.9 L543.8,485.1 L543.9,483.5 L544.0,487.4 L544.1,486.3 L544.2,486.2 L544.3,484.7 L544.4,483.6 L544.5,487.8 L544.6,488.6 L544.7,484.2 L544.8,485.6 L544.8,483.0 L544.9,486.2 L545.0,485.6 L545.1,480.8 L545.2,482.2 L545.3,478.4 L545.4,478.8 L545.5,477.0 L545.6,478.9 L545.7,479.6 L545.8,481.0 L545.9,482.8 L546.0,483.4 L546.1,483.9 L546.2,488.3 L546.3,486.9 L546.4,486.7 L546.5,486.2 L546.6,489.3 L546.7,487.6 L546.8,486.7 L546.9,486.8 L547.0,487.3 L547.1,487.1 L547.2,489.2 L547.3,489.4 L547.3,490.0 L547.4,485.4 L547.5,490.8 L547.6,489.4 L547.7,490.6 L547.8,488.3 L547.9,491.6 L548.0,490.6 L548.1,492.3 L548.2,489.7 L548.3,490.2 L548.4,489.3 L548.5,486.8 L548.6,489.0 L548.7,490.0 L548.8,484.2 L548.9,487.5 L549.0,488.1 L549.1,488.0 L549.2,488.1 L549.3,484.7 L549.4,485.3 L549.5,486.3 L549.6,485.9 L549.7,484.9 L549.8,483.7 L549.8,489.3 L549.9,488.0 L550.0,490.2 L550.1,492.2 L550.2,493.2 L550.3,495.0 L550.4,493.9 L550.5,494.2 L550.6,492.9 L550.7,498.5 L550.8,495.2 L550.9,493.4 L551.0,492.0 L551.1,496.9 L551.2,497.5 L551.3,498.9 L551.4,499.6 L551.5,500.3 L551.6,500.0 L551.7,496.9 L551.8,495.7 L551.9,502.6 L552.0,498.4 L552.1,495.5 L552.2,492.8 L552.3,496.9 L552.3,494.2 L552.4,492.8 L552.5,492.8 L552.6,495.4 L552.7,496.1 L552.8,494.1 L552.9,493.5 L553.0,497.7 L553.1,497.9 L553.2,498.1 L553.3,498.8 L553.4,502.9 L553.5,500.3 L553.6,502.2 L553.7,504.5 L553.8,501.7 L553.9,500.9 L554.0,497.0 L554.1,498.9 L554.2,502.2 L554.3,501.6 L554.4,500.3 L554.5,499.1 L554.6,497.1 L554.7,498.9 L554.8,498.9 L554.8,497.5 L554.9,495.8 L555.0,494.8 L555.1,496.6 L555.2,498.4 L555.3,498.9 L555.4,497.1 L555.5,493.8 L555.6,490.7 L555.7,491.1 L555.8,488.9 L555.9,489.3 L556.0,489.3 L556.1,491.4 L556.2,493.4 L556.3,487.9 L556.4,489.8 L556.5,489.6 L556.6,487.4 L556.7,487.6 L556.8,489.3 L556.9,485.2 L557.0,485.3 L557.1,486.1 L557.2,488.6 L557.3,482.7 L557.3,484.3 L557.4,487.9 L557.5,489.2 L557.6,489.9 L557.7,487.5 L557.8,488.6 L557.9,490.3 L558.0,490.5 L558.1,488.9 L558.2,487.3 L558.3,489.2 L558.4,488.0 L558.5,489.2 L558.6,492.2 L558.7,494.7 L558.8,495.2 L558.9,495.2 L559.0,497.4 L559.1,497.2 L559.2,492.7 L559.3,496.3 L559.4,495.9 L559.5,492.4 L559.6,498.0 L559.7,493.4 L559.8,496.3 L559.8,496.3 L559.9,494.7 L560.0,495.7 L560.1,492.6 L560.2,496.3 L560.3,496.9 L560.4,498.2 L560.5,500.3 L560.6,501.8 L560.7,501.7 L560.8,500.0 L560.9,501.1 L561.0,500.0 L561.1,495.9 L561.2,494.7 L561.3,497.3 L561.4,495.9 L561.5,497.0 L561.6,495.9 L561.7,496.5 L561.8,500.1 L561.9,499.1 L562.0,500.7 L562.1,498.2 L562.2,499.3 L562.3,500.2 L562.3,501.8 L562.4,499.7 L562.5,496.1 L562.6,499.6 L562.7,496.9 L562.8,499.0 L562.9,496.5 L563.0,499.4 L563.1,497.5 L563.2,497.9 L563.3,497.3 L563.4,496.5 L563.5,497.8 L563.6,496.6 L563.7,496.7 L563.8,493.9 L563.9,499.6 L564.0,495.9 L564.1,498.4 L564.2,496.8 L564.3,497.8 L564.4,496.5 L564.5,499.5 L564.6,498.3 L564.7,495.2 L564.8,497.2 L564.8,498.0 L564.9,498.7 L565.0,495.3 L565.1,498.0 L565.2,495.2 L565.3,497.9 L565.4,496.2 L565.5,497.6 L565.6,497.3 L565.7,494.4 L565.8,493.3 L565.9,495.2 L566.0,493.5 L566.1,492.4 L566.2,492.8 L566.3,490.7 L566.4,492.8 L566.5,492.3 L566.6,493.0 L566.7,487.5 L566.8,491.8 L566.9,488.7 L567.0,492.8 L567.1,491.0 L567.2,492.6 L567.3,495.0 L567.3,495.4 L567.4,494.2 L567.5,492.8 L567.6,496.0 L567.7,495.1 L567.8,489.2 L567.9,492.3 L568.0,490.7 L568.1,489.6 L568.2,487.0 L568.3,487.4 L568.4,488.5 L568.5,485.2 L568.6,487.5 L568.7,487.9 L568.8,491.7 L568.9,489.5 L569.0,492.4 L569.1,490.0 L569.2,490.6 L569.3,492.3 L569.4,492.1 L569.5,493.1 L569.6,494.6 L569.7,492.7 L569.8,494.3 L569.8,488.6 L569.9,490.6 L570.0,490.2 L570.1,490.8 L570.2,486.6 L570.3,489.7 L570.4,489.3 L570.5,489.4 L570.6,489.5 L570.7,490.7 L570.8,491.1 L570.9,491.3 L571.0,487.6 L571.1,490.8 L571.2,488.3 L571.3,484.1 L571.4,485.8 L571.5,483.7 L571.6,483.6 L571.7,483.0 L571.8,482.4 L571.9,484.9 L572.0,483.0 L572.1,483.3 L572.2,487.6 L572.3,480.6 L572.3,479.2 L572.4,478.0 L572.5,476.0 L572.6,478.4 L572.7,477.8 L572.8,476.3 L572.9,479.6 L573.0,481.5 L573.1,479.7 L573.2,479.3 L573.3,481.1 L573.4,476.4 L573.5,479.9 L573.6,480.2 L573.7,479.4 L573.8,482.5 L573.9,481.8 L574.0,485.6 L574.1,483.7 L574.2,480.4 L574.3,483.7 L574.4,480.2 L574.5,483.1 L574.6,481.7 L574.7,484.7 L574.8,484.4 L574.9,484.6 L574.9,486.0 L575.0,482.7 L575.1,482.5 L575.2,480.6 L575.3,483.9 L575.4,478.8 L575.5,481.2 L575.6,483.7 L575.7,483.7 L575.8,484.2 L575.9,482.6 L576.0,482.6 L576.1,482.8 L576.2,486.0 L576.3,485.4 L576.4,482.9 L576.5,484.0 L576.6,482.4 L576.7,483.5 L576.8,480.4 L576.9,482.4 L577.0,483.6 L577.1,482.2 L577.2,481.5 L577.3,482.1 L577.4,482.1 L577.4,480.8 L577.5,482.0 L577.6,481.8 L577.7,484.4 L577.8,483.1 L577.9,484.2 L578.0,484.1 L578.1,481.5 L578.2,485.2 L578.3,486.6 L578.4,487.8 L578.5,485.7 L578.6,489.7 L578.7,489.1 L578.8,487.5 L578.9,491.4 L579.0,489.5 L579.1,488.1 L579.2,486.8 L579.3,484.2 L579.4,487.9 L579.5,489.5 L579.6,488.2 L579.7,486.5 L579.8,485.7 L579.9,486.8 L579.9,489.1 L580.0,486.6 L580.1,490.4 L580.2,486.2 L580.3,492.4 L580.4,494.7 L580.5,492.4 L580.6,490.5 L580.7,491.6 L580.8,493.8 L580.9,496.3 L581.0,497.0 L581.1,493.7 L581.2,494.5 L581.3,493.2 L581.4,493.5 L581.5,491.5 L581.6,492.3 L581.7,495.2 L581.8,494.7 L581.9,498.0 L582.0,498.2 L582.1,497.8 L582.2,499.4 L582.3,498.1 L582.4,497.2 L582.4,496.6 L582.5,498.1 L582.6,501.2 L582.7,497.8 L582.8,498.3 L582.9,499.0 L583.0,495.4 L583.1,496.5 L583.2,492.6 L583.3,498.0 L583.4,498.7 L583.5,495.9 L583.6,495.8 L583.7,497.1 L583.8,498.4 L583.9,497.2 L584.0,492.9 L584.1,495.1 L584.2,492.7 L584.3,493.7 L584.4,493.3 L584.5,494.2 L584.6,496.3 L584.7,495.5 L584.8,493.2 L584.9,496.0 L584.9,496.8 L585.0,498.7 L585.1,492.6 L585.2,493.5 L585.3,492.1 L585.4,492.5 L585.5,488.9 L585.6,489.5 L585.7,486.0 L585.8,489.8 L585.9,492.8 L586.0,490.5 L586.1,491.2 L586.2,493.8 L586.3,487.3 L586.4,491.6 L586.5,489.9 L586.6,487.6 L586.7,485.9 L586.8,489.8 L586.9,486.2 L587.0,493.1 L587.1,491.7 L587.2,490.9 L587.3,493.1 L587.4,491.4 L587.4,491.5 L587.5,493.5 L587.6,493.4 L587.7,494.3 L587.8,495.2 L587.9,496.5 L588.0,494.6 L588.1,495.7 L588.2,499.0 L588.3,496.8 L588.4,499.6 L588.5,496.7 L588.6,498.0 L588.7,497.1 L588.8,496.7 L588.9,498.6 L589.0,497.1 L589.1,497.5 L589.2,493.9 L589.3,497.8 L589.4,496.9 L589.5,497.1 L589.6,495.7 L589.7,501.2 L589.8,496.3 L589.9,498.6 L589.9,497.5 L590.0,499.3 L590.1,502.1 L590.2,502.8 L590.3,499.0 L590.4,502.2 L590.5,498.7 L590.6,503.5 L590.7,501.0 L590.8,502.6 L590.9,501.6 L591.0,503.0 L591.1,503.7 L591.2,504.4 L591.3,502.2 L591.4,501.7 L591.5,503.5 L591.6,500.1 L591.7,500.3 L591.8,503.3 L591.9,503.4 L592.0,501.2 L592.1,499.8 L592.2,499.9 L592.3,501.4 L592.4,502.9 L592.4,501.9 L592.5,501.7 L592.6,504.8 L592.7,504.4 L592.8,505.6 L592.9,504.9 L593.0,502.6 L593.1,505.9 L593.2,503.5 L593.3,502.3 L593.4,501.8 L593.5,503.2 L593.6,502.5 L593.7,502.2 L593.8,503.7 L593.9,503.8 L594.0,505.5 L594.1,506.0 L594.2,505.2 L594.3,506.9 L594.4,507.5 L594.5,505.1 L594.6,504.4 L594.7,505.5 L594.8,506.4 L594.9,507.0 L594.9,505.2 L595.0,503.6 L595.1,505.6 L595.2,505.8 L595.3,505.4 L595.4,506.8 L595.5,506.4 L595.6,509.4 L595.7,508.4 L595.8,510.5 L595.9,511.5 L596.0,511.8 L596.1,510.7 L596.2,509.9 L596.3,513.2 L596.4,512.8 L596.5,517.1 L596.6,516.8 L596.7,517.6 L596.8,520.5 L596.9,521.3 L597.0,523.4 L597.1,521.5 L597.2,523.2 L597.3,521.9 L597.4,520.8 L597.4,522.7 L597.5,522.0 L597.6,521.8 L597.7,521.9 L597.8,521.4 L597.9,521.2 L598.0,524.5 L598.1,524.9 L598.2,526.5 L598.3,525.9 L598.4,529.7 L598.5,527.8 L598.6,528.8 L598.7,530.6 L598.8,527.2 L598.9,531.1 L599.0,527.6 L599.1,529.0 L599.2,527.8 L599.3,530.2 L599.4,529.2 L599.5,528.0 L599.6,530.5 L599.7,529.0 L599.8,529.0 L599.9,530.8 L599.9,529.6 L600.0,529.0 L600.1,530.2 L600.2,532.0 L600.3,531.0 L600.4,531.2 L600.5,529.7 L600.6,530.9 L600.7,529.5 L600.8,529.8 L600.9,527.1 L601.0,528.5 L601.1,528.6 L601.2,526.3 L601.3,524.4 L601.4,521.1 L601.5,523.3 L601.6,526.6 L601.7,524.6 L601.8,523.1 L601.9,525.7 L602.0,524.6 L602.1,524.7 L602.2,525.6 L602.3,528.5 L602.4,527.0 L602.5,526.7 L602.5,527.0 L602.6,528.2 L602.7,525.5 L602.8,528.7 L602.9,529.7 L603.0,529.7 L603.1,526.3 L603.2,529.8 L603.3,524.9 L603.4,527.3 L603.5,527.1 L603.6,528.5 L603.7,526.1 L603.8,527.0 L603.9,525.5 L604.0,521.9 L604.1,525.5 L604.2,526.3 L604.3,527.2 L604.4,526.5 L604.5,525.4 L604.6,526.2 L604.7,524.2 L604.8,522.1 L604.9,524.8 L605.0,524.6 L605.0,525.2 L605.1,523.8 L605.2,522.3 L605.3,526.1 L605.4,525.8 L605.5,528.5 L605.6,522.6 L605.7,526.1 L605.8,522.0 L605.9,524.4 L606.0,523.4 L606.1,524.3 L606.2,519.9 L606.3,519.5 L606.4,519.2 L606.5,524.3 L606.6,518.3 L606.7,517.1 L606.8,518.0 L606.9,516.5 L607.0,517.4 L607.1,515.8 L607.2,517.0 L607.3,521.7 L607.4,519.5 L607.5,520.3 L607.5,525.4 L607.6,523.1 L607.7,522.9 L607.8,523.6 L607.9,523.1 L608.0,523.6 L608.1,522.1 L608.2,526.7 L608.3,522.6 L608.4,522.0 L608.5,521.0 L608.6,518.6 L608.7,520.3 L608.8,517.1 L608.9,521.2 L609.0,522.9 L609.1,521.1 L609.2,523.0 L609.3,520.7 L609.4,516.7 L609.5,518.9 L609.6,519.1 L609.7,521.6 L609.8,521.2 L609.9,519.7 L610.0,518.6 L610.0,517.5 L610.1,520.0 L610.2,516.6 L610.3,512.0 L610.4,516.9 L610.5,517.1 L610.6,517.3 L610.7,515.1 L610.8,520.7 L610.9,518.2 L611.0,518.7 L611.1,515.3 L611.2,516.4 L611.3,514.6 L611.4,516.8 L611.5,518.9 L611.6,515.6 L611.7,514.0 L611.8,517.8 L611.9,519.7 L612.0,516.7 L612.1,518.7 L612.2,518.8 L612.3,518.0 L612.4,519.5 L612.5,519.3 L612.5,519.6 L612.6,518.8 L612.7,522.5 L612.8,520.7 L612.9,525.0 L613.0,524.3 L613.1,522.3 L613.2,520.5 L613.3,519.3 L613.4,516.8 L613.5,520.5 L613.6,524.8 L613.7,527.5 L613.8,532.0 L613.9,528.1 L614.0,529.2 L614.1,528.7 L614.2,529.4 L614.3,531.2 L614.4,532.6 L614.5,534.4 L614.6,535.2 L614.7,535.6 L614.8,537.3 L614.9,535.0 L615.0,536.6 L615.0,540.0 L615.1,540.5 L615.2,543.2 L615.3,540.1 L615.4,543.1 L615.5,540.0 L615.6,541.5 L615.7,542.7 L615.8,540.5 L615.9,542.8 L616.0,541.4 L616.1,546.8 L616.2,549.1 L616.3,546.4 L616.4,551.6 L616.5,550.9 L616.6,547.2 L616.7,547.9 L616.8,551.3 L616.9,552.6 L617.0,551.6 L617.1,552.8 L617.2,555.0 L617.3,554.5 L617.4,554.2 L617.5,553.5 L617.5,556.2 L617.6,556.7 L617.7,560.8 L617.8,556.4 L617.9,561.5 L618.0,561.6 L618.1,560.6 L618.2,565.3 L618.3,561.9 L618.4,564.4 L618.5,565.0 L618.6,566.2 L618.7,564.4 L618.8,564.4 L618.9,564.3 L619.0,564.6 L619.1,563.7 L619.2,564.3 L619.3,563.4 L619.4,564.7 L619.5,566.3 L619.6,566.1 L619.7,565.7 L619.8,567.5 L619.9,567.6 L620.0,568.4 L620.0,571.9 L620.1,573.9 L620.2,570.8 L620.3,570.3 L620.4,571.2 L620.5,570.5 L620.6,569.6 L620.7,569.2 L620.8,570.6 L620.9,568.4 L621.0,568.1 L621.1,570.3 L621.2,566.7 L621.3,565.9 L621.4,565.0 L621.5,569.3 L621.6,568.0 L621.7,566.8 L621.8,566.0 L621.9,567.2 L622.0,566.2 L622.1,567.8 L622.2,563.9 L622.3,563.9 L622.4,563.9 L622.5,564.4 L622.5,565.1 L622.6,562.1 L622.7,563.8 L622.8,562.8 L622.9,568.2 L623.0,563.3 L623.1,563.1 L623.2,561.3 L623.3,565.6 L623.4,567.7 L623.5,563.9 L623.6,562.0 L623.7,564.0 L623.8,563.4 L623.9,562.5 L624.0,559.8 L624.1,558.9 L624.2,561.2 L624.3,558.6 L624.4,561.4 L624.5,559.6 L624.6,560.2 L624.7,561.8 L624.8,563.3 L624.9,561.3 L625.0,563.7 L625.0,563.5 L625.1,563.8 L625.2,562.5 L625.3,564.3 L625.4,559.8 L625.5,556.9 L625.6,559.0 L625.7,559.5 L625.8,559.0 L625.9,559.8 L626.0,562.1 L626.1,559.9 L626.2,562.4 L626.3,561.7 L626.4,561.0 L626.5,561.9 L626.6,562.6 L626.7,563.7 L626.8,565.7 L626.9,561.6 L627.0,561.3 L627.1,562.4 L627.2,570.7 L627.3,568.8 L627.4,570.0 L627.5,569.0 L627.5,567.4 L627.6,571.4 L627.7,571.3 L627.8,570.2 L627.9,572.1 L628.0,570.3 L628.1,567.9 L628.2,565.3 L628.3,566.6 L628.4,565.6 L628.5,565.9 L628.6,567.6 L628.7,565.4 L628.8,564.9 L628.9,570.7 L629.0,570.4 L629.1,573.8 L629.2,571.2 L629.3,576.5 L629.4,573.6 L629.5,572.5 L629.6,573.0 L629.7,573.5 L629.8,573.8 L629.9,572.8 L630.0,572.7 L630.0,570.9 L630.1,569.7 L630.2,566.8 L630.3,568.7 L630.4,567.8 L630.5,566.8 L630.6,567.5 L630.7,567.8 L630.8,569.4 L630.9,568.5 L631.0,570.3 L631.1,572.4 L631.2,569.8 L631.3,568.9 L631.4,571.8 L631.5,571.3 L631.6,572.6 L631.7,573.1 L631.8,569.7 L631.9,569.6 L632.0,572.2 L632.1,571.4 L632.2,568.9 L632.3,573.2 L632.4,572.1 L632.5,573.3 L632.6,572.6 L632.6,571.1 L632.7,566.9 L632.8,571.2 L632.9,568.8 L633.0,569.3 L633.1,567.4 L633.2,569.1 L633.3,568.2 L633.4,572.8 L633.5,570.2 L633.6,572.5 L633.7,567.3 L633.8,569.7 L633.9,570.6 L634.0,570.5 L634.1,573.4 L634.2,570.2 L634.3,566.4 L634.4,568.6 L634.5,568.7 L634.6,569.7 L634.7,568.0 L634.8,569.8 L634.9,570.1 L635.0,568.0 L635.1,567.4 L635.1,566.1 L635.2,564.5 L635.3,563.9 L635.4,567.2 L635.5,566.2 L635.6,566.4 L635.7,564.6 L635.8,566.8 L635.9,565.4 L636.0,566.2 L636.1,564.4 L636.2,560.6 L636.3,560.2 L636.4,562.4 L636.5,562.9 L636.6,561.9 L636.7,557.6 L636.8,557.7 L636.9,558.9 L637.0,561.7 L637.1,559.4 L637.2,559.5 L637.3,556.5 L637.4,557.3 L637.5,554.3 L637.6,552.1 L637.6,557.7 L637.7,552.9 L637.8,552.2 L637.9,550.7 L638.0,554.2 L638.1,553.5 L638.2,555.6 L638.3,554.3 L638.4,546.9 L638.5,550.3 L638.6,552.2 L638.7,551.1 L638.8,548.9 L638.9,551.1 L639.0,551.3 L639.1,551.8 L639.2,550.4 L639.3,549.8 L639.4,553.3 L639.5,557.8 L639.6,554.4 L639.7,558.1 L639.8,555.3 L639.9,556.4 L640.0,552.3 L640.1,552.8 L640.1,557.0 L640.2,551.1 L640.3,552.6 L640.4,550.4 L640.5,551.3 L640.6,548.5 L640.7,546.4 L640.8,546.9 L640.9,546.4 L641.0,546.9 L641.1,544.1 L641.2,548.4 L641.3,548.1 L641.4,547.4 L641.5,544.8 L641.6,544.6 L641.7,544.6 L641.8,544.5 L641.9,547.5 L642.0,545.9 L642.1,549.6 L642.2,549.8 L642.3,549.4 L642.4,548.4 L642.5,549.7 L642.6,550.8 L642.6,550.9 L642.7,548.3 L642.8,550.4 L642.9,551.3 L643.0,546.5 L643.1,547.5 L643.2,549.6 L643.3,549.6 L643.4,546.7 L643.5,550.2 L643.6,550.1 L643.7,551.2 L643.8,548.6 L643.9,549.5 L644.0,547.9 L644.1,548.9 L644.2,545.1 L644.3,548.7 L644.4,548.9 L644.5,546.5 L644.6,548.5 L644.7,546.5 L644.8,550.1 L644.9,545.3 L645.0,544.3 L645.1,541.3 L645.1,542.4 L645.2,546.3 L645.3,545.5 L645.4,545.4 L645.5,542.6 L645.6,544.3 L645.7,546.1 L645.8,544.3 L645.9,543.7 L646.0,550.8 L646.1,546.8 L646.2,548.5 L646.3,547.7 L646.4,548.5 L646.5,549.0 L646.6,550.2 L646.7,547.7 L646.8,545.1 L646.9,546.4 L647.0,545.6 L647.1,541.5 L647.2,544.0 L647.3,544.2 L647.4,545.8 L647.5,545.0 L647.6,544.7 L647.6,545.3 L647.7,541.7 L647.8,545.1 L647.9,541.2 L648.0,543.7 L648.1,541.9 L648.2,544.0 L648.3,546.0 L648.4,543.7 L648.5,546.1 L648.6,547.3 L648.7,541.9 L648.8,542.7 L648.9,544.9 L649.0,547.8 L649.1,546.4 L649.2,546.2 L649.3,546.5 L649.4,542.7 L649.5,543.2 L649.6,544.5 L649.7,544.3 L649.8,548.7 L649.9,546.4 L650.0,547.5 L650.1,545.1 L650.1,546.1 L650.2,545.4 L650.3,546.5 L650.4,547.0 L650.5,548.4 L650.6,550.4 L650.7,549.7 L650.8,548.6 L650.9,549.1 L651.0,551.0 L651.1,551.3 L651.2,547.5 L651.3,548.6 L651.4,547.8 L651.5,546.1 L651.6,543.9 L651.7,546.6 L651.8,542.9 L651.9,542.2 L652.0,544.5 L652.1,541.3 L652.2,545.4 L652.3,541.1 L652.4,542.5 L652.5,539.9 L652.6,541.3 L652.6,541.7 L652.7,541.4 L652.8,539.5 L652.9,543.1 L653.0,545.4 L653.1,547.0 L653.2,545.3 L653.3,545.1 L653.4,540.4 L653.5,540.7 L653.6,542.2 L653.7,543.4 L653.8,542.7 L653.9,543.9 L654.0,544.8 L654.1,544.2 L654.2,545.0 L654.3,545.7 L654.4,547.7 L654.5,550.9 L654.6,551.5 L654.7,552.4 L654.8,554.6 L654.9,553.3 L655.0,554.0 L655.1,552.8 L655.1,556.9 L655.2,557.2 L655.3,557.4 L655.4,557.4 L655.5,558.9 L655.6,556.2 L655.7,559.9 L655.8,559.0 L655.9,558.6 L656.0,562.1 L656.1,564.3 L656.2,562.8 L656.3,561.1 L656.4,562.9 L656.5,563.6 L656.6,565.6 L656.7,569.0 L656.8,568.7 L656.9,566.5 L657.0,569.0 L657.1,565.6 L657.2,566.7 L657.3,563.9 L657.4,565.5 L657.5,571.0 L657.6,564.5 L657.6,566.7 L657.7,564.2 L657.8,564.5 L657.9,563.9 L658.0,566.6 L658.1,566.8 L658.2,566.4 L658.3,562.8 L658.4,560.5 L658.5,565.3 L658.6,560.3 L658.7,560.5 L658.8,560.0 L658.9,562.9 L659.0,561.8 L659.1,562.7 L659.2,565.3 L659.3,563.4 L659.4,561.0 L659.5,565.9 L659.6,566.9 L659.7,567.9 L659.8,567.9 L659.9,569.4 L660.0,566.3 L660.1,564.9 L660.2,566.3 L660.2,567.5 L660.3,567.0 L660.4,569.3 L660.5,564.1 L660.6,567.0 L660.7,567.5 L660.8,566.0 L660.9,563.5 L661.0,563.8 L661.1,564.9 L661.2,567.4 L661.3,569.3 L661.4,569.8 L661.5,567.5 L661.6,569.4 L661.7,566.7 L661.8,567.1 L661.9,570.8 L662.0,565.5 L662.1,566.6 L662.2,568.3 L662.3,567.4 L662.4,568.9 L662.5,565.2 L662.6,567.1 L662.7,562.4 L662.7,564.9 L662.8,566.4 L662.9,562.7 L663.0,563.1 L663.1,566.0 L663.2,569.8 L663.3,571.6 L663.4,571.3 L663.5,572.3 L663.6,568.9 L663.7,568.2 L663.8,568.4 L663.9,571.8 L664.0,569.8 L664.1,571.0 L664.2,568.2 L664.3,567.7 L664.4,567.1 L664.5,565.0 L664.6,570.2 L664.7,571.7 L664.8,571.3 L664.9,569.9 L665.0,568.3 L665.1,571.5 L665.2,570.4 L665.2,572.5 L665.3,572.0 L665.4,569.8 L665.5,570.1 L665.6,570.5 L665.7,570.0 L665.8,573.8 L665.9,574.7 L666.0,572.9 L666.1,573.4 L666.2,574.6 L666.3,572.6 L666.4,570.1 L666.5,571.7 L666.6,571.9 L666.7,568.8 L666.8,571.6 L666.9,571.3 L667.0,570.7 L667.1,572.4 L667.2,573.3 L667.3,568.1 L667.4,567.2 L667.5,566.2 L667.6,565.6 L667.7,564.7 L667.7,570.4 L667.8,568.0 L667.9,567.2 L668.0,566.8 L668.1,568.3 L668.2,565.3 L668.3,569.3 L668.4,566.7 L668.5,567.2 L668.6,569.2 L668.7,565.4 L668.8,563.8 L668.9,566.6 L669.0,562.4 L669.1,561.6 L669.2,561.2 L669.3,558.7 L669.4,558.2 L669.5,557.0 L669.6,557.8 L669.7,556.3 L669.8,553.7 L669.9,555.7 L670.0,553.2 L670.1,556.7 L670.2,557.0 L670.2,556.7 L670.3,554.6 L670.4,554.6 L670.5,556.4 L670.6,557.7 L670.7,561.4 L670.8,559.6 L670.9,561.8 L671.0,559.1 L671.1,564.6 L671.2,566.5 L671.3,567.7 L671.4,568.6 L671.5,566.7 L671.6,569.9 L671.7,566.6 L671.8,568.3 L671.9,569.4 L672.0,570.0 L672.1,570.4 L672.2,567.8 L672.3,569.6 L672.4,567.6 L672.5,566.3 L672.6,564.5 L672.7,567.0 L672.7,567.0 L672.8,566.6 L672.9,566.3 L673.0,566.8 L673.1,565.7 L673.2,565.7 L673.3,567.9 L673.4,567.2 L673.5,568.4 L673.6,570.4 L673.7,571.4 L673.8,568.8 L673.9,569.4 L674.0,571.2 L674.1,567.8 L674.2,572.9 L674.3,569.8 L674.4,570.1 L674.5,570.9 L674.6,573.0 L674.7,573.5 L674.8,571.8 L674.9,574.6 L675.0,578.5 L675.1,571.9 L675.2,573.8 L675.2,575.6 L675.3,574.4 L675.4,571.0 L675.5,572.9 L675.6,570.6 L675.7,573.1 L675.8,571.6 L675.9,573.6 L676.0,573.5 L676.1,574.4 L676.2,572.7 L676.3,570.6 L676.4,569.5 L676.5,567.9 L676.6,564.5 L676.7,566.0 L676.8,567.3 L676.9,573.3 L677.0,569.2 L677.1,571.3 L677.2,570.5 L677.3,570.0 L677.4,570.2 L677.5,571.5 L677.6,569.2 L677.7,567.7 L677.7,568.4 L677.8,571.5 L677.9,570.7 L678.0,575.4 L678.1,572.8 L678.2,573.9 L678.3,572.4 L678.4,573.0 L678.5,570.1 L678.6,572.8 L678.7,570.2 L678.8,568.1 L678.9,572.1 L679.0,568.2 L679.1,570.7 L679.2,569.2 L679.3,570.3 L679.4,567.5 L679.5,572.4 L679.6,566.0 L679.7,563.9 L679.8,570.5 L679.9,568.4 L680.0,571.4 L680.1,570.8 L680.2,572.9 L680.2,570.4 L680.3,570.0 L680.4,567.5 L680.5,569.3 L680.6,570.4 L680.7,571.0 L680.8,574.7 L680.9,572.4 L681.0,570.7 L681.1,569.5 L681.2,572.2 L681.3,570.7 L681.4,572.4 L681.5,566.7 L681.6,568.5 L681.7,569.6 L681.8,566.7 L681.9,566.3 L682.0,566.9 L682.1,568.5 L682.2,572.0 L682.3,569.8 L682.4,570.9 L682.5,571.1 L682.6,573.7 L682.7,574.3 L682.7,571.2 L682.8,568.8 L682.9,572.7 L683.0,569.1 L683.1,571.3 L683.2,571.5 L683.3,572.5 L683.4,573.2 L683.5,571.5 L683.6,569.6 L683.7,573.6 L683.8,572.0 L683.9,570.9 L684.0,571.9 L684.1,571.5 L684.2,574.2 L684.3,573.8 L684.4,571.5 L684.5,575.5 L684.6,572.1 L684.7,571.8 L684.8,574.1 L684.9,574.2 L685.0,575.9 L685.1,571.6 L685.2,568.8 L685.2,573.3 L685.3,570.8 L685.4,574.0 L685.5,574.5 L685.6,570.6 L685.7,573.2 L685.8,573.5 L685.9,573.7 L686.0,572.2 L686.1,571.5 L686.2,572.2 L686.3,571.0 L686.4,569.6 L686.5,566.3 L686.6,571.1 L686.7,570.4 L686.8,567.4 L686.9,567.3 L687.0,568.7 L687.1,565.7 L687.2,568.5 L687.3,570.0 L687.4,566.5 L687.5,568.1 L687.6,564.9 L687.7,568.1 L687.8,568.4 L687.8,570.8 L687.9,570.3 L688.0,571.2 L688.1,571.8 L688.2,571.9 L688.3,575.8 L688.4,575.3 L688.5,572.7 L688.6,574.4 L688.7,572.0 L688.8,569.2 L688.9,570.2 L689.0,569.4 L689.1,570.9 L689.2,571.6 L689.3,573.0 L689.4,568.6 L689.5,572.2 L689.6,572.9 L689.7,573.7 L689.8,570.6 L689.9,572.1 L690.0,569.7 L690.1,572.4 L690.2,571.5 L690.3,571.9 L690.3,571.7 L690.4,571.4 L690.5,570.9 L690.6,569.4 L690.7,569.2 L690.8,568.6 L690.9,570.4 L691.0,567.2 L691.1,567.4 L691.2,566.8 L691.3,571.3 L691.4,570.9 L691.5,572.5 L691.6,571.2 L691.7,569.1 L691.8,571.0 L691.9,570.7 L692.0,569.7 L692.1,571.6 L692.2,570.2 L692.3,571.1 L692.4,571.2 L692.5,568.9 L692.6,570.2 L692.7,569.8 L692.8,570.1 L692.8,568.6 L692.9,568.0 L693.0,565.8 L693.1,566.8 L693.2,565.6 L693.3,568.8 L693.4,566.8 L693.5,568.8 L693.6,565.7 L693.7,570.8 L693.8,568.6 L693.9,568.8 L694.0,567.9 L694.1,567.9 L694.2,568.4 L694.3,565.8 L694.4,565.6 L694.5,564.7 L694.6,564.4 L694.7,563.5 L694.8,562.6 L694.9,566.9 L695.0,563.2 L695.1,566.7 L695.2,566.6 L695.3,568.1 L695.3,568.9 L695.4,569.3 L695.5,565.9 L695.6,568.6 L695.7,566.9 L695.8,566.8 L695.9,566.2 L696.0,568.8 L696.1,563.3 L696.2,564.1 L696.3,564.2 L696.4,564.5 L696.5,564.5 L696.6,564.9 L696.7,566.5 L696.8,561.9 L696.9,561.7 L697.0,562.4 L697.1,562.7 L697.2,561.1 L697.3,561.1 L697.4,558.8 L697.5,557.8 L697.6,558.4 L697.7,559.6 L697.8,559.8 L697.8,556.6 L697.9,554.0 L698.0,556.5 L698.1,554.1 L698.2,557.3 L698.3,557.0 L698.4,557.7 L698.5,557.9 L698.6,556.7 L698.7,557.8 L698.8,559.3 L698.9,557.3 L699.0,555.0 L699.1,559.2 L699.2,559.7 L699.3,557.6 L699.4,557.2 L699.5,561.9 L699.6,561.4 L699.7,559.5 L699.8,560.1 L699.9,559.5 L700.0,560.5 L700.1,560.4 L700.2,562.0 L700.3,565.6 L700.3,562.8 L700.4,560.3 L700.5,559.3 L700.6,558.9 L700.7,560.3 L700.8,557.7 L700.9,558.3 L701.0,561.7 L701.1,558.4 L701.2,560.7 L701.3,558.3 L701.4,560.8 L701.5,565.2 L701.6,566.1 L701.7,568.3 L701.8,571.1 L701.9,575.6 L702.0,572.2 L702.1,575.3 L702.2,576.0 L702.3,576.7 L702.4,577.0 L702.5,578.7 L702.6,579.2 L702.7,579.5 L702.8,580.3 L702.8,582.4 L702.9,585.0 L703.0,582.5 L703.1,582.8 L703.2,586.5 L703.3,585.3 L703.4,588.4 L703.5,591.2 L703.6,585.8 L703.7,589.6 L703.8,587.3 L703.9,582.9 L704.0,586.2 L704.1,585.1 L704.2,586.5 L704.3,587.3 L704.4,586.6 L704.5,586.9 L704.6,588.6 L704.7,587.3 L704.8,591.1 L704.9,590.6 L705.0,588.4 L705.1,588.2 L705.2,589.8 L705.3,590.1 L705.3,589.9 L705.4,587.8 L705.5,587.6 L705.6,586.7 L705.7,587.7 L705.8,585.4 L705.9,585.9 L706.0,589.1 L706.1,586.9 L706.2,590.2 L706.3,588.1 L706.4,588.8 L706.5,589.7 L706.6,589.6 L706.7,591.1 L706.8,587.9 L706.9,589.3 L707.0,587.0 L707.1,587.7 L707.2,585.2 L707.3,584.4 L707.4,584.6 L707.5,589.1 L707.6,587.6 L707.7,585.0 L707.8,582.6 L707.8,581.7 L707.9,586.4 L708.0,588.0 L708.1,586.0 L708.2,588.6 L708.3,585.3 L708.4,585.8 L708.5,588.6 L708.6,587.0 L708.7,588.5 L708.8,583.7 L708.9,584.3 L709.0,584.3 L709.1,588.0 L709.2,584.0 L709.3,585.3 L709.4,583.6 L709.5,584.1 L709.6,583.7 L709.7,585.0 L709.8,586.4 L709.9,585.1 L710.0,587.3 L710.1,585.3 L710.2,589.0 L710.3,591.3 L710.3,590.1 L710.4,587.3 L710.5,589.4 L710.6,587.8 L710.7,588.0 L710.8,585.9 L710.9,587.6 L711.0,587.9 L711.1,588.2 L711.2,588.8 L711.3,588.5 L711.4,586.3 L711.5,584.3 L711.6,583.9 L711.7,587.8 L711.8,587.9 L711.9,585.3 L712.0,587.1 L712.1,587.0 L712.2,585.2 L712.3,587.4 L712.4,584.4 L712.5,585.4 L712.6,584.8 L712.7,584.4 L712.8,589.3 L712.8,585.0 L712.9,588.3 L713.0,587.0 L713.1,584.8 L713.2,585.3 L713.3,587.4 L713.4,584.4 L713.5,587.5 L713.6,587.4 L713.7,584.0 L713.8,585.8 L713.9,582.1 L714.0,583.2 L714.1,581.5 L714.2,578.9 L714.3,579.2 L714.4,578.8 L714.5,580.6 L714.6,582.2 L714.7,582.6 L714.8,584.3 L714.9,586.9 L715.0,583.0 L715.1,579.6 L715.2,579.9 L715.3,581.4 L715.3,582.9 L715.4,583.6 L715.5,583.5 L715.6,585.7 L715.7,587.2 L715.8,585.8 L715.9,587.8 L716.0,587.5 L716.1,588.1 L716.2,587.7 L716.3,587.3 L716.4,585.4 L716.5,589.2 L716.6,582.3 L716.7,584.3 L716.8,587.8 L716.9,589.3 L717.0,583.1 L717.1,583.6 L717.2,586.4 L717.3,586.7 L717.4,586.1 L717.5,586.5 L717.6,591.7 L717.7,590.0 L717.8,586.0 L717.9,588.1 L717.9,584.5 L718.0,589.0 L718.1,587.2 L718.2,588.1 L718.3,587.7 L718.4,589.6 L718.5,588.8 L718.6,587.2 L718.7,584.6 L718.8,582.3 L718.9,581.3 L719.0,580.4 L719.1,581.3 L719.2,580.0 L719.3,581.1 L719.4,581.8 L719.5,579.6 L719.6,582.5 L719.7,583.2 L719.8,583.3 L719.9,582.3 L720.0,580.9 L720.1,576.9 L720.2,577.8 L720.3,578.4 L720.4,580.4 L720.4,577.2 L720.5,579.6 L720.6,579.1 L720.7,575.7 L720.8,578.2 L720.9,579.9 L721.0,578.9 L721.1,581.0 L721.2,580.8 L721.3,578.2 L721.4,585.2 L721.5,579.4 L721.6,580.8 L721.7,580.3 L721.8,584.2 L721.9,582.9 L722.0,582.9 L722.1,582.9 L722.2,582.8 L722.3,581.8 L722.4,583.7 L722.5,583.0 L722.6,580.3 L722.7,580.8 L722.8,579.5 L722.9,580.2 L722.9,581.3 L723.0,578.8 L723.1,576.1 L723.2,580.8 L723.3,579.4 L723.4,579.9 L723.5,581.2 L723.6,583.1 L723.7,581.9 L723.8,583.0 L723.9,583.1 L724.0,579.4 L724.1,581.7 L724.2,583.5 L724.3,582.4 L724.4,585.4 L724.5,587.0 L724.6,584.4 L724.7,583.6 L724.8,587.1 L724.9,586.2 L725.0,587.4 L725.1,586.4 L725.2,585.0 L725.3,586.5 L725.4,584.8 L725.4,583.9 L725.5,582.9 L725.6,584.9 L725.7,585.3 L725.8,580.4 L725.9,580.5 L726.0,581.2 L726.1,580.4 L726.2,579.7 L726.3,578.6 L726.4,582.2 L726.5,582.6 L726.6,583.1 L726.7,585.4 L726.8,586.4 L726.9,588.2 L727.0,586.1 L727.1,585.3 L727.2,585.0 L727.3,584.9 L727.4,586.8 L727.5,587.0 L727.6,591.7 L727.7,585.9 L727.8,585.2 L727.9,583.6 L727.9,582.7 L728.0,586.3 L728.1,585.7 L728.2,585.8 L728.3,586.6 L728.4,585.2 L728.5,586.7 L728.6,586.6 L728.7,588.3 L728.8,586.3 L728.9,586.6 L729.0,587.2 L729.1,587.7 L729.2,589.1 L729.3,588.4 L729.4,584.2 L729.5,588.5 L729.6,591.1 L729.7,591.1 L729.8,588.3 L729.9,589.9 L730.0,589.2 L730.1,589.1 L730.2,588.2 L730.3,590.7 L730.4,589.4 L730.4,589.1 L730.5,588.2 L730.6,590.3 L730.7,590.6 L730.8,587.8 L730.9,586.3 L731.0,586.6 L731.1,584.3 L731.2,586.6 L731.3,587.9 L731.4,587.0 L731.5,587.5 L731.6,588.4 L731.7,588.8 L731.8,584.8 L731.9,584.7 L732.0,584.0 L732.1,587.8 L732.2,587.7 L732.3,586.1 L732.4,586.2 L732.5,583.0 L732.6,580.9 L732.7,583.1 L732.8,586.6 L732.9,584.2 L732.9,583.1 L733.0,585.4 L733.1,583.5 L733.2,584.1 L733.3,586.4 L733.4,584.8 L733.5,590.9 L733.6,586.9 L733.7,586.4 L733.8,588.0 L733.9,586.0 L734.0,588.9 L734.1,583.0 L734.2,582.3 L734.3,583.5 L734.4,582.2 L734.5,585.2 L734.6,584.0 L734.7,583.3 L734.8,583.8 L734.9,583.3 L735.0,582.2 L735.1,583.6 L735.2,584.3 L735.3,586.3 L735.4,584.4 L735.4,583.5 L735.5,586.3 L735.6,584.6 L735.7,583.9 L735.8,583.7 L735.9,580.4 L736.0,582.4 L736.1,582.8 L736.2,582.1 L736.3,584.4 L736.4,582.5 L736.5,583.2 L736.6,585.9 L736.7,586.0 L736.8,583.5 L736.9,585.9 L737.0,583.6 L737.1,585.3 L737.2,583.5 L737.3,581.9 L737.4,584.0 L737.5,583.3 L737.6,583.8 L737.7,586.7 L737.8,582.5 L737.9,583.8 L737.9,585.1 L738.0,581.5 L738.1,582.9 L738.2,584.1 L738.3,582.2 L738.4,579.6 L738.5,579.1 L738.6,579.9 L738.7,576.8 L738.8,577.3 L738.9,579.3 L739.0,580.1 L739.1,579.9 L739.2,577.3 L739.3,575.9 L739.4,576.8 L739.5,576.3 L739.6,577.7 L739.7,577.0 L739.8,578.1 L739.9,575.7 L740.0,573.3 L740.1,576.3 L740.2,574.4 L740.3,575.7 L740.4,574.9 L740.4,571.6 L740.5,572.8 L740.6,572.7 L740.7,568.0 L740.8,569.1 L740.9,567.7 L741.0,566.1 L741.1,564.2 L741.2,562.0 L741.3,562.4 L741.4,561.8 L741.5,561.7 L741.6,562.7 L741.7,560.3 L741.8,563.3 L741.9,561.5 L742.0,561.2 L742.1,559.5 L742.2,557.8 L742.3,559.9 L742.4,560.6 L742.5,558.5 L742.6,556.4 L742.7,558.1 L742.8,557.4 L742.9,557.0 L742.9,558.5 L743.0,553.8 L743.1,557.5 L743.2,555.8 L743.3,556.4 L743.4,556.1 L743.5,556.1 L743.6,557.0 L743.7,557.3 L743.8,558.7 L743.9,557.4 L744.0,557.0 L744.1,555.8 L744.2,558.9 L744.3,554.1 L744.4,554.3 L744.5,552.8 L744.6,550.4 L744.7,554.1 L744.8,552.0 L744.9,552.7 L745.0,551.7 L745.1,554.0 L745.2,552.0 L745.3,554.0 L745.4,554.4 L745.4,552.4 L745.5,553.5 L745.6,552.1 L745.7,550.5 L745.8,554.9 L745.9,553.1 L746.0,553.4 L746.1,552.8 L746.2,555.1 L746.3,554.1 L746.4,552.7 L746.5,553.7 L746.6,552.6 L746.7,550.5 L746.8,549.7 L746.9,553.0 L747.0,552.5 L747.1,552.7 L747.2,552.7 L747.3,552.9 L747.4,553.4 L747.5,556.1 L747.6,553.7 L747.7,557.2 L747.8,550.5 L747.9,552.2 L748.0,555.7 L748.0,556.6 L748.1,556.4 L748.2,556.2 L748.3,553.4 L748.4,554.4 L748.5,554.5 L748.6,550.8 L748.7,551.1 L748.8,552.5 L748.9,551.4 L749.0,553.6 L749.1,553.1 L749.2,552.1 L749.3,553.2 L749.4,555.3 L749.5,554.3 L749.6,556.8 L749.7,556.3 L749.8,555.0 L749.9,557.2 L750.0,556.1 L750.1,556.3 L750.2,554.3 L750.3,552.7 L750.4,549.3 L750.5,552.3 L750.5,553.3 L750.6,548.9 L750.7,550.3 L750.8,552.8 L750.9,550.2 L751.0,551.2 L751.1,551.1 L751.2,550.3 L751.3,554.2 L751.4,551.7 L751.5,552.1 L751.6,553.6 L751.7,553.9 L751.8,554.0 L751.9,554.7 L752.0,556.3 L752.1,557.2 L752.2,553.3 L752.3,554.0 L752.4,554.1 L752.5,557.0 L752.6,555.1 L752.7,553.1 L752.8,555.2 L752.9,553.5 L753.0,552.4 L753.0,551.3 L753.1,553.6 L753.2,555.9 L753.3,553.0 L753.4,553.8 L753.5,553.7 L753.6,554.1 L753.7,555.5 L753.8,553.5 L753.9,554.2 L754.0,554.0 L754.1,553.8 L754.2,555.7 L754.3,555.0 L754.4,554.8 L754.5,554.7 L754.6,553.7 L754.7,557.6 L754.8,553.9 L754.9,556.2 L755.0,556.2 L755.1,553.7 L755.2,556.3 L755.3,556.9 L755.4,558.8 L755.5,558.5 L755.5,558.6 L755.6,558.0 L755.7,558.4 L755.8,557.5 L755.9,559.6 L756.0,558.5 L756.1,557.3 L756.2,559.3 L756.3,557.9 L756.4,557.3 L756.5,558.3 L756.6,557.1 L756.7,556.2 L756.8,555.9 L756.9,557.5 L757.0,555.2 L757.1,558.2 L757.2,557.3 L757.3,559.9 L757.4,558.7 L757.5,557.7 L757.6,557.0 L757.7,558.2 L757.8,560.7 L757.9,558.9 L758.0,559.6 L758.0,558.5 L758.1,558.5 L758.2,556.6 L758.3,557.9 L758.4,554.8 L758.5,550.3 L758.6,552.0 L758.7,555.2 L758.8,557.5 L758.9,554.9 L759.0,555.3 L759.1,550.6 L759.2,552.1 L759.3,552.1 L759.4,551.4 L759.5,552.8 L759.6,554.9 L759.7,550.8 L759.8,549.4 L759.9,550.2 L760.0,554.0 L760.1,551.4 L760.2,552.7 L760.3,551.6 L760.4,549.9 L760.5,551.7 L760.5,548.6 L760.6,547.9 L760.7,549.3 L760.8,548.2 L760.9,547.1 L761.0,547.9 L761.1,548.4 L761.2,549.1 L761.3,550.3 L761.4,547.7 L761.5,546.1 L761.6,546.4 L761.7,548.3 L761.8,547.5 L761.9,547.3 L762.0,548.8 L762.1,549.0 L762.2,546.2 L762.3,550.5 L762.4,548.3 L762.5,547.8 L762.6,546.2 L762.7,547.4 L762.8,545.5 L762.9,546.1 L763.0,543.0 L763.0,546.9 L763.1,545.7 L763.2,545.0 L763.3,547.5 L763.4,549.1 L763.5,546.2 L763.6,543.2 L763.7,542.0 L763.8,544.8 L763.9,545.5 L764.0,544.3 L764.1,546.3 L764.2,543.1 L764.3,543.2 L764.4,542.8 L764.5,543.4 L764.6,545.6 L764.7,547.3 L764.8,546.4 L764.9,542.0 L765.0,543.9 L765.1,545.4 L765.2,544.4 L765.3,545.8 L765.4,547.3 L765.5,544.3 L765.5,543.3 L765.6,546.3 L765.7,544.6 L765.8,543.8 L765.9,544.3 L766.0,544.8 L766.1,544.9 L766.2,546.0 L766.3,547.9 L766.4,548.6 L766.5,547.1 L766.6,545.9 L766.7,548.7 L766.8,548.0 L766.9,547.5 L767.0,546.2 L767.1,550.2 L767.2,544.8 L767.3,546.9 L767.4,545.1 L767.5,545.0 L767.6,547.2 L767.7,550.0 L767.8,550.7 L767.9,547.7 L768.0,550.2 L768.0,549.4 L768.1,550.1 L768.2,552.6 L768.3,552.1 L768.4,549.6 L768.5,550.3 L768.6,549.9 L768.7,549.6 L768.8,551.2 L768.9,553.7 L769.0,553.4 L769.1,555.7 L769.2,554.6 L769.3,552.3 L769.4,552.8 L769.5,549.6 L769.6,551.7 L769.7,550.1 L769.8,554.8 L769.9,556.6 L770.0,557.8 L770.1,558.0 L770.2,558.9 L770.3,560.2 L770.4,559.6 L770.5,558.0 L770.5,559.5 L770.6,558.0 L770.7,558.0 L770.8,555.8 L770.9,558.4 L771.0,558.2 L771.1,557.7 L771.2,559.0 L771.3,558.9 L771.4,559.6 L771.5,557.8 L771.6,556.7 L771.7,560.3 L771.8,558.9 L771.9,561.1 L772.0,561.1 L772.1,563.3 L772.2,566.0 L772.3,563.9 L772.4,567.4 L772.5,564.0 L772.6,565.6 L772.7,563.5 L772.8,561.9 L772.9,566.4 L773.0,565.1 L773.0,565.1 L773.1,565.4 L773.2,568.5 L773.3,566.0 L773.4,564.0 L773.5,564.6 L773.6,564.0 L773.7,562.8 L773.8,560.6 L773.9,559.0 L774.0,557.4 L774.1,560.1 L774.2,556.8 L774.3,556.0 L774.4,551.6 L774.5,550.5 L774.6,550.5 L774.7,553.8 L774.8,554.2 L774.9,552.3 L775.0,549.7 L775.1,548.0 L775.2,547.0 L775.3,546.6 L775.4,548.3 L775.5,545.5 L775.6,549.3 L775.6,544.6 L775.7,541.7 L775.8,544.2 L775.9,546.8 L776.0,548.6 L776.1,546.4 L776.2,545.9 L776.3,545.0 L776.4,543.7 L776.5,544.7 L776.6,546.1 L776.7,542.4 L776.8,543.8 L776.9,541.6 L777.0,544.3 L777.1,543.6 L777.2,542.1 L777.3,543.2 L777.4,541.3 L777.5,541.3 L777.6,544.0 L777.7,539.3 L777.8,541.9 L777.9,538.3 L778.0,539.0 L778.1,536.0 L778.1,533.1 L778.2,532.7 L778.3,532.8 L778.4,533.4 L778.5,532.8 L778.6,532.1 L778.7,529.5 L778.8,532.3 L778.9,531.1 L779.0,532.5 L779.1,529.0 L779.2,531.5 L779.3,529.4 L779.4,529.4 L779.5,531.2 L779.6,531.8 L779.7,530.5 L779.8,532.4 L779.9,531.2 L780.0,531.3 L780.1,526.4 L780.2,530.0 L780.3,531.4 L780.4,527.6 L780.5,530.5 L780.6,529.3 L780.6,530.6 L780.7,528.8 L780.8,530.9 L780.9,530.8 L781.0,529.1 L781.1,530.8 L781.2,530.8 L781.3,528.2 L781.4,532.0 L781.5,530.1 L781.6,528.6 L781.7,529.4 L781.8,526.5 L781.9,527.9 L782.0,528.1 L782.1,527.4 L782.2,527.4 L782.3,530.4 L782.4,532.0 L782.5,531.3 L782.6,530.2 L782.7,529.8 L782.8,531.5 L782.9,529.7 L783.0,528.8 L783.1,533.1 L783.1,528.8 L783.2,529.5 L783.3,530.9 L783.4,537.3 L783.5,534.3 L783.6,531.9 L783.7,531.3 L783.8,532.3 L783.9,536.0 L784.0,532.2 L784.1,530.2 L784.2,529.5 L784.3,531.2 L784.4,530.1 L784.5,529.2 L784.6,529.2 L784.7,527.4 L784.8,531.1 L784.9,530.3 L785.0,528.8 L785.1,530.4 L785.2,531.8 L785.3,529.6 L785.4,528.2 L785.5,530.3 L785.6,528.1 L785.6,529.0 L785.7,531.8 L785.8,527.0 L785.9,527.9 L786.0,529.1 L786.1,528.9 L786.2,528.9 L786.3,525.9 L786.4,526.1 L786.5,525.6 L786.6,522.4 L786.7,524.3 L786.8,524.9 L786.9,527.7 L787.0,526.8 L787.1,524.1 L787.2,524.2 L787.3,527.7 L787.4,528.3 L787.5,528.4 L787.6,529.6 L787.7,530.4 L787.8,527.2 L787.9,526.2 L788.0,529.5 L788.1,529.1 L788.1,527.5 L788.2,527.3 L788.3,530.9 L788.4,525.6 L788.5,529.2 L788.6,526.6 L788.7,527.1 L788.8,528.1 L788.9,530.1 L789.0,529.9 L789.1,528.4 L789.2,527.0 L789.3,528.9 L789.4,528.8 L789.5,527.5 L789.6,528.0 L789.7,524.6 L789.8,526.7 L789.9,527.9 L790.0,527.8 L790.1,528.8 L790.2,527.3 L790.3,527.6 L790.4,523.8 L790.5,522.2 L790.6,526.5 L790.6,522.1 L790.7,523.5 L790.8,522.6 L790.9,523.0 L791.0,521.6 L791.1,520.1 L791.2,525.2 L791.3,525.4 L791.4,523.0 L791.5,524.1 L791.6,521.5 L791.7,523.9 L791.8,524.2 L791.9,525.0 L792.0,520.3 L792.1,521.6 L792.2,522.3 L792.3,526.0 L792.4,525.1 L792.5,527.5 L792.6,524.0 L792.7,525.0 L792.8,520.7 L792.9,521.7 L793.0,522.6 L793.1,524.4 L793.1,526.0 L793.2,525.3 L793.3,523.1 L793.4,520.1 L793.5,523.0 L793.6,521.6 L793.7,523.3 L793.8,522.1 L793.9,522.6 L794.0,522.3 L794.1,522.8 L794.2,523.4 L794.3,525.4 L794.4,523.3 L794.5,523.8 L794.6,525.4 L794.7,524.1 L794.8,524.1 L794.9,525.8 L795.0,527.0 L795.1,525.6 L795.2,528.6 L795.3,526.4 L795.4,526.5 L795.5,524.0 L795.6,526.1 L795.6,526.0 L795.7,524.2 L795.8,527.7 L795.9,527.6 L796.0,527.1 L796.1,527.3 L796.2,524.9 L796.3,531.6 L796.4,530.0 L796.5,529.8 L796.6,531.6 L796.7,532.1 L796.8,530.2 L796.9,530.8 L797.0,531.7 L797.1,528.6 L797.2,527.1 L797.3,529.8 L797.4,529.8 L797.5,527.5 L797.6,528.4 L797.7,532.2 L797.8,529.8 L797.9,530.4 L798.0,530.8 L798.1,527.9 L798.1,529.6 L798.2,530.1 L798.3,528.4 L798.4,528.0 L798.5,528.2 L798.6,530.6 L798.7,528.3 L798.8,528.9 L798.9,526.7 L799.0,529.0 L799.1,528.6 L799.2,526.5 L799.3,529.5 L799.4,527.0 L799.5,529.6 L799.6,523.6 L799.7,528.0 L799.8,525.4 L799.9,528.0 L800.0,527.2 L800.1,528.4 L800.2,525.8 L800.3,524.9 L800.4,521.7 L800.5,525.1 L800.6,524.9 L800.6,527.8 L800.7,526.7 L800.8,529.9 L800.9,527.8 L801.0,530.4 L801.1,529.3 L801.2,528.6 L801.3,530.5 L801.4,530.8 L801.5,526.6 L801.6,526.1 L801.7,527.3 L801.8,526.5 L801.9,525.4 L802.0,524.0 L802.1,523.4 L802.2,524.7 L802.3,526.0 L802.4,525.4 L802.5,526.1 L802.6,526.3 L802.7,531.6 L802.8,528.1 L802.9,529.3 L803.0,530.9 L803.1,530.6 L803.1,526.5 L803.2,528.0 L803.3,526.9 L803.4,530.1 L803.5,529.1 L803.6,529.8 L803.7,527.1 L803.8,529.0 L803.9,531.2 L804.0,530.3 L804.1,533.4 L804.2,533.4 L804.3,533.4 L804.4,531.6 L804.5,533.0 L804.6,535.1 L804.7,533.5 L804.8,534.4 L804.9,532.4 L805.0,533.9 L805.1,533.8 L805.2,534.0 L805.3,536.4 L805.4,536.0 L805.5,534.0 L805.6,534.4 L805.7,532.9 L805.7,533.1 L805.8,535.5 L805.9,534.1 L806.0,535.3 L806.1,536.9 L806.2,535.3 L806.3,533.2 L806.4,534.9 L806.5,534.3 L806.6,534.1 L806.7,533.3 L806.8,533.1 L806.9,533.6 L807.0,533.4 L807.1,537.1 L807.2,537.7 L807.3,536.9 L807.4,534.1 L807.5,532.3 L807.6,531.2 L807.7,538.1 L807.8,534.4 L807.9,538.3 L808.0,536.2 L808.1,537.3 L808.2,534.0 L808.2,531.4 L808.3,533.1 L808.4,534.2 L808.5,536.7 L808.6,534.3 L808.7,536.4 L808.8,539.1 L808.9,534.8 L809.0,533.3 L809.1,532.6 L809.2,535.1 L809.3,532.4 L809.4,533.1 L809.5,537.0 L809.6,536.5 L809.7,536.3 L809.8,533.2 L809.9,534.6 L810.0,537.8 L810.1,533.2 L810.2,534.1 L810.3,533.5 L810.4,534.3 L810.5,534.6 L810.6,537.1 L810.7,533.6 L810.7,532.6 L810.8,532.7 L810.9,532.6 L811.0,535.8 L811.1,538.3 L811.2,540.2 L811.3,537.7 L811.4,540.4 L811.5,535.1 L811.6,534.3 L811.7,535.2 L811.8,534.0 L811.9,535.5 L812.0,534.0 L812.1,533.5 L812.2,533.0 L812.3,533.4 L812.4,532.8 L812.5,534.0 L812.6,532.3 L812.7,531.6 L812.8,532.7 L812.9,532.0 L813.0,533.7 L813.1,534.4 L813.2,534.3 L813.2,534.4 L813.3,533.2 L813.4,534.4 L813.5,533.7 L813.6,533.0 L813.7,533.5 L813.8,534.4 L813.9,534.4 L814.0,534.7 L814.1,536.9 L814.2,532.4 L814.3,534.0 L814.4,535.1 L814.5,536.3 L814.6,536.0 L814.7,535.0 L814.8,533.2 L814.9,536.6 L815.0,539.2 L815.1,536.9 L815.2,539.7 L815.3,538.5 L815.4,541.7 L815.5,541.0 L815.6,541.3 L815.7,542.1 L815.7,539.7 L815.8,542.2 L815.9,540.9 L816.0,538.4 L816.1,539.0 L816.2,541.2 L816.3,540.5 L816.4,539.8 L816.5,541.0 L816.6,537.5 L816.7,537.8 L816.8,538.9 L816.9,541.4 L817.0,540.7 L817.1,543.2 L817.2,538.8 L817.3,538.9 L817.4,538.6 L817.5,540.1 L817.6,542.0 L817.7,539.7 L817.8,539.5 L817.9,539.1 L818.0,538.8 L818.1,539.1 L818.2,539.6 L818.2,537.6 L818.3,537.7 L818.4,537.5 L818.5,537.4 L818.6,538.2 L818.7,536.7 L818.8,539.8 L818.9,538.4 L819.0,540.1 L819.1,539.5 L819.2,543.3 L819.3,540.5 L819.4,539.3 L819.5,541.6 L819.6,541.6 L819.7,537.7 L819.8,537.3 L819.9,537.1 L820.0,539.3 L820.1,539.3 L820.2,535.9 L820.3,536.4 L820.4,535.9 L820.5,532.9 L820.6,536.3 L820.7,533.7 L820.7,536.4 L820.8,536.0 L820.9,537.3 L821.0,536.3 L821.1,536.2 L821.2,539.3 L821.3,536.2 L821.4,538.5 L821.5,537.3 L821.6,539.6 L821.7,538.1 L821.8,537.9 L821.9,537.7 L822.0,537.8 L822.1,535.2 L822.2,538.1 L822.3,535.5 L822.4,534.0 L822.5,537.7 L822.6,538.0 L822.7,538.3 L822.8,542.7 L822.9,543.0 L823.0,542.5 L823.1,538.8 L823.2,543.9 L823.2,542.9 L823.3,541.1 L823.4,541.6 L823.5,542.2 L823.6,543.4 L823.7,541.9 L823.8,541.4 L823.9,539.7 L824.0,541.0 L824.1,541.3 L824.2,537.2 L824.3,541.2 L824.4,538.5 L824.5,540.3 L824.6,540.8 L824.7,540.4 L824.8,542.2 L824.9,539.6 L825.0,540.6 L825.1,539.5 L825.2,540.9 L825.3,539.1 L825.4,540.8 L825.5,537.7 L825.6,537.9 L825.7,538.2 L825.7,539.2 L825.8,539.0 L825.9,536.9 L826.0,539.4 L826.1,541.3 L826.2,540.8 L826.3,540.5 L826.4,542.6 L826.5,543.8 L826.6,541.7 L826.7,543.3 L826.8,543.9 L826.9,543.9 L827.0,543.9 L827.1,541.0 L827.2,542.7 L827.3,541.8 L827.4,544.0 L827.5,543.5 L827.6,546.5 L827.7,547.0 L827.8,547.1 L827.9,545.2 L828.0,542.4 L828.1,546.6 L828.2,545.6 L828.2,543.5 L828.3,543.2 L828.4,544.0 L828.5,545.0 L828.6,546.0 L828.7,544.6 L828.8,547.4 L828.9,547.6 L829.0,546.2 L829.1,544.5 L829.2,546.9 L829.3,544.4 L829.4,545.8 L829.5,545.0 L829.6,541.0 L829.7,542.2 L829.8,543.6 L829.9,540.6 L830.0,540.5 L830.1,544.3 L830.2,542.0 L830.3,539.5 L830.4,540.0 L830.5,537.7 L830.6,537.2 L830.7,537.2 L830.7,535.3 L830.8,533.9 L830.9,532.6 L831.0,531.9 L831.1,533.2 L831.2,533.4 L831.3,533.6 L831.4,534.0 L831.5,534.6 L831.6,534.6 L831.7,532.9 L831.8,530.4 L831.9,527.6 L832.0,529.1 L832.1,531.9 L832.2,529.6 L832.3,531.6 L832.4,529.8 L832.5,529.8 L832.6,533.3 L832.7,532.2 L832.8,527.9 L832.9,529.5 L833.0,525.7 L833.1,524.7 L833.2,524.0 L833.3,523.7 L833.3,524.9 L833.4,522.0 L833.5,522.1 L833.6,522.3 L833.7,522.5 L833.8,524.1 L833.9,522.5 L834.0,524.9 L834.1,521.0 L834.2,519.6 L834.3,520.5 L834.4,519.7 L834.5,518.9 L834.6,520.2 L834.7,521.5 L834.8,521.3 L834.9,519.3 L835.0,519.6 L835.1,519.1 L835.2,520.3 L835.3,520.8 L835.4,517.8 L835.5,519.3 L835.6,519.9 L835.7,518.0 L835.8,520.9 L835.8,518.7 L835.9,523.0 L836.0,520.3 L836.1,521.1 L836.2,521.0 L836.3,519.0 L836.4,521.0 L836.5,520.1 L836.6,519.9 L836.7,520.1 L836.8,519.2 L836.9,521.7 L837.0,520.2 L837.1,521.6 L837.2,521.9 L837.3,521.4 L837.4,519.2 L837.5,521.0 L837.6,520.0 L837.7,522.8 L837.8,519.3 L837.9,518.9 L838.0,520.6 L838.1,522.2 L838.2,520.7 L838.3,522.1 L838.3,521.9 L838.4,522.7 L838.5,522.0 L838.6,525.2 L838.7,523.3 L838.8,524.4 L838.9,522.5 L839.0,523.5 L839.1,521.9 L839.2,523.8 L839.3,525.5 L839.4,524.5 L839.5,525.5 L839.6,523.4 L839.7,525.1 L839.8,524.2 L839.9,524.9 L840.0,527.6 L840.1,525.4 L840.2,522.6 L840.3,524.0 L840.4,523.4 L840.5,522.1 L840.6,522.9 L840.7,526.0 L840.8,526.1 L840.8,527.0 L840.9,527.2 L841.0,526.6 L841.1,523.3 L841.2,525.3 L841.3,521.9 L841.4,521.7 L841.5,519.6 L841.6,523.6 L841.7,522.3 L841.8,521.3 L841.9,520.2 L842.0,519.3 L842.1,523.5 L842.2,522.9 L842.3,523.6 L842.4,524.0 L842.5,525.1 L842.6,526.0 L842.7,525.0 L842.8,524.1 L842.9,521.9 L843.0,522.8 L843.1,520.1 L843.2,519.3 L843.3,525.1 L843.3,519.6 L843.4,523.9 L843.5,517.2 L843.6,518.9 L843.7,521.8 L843.8,517.8 L843.9,521.9 L844.0,523.1 L844.1,522.6 L844.2,520.9 L844.3,524.7 L844.4,524.0 L844.5,525.7 L844.6,521.6 L844.7,518.7 L844.8,516.7 L844.9,518.5 L845.0,517.2 L845.1,516.4 L845.2,520.0 L845.3,520.6 L845.4,521.0 L845.5,520.3 L845.6,520.7 L845.7,520.1 L845.8,522.2 L845.8,519.9 L845.9,524.3 L846.0,523.4 L846.1,522.7 L846.2,519.6 L846.3,520.2 L846.4,520.6 L846.5,523.3 L846.6,522.2 L846.7,523.0 L846.8,525.2 L846.9,526.0 L847.0,524.6 L847.1,524.5 L847.2,521.4 L847.3,524.6 L847.4,521.8 L847.5,526.5 L847.6,525.5 L847.7,522.9 L847.8,523.4 L847.9,524.8 L848.0,523.2 L848.1,525.2 L848.2,522.9 L848.3,524.0 L848.3,523.7 L848.4,524.5 L848.5,524.7 L848.6,525.6 L848.7,526.7 L848.8,524.1 L848.9,524.9 L849.0,528.1 L849.1,525.2 L849.2,524.8 L849.3,527.2 L849.4,527.9 L849.5,524.8 L849.6,527.6 L849.7,528.4 L849.8,530.1 L849.9,527.5 L850.0,527.2 L850.1,527.6 L850.2,525.0 L850.3,526.8 L850.4,526.7 L850.5,526.9 L850.6,528.7 L850.7,526.3 L850.8,524.9 L850.8,527.0 L850.9,526.5 L851.0,526.9 L851.1,526.4 L851.2,524.8 L851.3,525.2 L851.4,528.2 L851.5,525.1 L851.6,528.4 L851.7,527.2 L851.8,527.5 L851.9,526.0 L852.0,530.4 L852.1,528.2 L852.2,526.5 L852.3,528.2 L852.4,528.4 L852.5,527.7 L852.6,528.1 L852.7,526.8 L852.8,529.6 L852.9,525.8 L853.0,526.8 L853.1,527.2 L853.2,530.6 L853.3,530.6 L853.3,533.9 L853.4,531.1 L853.5,532.3 L853.6,530.2 L853.7,528.9 L853.8,534.0 L853.9,530.3 L854.0,530.2 L854.1,531.3 L854.2,530.5 L854.3,530.6 L854.4,531.7 L854.5,530.6 L854.6,530.8 L854.7,528.5 L854.8,528.7 L854.9,527.4 L855.0,531.3 L855.1,534.0 L855.2,532.0 L855.3,531.9 L855.4,531.0 L855.5,532.6 L855.6,533.0 L855.7,534.5 L855.8,533.9 L855.8,530.8 L855.9,528.7 L856.0,529.6 L856.1,530.4 L856.2,532.0 L856.3,536.4 L856.4,533.3 L856.5,536.6 L856.6,534.6 L856.7,535.0 L856.8,533.2 L856.9,531.3 L857.0,533.5 L857.1,529.3 L857.2,531.8 L857.3,531.4 L857.4,531.9 L857.5,530.8 L857.6,532.5 L857.7,528.7 L857.8,531.6 L857.9,527.7 L858.0,529.6 L858.1,529.3 L858.2,527.6 L858.3,526.2 L858.3,530.1 L858.4,528.7 L858.5,531.0 L858.6,529.9 L858.7,527.6 L858.8,527.2 L858.9,527.6 L859.0,526.9 L859.1,526.3 L859.2,527.4 L859.3,528.6 L859.4,528.8 L859.5,527.8 L859.6,526.6 L859.7,529.3 L859.8,528.0 L859.9,527.1 L860.0,525.6 L860.1,526.2 L860.2,524.8 L860.3,525.5 L860.4,529.9 L860.5,532.3 L860.6,527.1 L860.7,526.5 L860.8,525.3 L860.9,526.6 L860.9,528.9 L861.0,529.0 L861.1,532.6 L861.2,527.8 L861.3,529.3 L861.4,531.1 L861.5,530.2 L861.6,528.1 L861.7,530.5 L861.8,530.0 L861.9,529.7 L862.0,528.3 L862.1,526.3 L862.2,528.5 L862.3,528.9 L862.4,526.7 L862.5,529.3 L862.6,529.2 L862.7,529.1 L862.8,528.8 L862.9,525.7 L863.0,525.8 L863.1,528.4 L863.2,528.0 L863.3,525.1 L863.4,523.6 L863.4,523.7 L863.5,525.6 L863.6,526.8 L863.7,525.7 L863.8,525.7 L863.9,526.7 L864.0,527.9 L864.1,528.4 L864.2,530.2 L864.3,530.5 L864.4,531.4 L864.5,533.4 L864.6,530.0 L864.7,534.0 L864.8,537.6 L864.9,537.1 L865.0,537.5 L865.1,534.8 L865.2,538.1 L865.3,539.9 L865.4,538.8 L865.5,536.7 L865.6,537.0 L865.7,536.4 L865.8,536.1 L865.9,534.8 L865.9,537.2 L866.0,537.2 L866.1,537.0 L866.2,537.5 L866.3,538.2 L866.4,537.8 L866.5,537.9 L866.6,537.4 L866.7,537.3 L866.8,537.3 L866.9,537.1 L867.0,537.3 L867.1,538.3 L867.2,536.5 L867.3,536.1 L867.4,538.9 L867.5,538.9 L867.6,537.5 L867.7,536.0 L867.8,537.5 L867.9,534.3 L868.0,536.2 L868.1,535.9 L868.2,535.5 L868.3,538.6 L868.4,539.3 L868.4,538.1 L868.5,536.7 L868.6,534.8 L868.7,533.7 L868.8,533.7 L868.9,534.6 L869.0,535.3 L869.1,535.0 L869.2,534.8 L869.3,537.7 L869.4,535.5 L869.5,532.7 L869.6,536.6 L869.7,537.4 L869.8,534.5 L869.9,533.6 L870.0,535.4 L870.1,533.9 L870.2,536.4 L870.3,535.0 L870.4,538.3 L870.5,535.5 L870.6,537.3 L870.7,535.5 L870.8,536.8 L870.9,533.9 L870.9,534.4 L871.0,535.5 L871.1,534.9 L871.2,536.0 L871.3,534.5 L871.4,535.5 L871.5,534.4 L871.6,534.2 L871.7,534.7 L871.8,534.9 L871.9,535.3 L872.0,532.5 L872.1,536.6 L872.2,532.0 L872.3,533.1 L872.4,534.4 L872.5,534.6 L872.6,534.1 L872.7,532.7 L872.8,534.3 L872.9,534.5 L873.0,537.6 L873.1,536.7 L873.2,534.3 L873.3,533.4 L873.4,533.0 L873.4,535.2 L873.5,534.0 L873.6,532.3 L873.7,531.4 L873.8,533.1 L873.9,533.3 L874.0,536.1 L874.1,534.6 L874.2,535.1 L874.3,536.1 L874.4,537.5 L874.5,537.1 L874.6,534.2 L874.7,533.8 L874.8,532.9 L874.9,535.4 L875.0,533.7 L875.1,533.0 L875.2,534.8 L875.3,535.3 L875.4,533.8 L875.5,532.8 L875.6,534.9 L875.7,534.2 L875.8,533.7 L875.9,537.4 L875.9,534.6 L876.0,541.5 L876.1,540.1 L876.2,540.3 L876.3,538.9 L876.4,538.6 L876.5,540.6 L876.6,542.1 L876.7,542.2 L876.8,541.3 L876.9,539.5 L877.0,543.1 L877.1,539.3 L877.2,538.4 L877.3,538.3 L877.4,541.5 L877.5,540.3 L877.6,539.2 L877.7,540.0 L877.8,542.5 L877.9,541.9 L878.0,542.0 L878.1,540.0 L878.2,539.7 L878.3,541.9 L878.4,543.7 L878.4,543.1 L878.5,543.9 L878.6,543.3 L878.7,544.1 L878.8,543.7 L878.9,541.7 L879.0,543.5 L879.1,543.9 L879.2,542.0 L879.3,545.3 L879.4,544.0 L879.5,542.8 L879.6,542.4 L879.7,545.2 L879.8,542.0 L879.9,542.8 L880.0,542.7 L880.1,541.0 L880.2,537.8 L880.3,541.8 L880.4,539.7 L880.5,539.3 L880.6,540.7 L880.7,540.8 L880.8,539.8 L880.9,539.7 L880.9,538.8 L881.0,541.4 L881.1,541.1 L881.2,544.2 L881.3,541.1 L881.4,541.6 L881.5,540.8 L881.6,543.3 L881.7,542.3 L881.8,540.1 L881.9,540.2 L882.0,541.8 L882.1,541.9 L882.2,540.5 L882.3,541.9 L882.4,541.0 L882.5,540.1 L882.6,541.6 L882.7,542.3 L882.8,543.9 L882.9,539.2 L883.0,540.4 L883.1,545.7 L883.2,542.7 L883.3,541.5 L883.4,540.7 L883.4,540.6 L883.5,541.8 L883.6,543.4 L883.7,539.1 L883.8,538.8 L883.9,539.5 L884.0,539.1 L884.1,538.6 L884.2,540.1 L884.3,538.6 L884.4,537.7 L884.5,537.6 L884.6,535.1 L884.7,541.1 L884.8,538.0 L884.9,538.9 L885.0,536.5 L885.1,538.8 L885.2,537.6 L885.3,538.3 L885.4,537.7 L885.5,538.9 L885.6,540.7 L885.7,539.4 L885.8,537.1 L885.9,536.3 L885.9,539.5 L886.0,539.6 L886.1,538.3 L886.2,542.5 L886.3,540.0 L886.4,541.5 L886.5,541.9 L886.6,539.8 L886.7,540.2 L886.8,539.3 L886.9,541.0 L887.0,541.2 L887.1,541.3 L887.2,539.3 L887.3,539.9 L887.4,540.5 L887.5,539.9 L887.6,539.4 L887.7,538.5 L887.8,541.0 L887.9,539.7 L888.0,538.9 L888.1,539.3 L888.2,539.5 L888.3,535.5 L888.4,538.4 L888.4,535.9 L888.5,534.7 L888.6,537.6 L888.7,536.3 L888.8,535.2 L888.9,537.6 L889.0,534.9 L889.1,535.9 L889.2,536.3 L889.3,533.6 L889.4,534.6 L889.5,538.5 L889.6,537.4 L889.7,536.4 L889.8,536.9 L889.9,536.7 L890.0,534.8 L890.1,535.3 L890.2,534.3 L890.3,536.0 L890.4,536.3 L890.5,536.2 L890.6,536.2 L890.7,538.1 L890.8,536.0 L890.9,533.6 L891.0,533.3 L891.0,535.4 L891.1,536.2 L891.2,534.8 L891.3,535.0 L891.4,532.6 L891.5,533.3 L891.6,536.0 L891.7,532.8 L891.8,533.6 L891.9,532.5 L892.0,533.2 L892.1,533.1 L892.2,534.3 L892.3,535.1 L892.4,536.4 L892.5,532.8 L892.6,535.9 L892.7,534.4 L892.8,535.0 L892.9,537.6 L893.0,537.3 L893.1,537.4 L893.2,536.4 L893.3,536.2 L893.4,537.0 L893.5,538.2 L893.5,537.0 L893.6,536.2 L893.7,537.4 L893.8,537.6 L893.9,538.6 L894.0,538.5 L894.1,536.1 L894.2,537.0 L894.3,538.4 L894.4,538.8 L894.5,535.9 L894.6,537.7 L894.7,537.5 L894.8,536.0 L894.9,534.6 L895.0,533.3 L895.1,533.1 L895.2,532.6 L895.3,533.4 L895.4,533.6 L895.5,532.9 L895.6,532.1 L895.7,531.1 L895.8,529.8 L895.9,530.4 L896.0,530.5 L896.0,529.4 L896.1,532.8 L896.2,530.6 L896.3,533.8 L896.4,530.5 L896.5,531.7 L896.6,535.7 L896.7,533.0 L896.8,535.9 L896.9,534.8 L897.0,534.4 L897.1,532.0 L897.2,529.6 L897.3,535.4 L897.4,531.3 L897.5,535.6 L897.6,535.1 L897.7,530.9 L897.8,532.5 L897.9,528.5 L898.0,532.0 L898.1,531.0 L898.2,532.2 L898.3,533.2 L898.4,531.3 L898.5,532.2 L898.5,532.6 L898.6,533.7 L898.7,530.9 L898.8,529.3 L898.9,530.4 L899.0,530.5 L899.1,531.1 L899.2,534.7 L899.3,531.9 L899.4,532.8 L899.5,530.4 L899.6,531.3 L899.7,532.7 L899.8,534.0 L899.9,529.4 L900.0,529.6 L900.1,528.9 L900.2,531.7 L900.3,529.1 L900.4,533.4 L900.5,530.2 L900.6,532.0 L900.7,532.3 L900.8,528.3 L900.9,527.3 L901.0,529.7 L901.0,528.8 L901.1,529.0 L901.2,529.5 L901.3,526.0 L901.4,525.6 L901.5,525.0 L901.6,525.1 L901.7,525.7 L901.8,526.1 L901.9,527.8 L902.0,526.2 L902.1,523.8 L902.2,519.7 L902.3,524.0 L902.4,521.0 L902.5,521.1 L902.6,522.7 L902.7,520.5 L902.8,522.5 L902.9,523.1 L903.0,522.6 L903.1,520.6 L903.2,516.2 L903.3,518.5 L903.4,516.0 L903.5,516.4 L903.5,515.7 L903.6,514.2 L903.7,514.7 L903.8,516.0 L903.9,515.5 L904.0,516.9 L904.1,515.1 L904.2,516.4 L904.3,513.1 L904.4,513.9 L904.5,515.2 L904.6,512.5 L904.7,512.8 L904.8,511.9 L904.9,514.4 L905.0,513.3 L905.1,513.9 L905.2,511.5 L905.3,515.1 L905.4,514.3 L905.5,515.0 L905.6,514.6 L905.7,515.5 L905.8,514.8 L905.9,516.7 L906.0,515.5 L906.0,516.3 L906.1,518.3 L906.2,517.4 L906.3,516.8 L906.4,518.1 L906.5,517.5 L906.6,516.8 L906.7,516.3 L906.8,514.9 L906.9,515.4 L907.0,515.4 L907.1,513.8 L907.2,513.5 L907.3,511.3 L907.4,512.2 L907.5,512.5 L907.6,510.7 L907.7,515.1 L907.8,513.5 L907.9,514.4 L908.0,513.5 L908.1,513.9 L908.2,514.6 L908.3,514.9 L908.4,510.5 L908.5,511.6 L908.5,508.3 L908.6,512.5 L908.7,510.9 L908.8,508.7 L908.9,509.0 L909.0,509.6 L909.1,507.7 L909.2,506.1 L909.3,506.9 L909.4,507.9 L909.5,509.7 L909.6,511.6 L909.7,509.9 L909.8,508.4 L909.9,509.5 L910.0,511.2 L910.1,511.9 L910.2,511.3 L910.3,511.0 L910.4,511.1 L910.5,512.3 L910.6,513.1 L910.7,512.3 L910.8,510.3 L910.9,512.5 L911.0,511.6 L911.0,509.9 L911.1,510.7 L911.2,511.3 L911.3,509.5 L911.4,511.0 L911.5,508.1 L911.6,506.3 L911.7,506.3 L911.8,505.8 L911.9,503.5 L912.0,506.9 L912.1,505.6 L912.2,507.9 L912.3,506.5 L912.4,506.8 L912.5,508.1 L912.6,507.7 L912.7,506.8 L912.8,507.4 L912.9,504.0 L913.0,501.7 L913.1,505.8 L913.2,504.2 L913.3,504.6 L913.4,503.7 L913.5,504.3 L913.5,502.6 L913.6,502.8 L913.7,502.7 L913.8,504.5 L913.9,504.3 L914.0,502.2 L914.1,503.0 L914.2,501.8 L914.3,503.3 L914.4,504.4 L914.5,503.6 L914.6,503.7 L914.7,507.5 L914.8,505.2 L914.9,504.4 L915.0,504.0 L915.1,506.6 L915.2,505.0 L915.3,504.9 L915.4,504.3 L915.5,502.5 L915.6,503.4 L915.7,501.8 L915.8,502.1 L915.9,501.0 L916.0,500.9 L916.0,502.6 L916.1,500.5 L916.2,500.8 L916.3,500.0 L916.4,503.2 L916.5,501.5 L916.6,500.7 L916.7,502.6 L916.8,499.6 L916.9,500.6 L917.0,502.7 L917.1,503.6 L917.2,501.5 L917.3,502.1 L917.4,504.1 L917.5,500.0 L917.6,500.3 L917.7,503.2 L917.8,502.1 L917.9,505.3 L918.0,505.4 L918.1,504.6 L918.2,505.9 L918.3,506.0 L918.4,505.4 L918.5,506.3 L918.6,504.6 L918.6,506.3 L918.7,506.8 L918.8,505.0 L918.9,505.0 L919.0,505.8 L919.1,504.6 L919.2,505.5 L919.3,503.7 L919.4,504.7 L919.5,505.8 L919.6,505.2 L919.7,506.1 L919.8,505.6 L919.9,505.3 L920.0,504.2 L920.1,504.8 L920.2,502.4 L920.3,502.6 L920.4,499.4 L920.5,498.6 L920.6,496.0 L920.7,499.5 L920.8,497.4 L920.9,498.7 L921.0,498.2 L921.1,497.7 L921.1,498.0 L921.2,496.9 L921.3,499.3 L921.4,498.4 L921.5,497.8 L921.6,499.7 L921.7,496.8 L921.8,501.1 L921.9,502.3 L922.0,499.3 L922.1,497.3 L922.2,498.8 L922.3,500.1 L922.4,498.3 L922.5,501.4 L922.6,499.3 L922.7,499.4 L922.8,499.5 L922.9,497.4 L923.0,497.6 L923.1,498.7 L923.2,498.6 L923.3,500.0 L923.4,503.0 L923.5,504.0 L923.6,504.6 L923.6,505.6 L923.7,503.3 L923.8,506.9 L923.9,504.9 L924.0,504.0 L924.1,504.3 L924.2,501.8 L924.3,501.2 L924.4,503.0 L924.5,501.2 L924.6,499.3 L924.7,500.6 L924.8,499.0 L924.9,499.8 L925.0,499.1 L925.1,499.9 L925.2,503.0 L925.3,500.0 L925.4,498.9 L925.5,500.6 L925.6,499.9 L925.7,500.5 L925.8,501.9 L925.9,498.0 L926.0,499.8 L926.1,500.0 L926.1,501.3 L926.2,500.9 L926.3,499.9 L926.4,500.4 L926.5,500.6 L926.6,500.2 L926.7,499.3 L926.8,498.2 L926.9,493.5 L927.0,493.7 L927.1,493.0 L927.2,491.7 L927.3,493.8 L927.4,496.5 L927.5,491.2 L927.6,490.4 L927.7,493.0 L927.8,491.6 L927.9,491.7 L928.0,490.8 L928.1,491.1 L928.2,487.2 L928.3,485.8 L928.4,486.4 L928.5,489.2 L928.6,486.9 L928.6,486.1 L928.7,486.9 L928.8,485.9 L928.9,485.0 L929.0,486.4 L929.1,487.4 L929.2,487.9 L929.3,483.4 L929.4,485.2 L929.5,488.0 L929.6,490.0 L929.7,490.1 L929.8,489.7 L929.9,490.7 L930.0,492.1 L930.1,490.3 L930.2,489.9 L930.3,489.5 L930.4,487.2 L930.5,489.1 L930.6,492.5 L930.7,491.9 L930.8,491.2 L930.9,489.4 L931.0,489.7 L931.1,488.7 L931.1,489.3 L931.2,493.7 L931.3,491.2 L931.4,492.1 L931.5,490.1 L931.6,491.4 L931.7,488.9 L931.8,490.4 L931.9,489.3 L932.0,492.0 L932.1,492.4 L932.2,491.4 L932.3,490.8 L932.4,492.2 L932.5,491.9 L932.6,493.5 L932.7,493.3 L932.8,494.7 L932.9,492.8 L933.0,493.1 L933.1,493.9 L933.2,493.0 L933.3,490.2 L933.4,495.3 L933.5,493.4 L933.6,494.4 L933.6,492.6 L933.7,493.4 L933.8,492.7 L933.9,494.0 L934.0,491.6 L934.1,490.3 L934.2,489.6 L934.3,494.3 L934.4,494.5 L934.5,493.0 L934.6,491.0 L934.7,492.6 L934.8,491.1 L934.9,495.2 L935.0,493.7 L935.1,495.2 L935.2,493.3 L935.3,494.8 L935.4,492.7 L935.5,491.9 L935.6,494.7 L935.7,494.6 L935.8,497.2 L935.9,496.6 L936.0,497.0 L936.1,494.6 L936.1,497.6 L936.2,498.7 L936.3,497.9 L936.4,496.1 L936.5,496.1 L936.6,495.2 L936.7,496.4 L936.8,498.0 L936.9,496.1 L937.0,494.7 L937.1,493.4 L937.2,494.1 L937.3,492.1 L937.4,492.3 L937.5,492.7 L937.6,493.5 L937.7,492.4 L937.8,491.6 L937.9,491.3 L938.0,491.7 L938.1,492.4 L938.2,488.9 L938.3,492.1 L938.4,490.7 L938.5,490.2 L938.6,491.4 L938.6,493.9 L938.7,492.6 L938.8,493.5 L938.9,495.5 L939.0,496.2 L939.1,495.2 L939.2,495.5 L939.3,496.7 L939.4,495.2 L939.5,494.4 L939.6,491.4 L939.7,495.8 L939.8,496.9 L939.9,496.5 L940.0,492.7 L940.1,494.9 L940.2,493.1 L940.3,494.9 L940.4,492.1 L940.5,489.3 L940.6,490.7 L940.7,490.2 L940.8,492.6 L940.9,490.9 L941.0,495.7 L941.1,496.1 L941.1,494.0 L941.2,494.3 L941.3,492.1 L941.4,493.0 L941.5,491.3 L941.6,491.3 L941.7,491.6 L941.8,493.1 L941.9,491.3 L942.0,492.0 L942.1,493.1 L942.2,492.6 L942.3,492.0 L942.4,495.2 L942.5,492.7 L942.6,490.9 L942.7,491.6 L942.8,488.4 L942.9,489.5 L943.0,490.1 L943.1,490.1 L943.2,490.9 L943.3,491.3 L943.4,488.5 L943.5,488.8 L943.6,490.2 L943.6,490.6 L943.7,489.4 L943.8,488.8 L943.9,488.2 L944.0,490.8 L944.1,489.0 L944.2,490.0 L944.3,490.1 L944.4,489.8 L944.5,490.0 L944.6,486.4 L944.7,487.8 L944.8,485.1 L944.9,487.0 L945.0,486.9 L945.1,485.8 L945.2,482.6 L945.3,484.8 L945.4,485.9 L945.5,490.0 L945.6,485.7 L945.7,482.9 L945.8,482.8 L945.9,487.0 L946.0,483.8 L946.1,486.4 L946.1,484.6 L946.2,484.0 L946.3,485.4 L946.4,485.7 L946.5,485.2 L946.6,481.9 L946.7,485.1 L946.8,485.4 L946.9,486.4 L947.0,484.8 L947.1,487.2 L947.2,488.6 L947.3,485.3 L947.4,485.0 L947.5,485.3 L947.6,486.0 L947.7,486.8 L947.8,488.2 L947.9,486.0 L948.0,481.9 L948.1,482.2 L948.2,481.7 L948.3,481.4 L948.4,483.7 L948.5,481.2 L948.6,480.1 L948.7,480.1 L948.7,478.1 L948.8,478.1 L948.9,478.6 L949.0,477.8 L949.1,476.8 L949.2,477.9 L949.3,475.9 L949.4,474.4 L949.5,476.8 L949.6,478.9 L949.7,481.4 L949.8,481.0 L949.9,482.3 L950.0,483.3 L950.1,479.8 L950.2,478.3 L950.3,480.0 L950.4,477.4 L950.5,477.1 L950.6,476.5 L950.7,478.2 L950.8,477.6 L950.9,478.9 L951.0,479.4 L951.1,478.9 L951.2,479.7 L951.2,480.7 L951.3,483.6 L951.4,482.9 L951.5,484.2 L951.6,487.7 L951.7,486.7 L951.8,483.3 L951.9,486.3 L952.0,485.8 L952.1,488.1 L952.2,487.9 L952.3,485.7 L952.4,484.9 L952.5,485.4 L952.6,487.3 L952.7,486.3 L952.8,484.8 L952.9,488.4 L953.0,485.0 L953.1,484.1 L953.2,485.6 L953.3,491.1 L953.4,485.5 L953.5,488.3 L953.6,488.0 L953.7,488.4 L953.7,490.5 L953.8,492.2 L953.9,489.0 L954.0,486.3 L954.1,490.8 L954.2,489.1 L954.3,489.1 L954.4,490.7 L954.5,490.2 L954.6,494.3 L954.7,492.7 L954.8,497.6 L954.9,493.1 L955.0,494.8 L955.1,492.7 L955.2,494.6 L955.3,493.3 L955.4,493.5 L955.5,492.3 L955.6,492.3 L955.7,493.9 L955.8,493.1 L955.9,493.6 L956.0,495.0 L956.1,496.0 L956.2,491.6 L956.2,493.9 L956.3,496.3 L956.4,496.1 L956.5,499.6 L956.6,496.5 L956.7,498.2 L956.8,494.7 L956.9,496.1 L957.0,495.3 L957.1,496.2 L957.2,496.4 L957.3,496.4 L957.4,497.3 L957.5,499.4 L957.6,499.5 L957.7,498.7 L957.8,501.0 L957.9,499.6 L958.0,496.8 L958.1,499.5 L958.2,497.4 L958.3,494.3 L958.4,496.5 L958.5,495.8 L958.6,498.8 L958.7,494.7 L958.7,493.6 L958.8,490.5 L958.9,490.0 L959.0,489.2 L959.1,488.3 L959.2,488.9 L959.3,493.0 L959.4,491.9 L959.5,489.6 L959.6,489.0 L959.7,487.1 L959.8,489.0 L959.9,492.6 L960.0,495.5 L960.1,495.0 L960.2,495.5 L960.3,496.5 L960.4,492.6 L960.5,491.3 L960.6,493.7 L960.7,494.7 L960.8,492.9 L960.9,492.8 L961.0,493.4 L961.1,492.6 L961.2,491.8 L961.2,492.7 L961.3,491.6 L961.4,493.1 L961.5,491.8 L961.6,489.1 L961.7,489.4 L961.8,490.4 L961.9,489.1 L962.0,485.5 L962.1,485.0 L962.2,488.3 L962.3,487.8 L962.4,489.4 L962.5,483.9 L962.6,484.7 L962.7,484.3 L962.8,484.6 L962.9,485.8 L963.0,486.7 L963.1,485.4 L963.2,484.1 L963.3,482.5 L963.4,485.1 L963.5,484.7 L963.6,486.7 L963.7,487.1 L963.7,485.6 L963.8,485.6 L963.9,485.9 L964.0,487.9 L964.1,484.3 L964.2,487.4 L964.3,487.3 L964.4,489.6 L964.5,488.2 L964.6,487.3 L964.7,484.3 L964.8,485.3 L964.9,486.4 L965.0,486.2 L965.1,485.9 L965.2,486.5 L965.3,486.8 L965.4,484.1 L965.5,483.7 L965.6,483.7 L965.7,481.1 L965.8,481.1 L965.9,483.4 L966.0,480.0 L966.1,480.6 L966.2,481.7 L966.2,480.8 L966.3,482.3 L966.4,482.2 L966.5,482.9 L966.6,479.6 L966.7,480.6 L966.8,479.8 L966.9,483.9 L967.0,482.2 L967.1,482.4 L967.2,480.2 L967.3,480.1 L967.4,483.8 L967.5,481.5 L967.6,481.3 L967.7,478.0 L967.8,476.1 L967.9,475.8 L968.0,475.7 L968.1,478.3 L968.2,481.6 L968.3,476.5 L968.4,477.2 L968.5,476.3 L968.6,479.7 L968.7,478.0 L968.7,478.2 L968.8,478.7 L968.9,477.4 L969.0,476.1 L969.1,477.3 L969.2,475.1 L969.3,476.1 L969.4,475.1 L969.5,475.9 L969.6,478.4 L969.7,473.0 L969.8,474.9 L969.9,471.5 L970.0,473.9 L970.1,471.8 L970.2,471.5 L970.3,470.7 L970.4,469.1 L970.5,470.4 L970.6,468.5 L970.7,470.9 L970.8,471.7 L970.9,471.8 L971.0,471.7 L971.1,471.6 L971.2,471.8 L971.2,468.5 L971.3,471.7 L971.4,470.9 L971.5,470.4 L971.6,473.1 L971.7,468.2 L971.8,465.7 L971.9,465.6 L972.0,466.0 L972.1,470.0 L972.2,467.9 L972.3,468.5 L972.4,469.9 L972.5,468.9 L972.6,466.4 L972.7,466.0 L972.8,465.6 L972.9,463.5 L973.0,466.9 L973.1,463.1 L973.2,464.5 L973.3,464.6 L973.4,463.7 L973.5,462.8 L973.6,465.8 L973.7,461.1 L973.7,461.8 L973.8,463.2 L973.9,463.4 L974.0,463.6 L974.1,463.4 L974.2,463.5 L974.3,463.3 L974.4,463.1 L974.5,465.0 L974.6,463.3 L974.7,463.7 L974.8,464.5 L974.9,466.5 L975.0,464.4 L975.1,464.5 L975.2,463.6 L975.3,464.0 L975.4,465.2 L975.5,463.6 L975.6,462.3 L975.7,462.2 L975.8,463.1 L975.9,464.3 L976.0,462.4 L976.1,464.1 L976.2,464.9 L976.2,464.4 L976.3,463.8 L976.4,464.8 L976.5,462.6 L976.6,464.0 L976.7,462.9 L976.8,463.1 L976.9,462.9 L977.0,460.9 L977.1,459.9 L977.2,458.8 L977.3,455.9 L977.4,454.8 L977.5,454.8 L977.6,453.8 L977.7,454.0 L977.8,453.1 L977.9,451.2 L978.0,448.9 L978.1,449.6 L978.2,449.4 L978.3,449.4 L978.4,448.7 L978.5,445.7 L978.6,448.3 L978.7,443.8 L978.8,447.7 L978.8,448.3 L978.9,448.2 L979.0,449.7 L979.1,449.4 L979.2,448.6 L979.3,449.6 L979.4,448.8 L979.5,449.3 L979.6,447.8 L979.7,447.2 L979.8,446.4 L979.9,447.9 L980.0,447.2 L980.1,446.6 L980.2,450.0 L980.3,445.8 L980.4,447.9 L980.5,449.9 L980.6,445.4 L980.7,444.5 L980.8,443.7 L980.9,441.4 L981.0,444.1 L981.1,443.4 L981.2,443.8 L981.3,443.9 L981.3,444.6 L981.4,451.3 L981.5,445.4 L981.6,444.1 L981.7,443.4 L981.8,444.4 L981.9,441.7 L982.0,440.4 L982.1,442.0 L982.2,440.8 L982.3,441.9 L982.4,439.1 L982.5,440.3 L982.6,438.3 L982.7,438.5 L982.8,441.4 L982.9,441.4 L983.0,441.3 L983.1,441.7 L983.2,437.8 L983.3,441.9 L983.4,441.0 L983.5,438.3 L983.6,439.2 L983.7,441.1 L983.8,440.1 L983.8,441.7 L983.9,443.7 L984.0,440.7 L984.1,439.8 L984.2,440.6 L984.3,440.3 L984.4,436.5 L984.5,438.2 L984.6,435.2 L984.7,437.8 L984.8,436.1 L984.9,433.6 L985.0,432.6 L985.1,434.6 L985.2,434.3 L985.3,435.8 L985.4,438.3 L985.5,438.1 L985.6,433.0 L985.7,434.5 L985.8,435.3 L985.9,437.2 L986.0,433.3 L986.1,434.8 L986.2,434.1 L986.3,433.9 L986.3,434.2 L986.4,433.8 L986.5,432.7 L986.6,431.1 L986.7,433.7 L986.8,436.0 L986.9,433.6 L987.0,434.9 L987.1,434.8 L987.2,435.4 L987.3,435.5 L987.4,439.9 L987.5,435.9 L987.6,436.4 L987.7,438.5 L987.8,442.5 L987.9,441.2 L988.0,439.7 L988.1,441.1 L988.2,441.1 L988.3,439.9 L988.4,442.3 L988.5,440.7 L988.6,443.8 L988.7,444.3 L988.8,445.9 L988.8,445.6 L988.9,449.1 L989.0,451.3 L989.1,451.5 L989.2,452.2 L989.3,451.1 L989.4,449.8 L989.5,452.1 L989.6,446.5 L989.7,446.1 L989.8,449.4 L989.9,448.1 L990.0,448.8 L990.1,449.6 L990.2,448.5 L990.3,449.7 L990.4,450.6 L990.5,451.1 L990.6,448.8 L990.7,449.9 L990.8,448.4 L990.9,444.6 L991.0,447.4 L991.1,445.4 L991.2,447.6 L991.3,448.4 L991.3,446.9 L991.4,447.0 L991.5,445.0 L991.6,447.3 L991.7,445.1 L991.8,444.9 L991.9,444.5 L992.0,443.2 L992.1,442.8 L992.2,441.3 L992.3,440.8 L992.4,442.3 L992.5,441.2 L992.6,442.2 L992.7,444.8 L992.8,442.4 L992.9,440.8 L993.0,442.9 L993.1,438.8 L993.2,438.5 L993.3,439.0 L993.4,435.2 L993.5,436.5 L993.6,439.2 L993.7,437.1 L993.8,437.6 L993.8,437.5 L993.9,436.3 L994.0,434.8 L994.1,437.5 L994.2,436.8 L994.3,436.6 L994.4,435.6 L994.5,437.2 L994.6,437.6 L994.7,435.5 L994.8,440.7 L994.9,439.9 L995.0,444.7 L995.1,443.5 L995.2,442.2 L995.3,441.9 L995.4,442.9 L995.5,442.5 L995.6,444.3 L995.7,444.4 L995.8,443.2 L995.9,442.4 L996.0,443.3 L996.1,439.8 L996.2,441.7 L996.3,441.1 L996.3,441.1 L996.4,440.0 L996.5,442.3 L996.6,441.3 L996.7,439.3 L996.8,437.6 L996.9,438.8 L997.0,437.4 L997.1,436.2 L997.2,438.2 L997.3,438.4 L997.4,439.1 L997.5,439.1 L997.6,436.2 L997.7,439.6 L997.8,434.9 L997.9,434.6 L998.0,435.6 L998.1,435.1 L998.2,435.4 L998.3,434.4 L998.4,434.4 L998.5,432.6 L998.6,435.7 L998.7,434.0 L998.8,431.9 L998.8,432.0 L998.9,434.2 L999.0,436.6 L999.1,438.4 L999.2,437.0 L999.3,436.1 L999.4,438.1 L999.5,435.7 L999.6,433.7 L999.7,436.6 L999.8,435.6 L999.9,436.9 L1000.0,437.3 L1000.1,435.5 L1000.2,435.0 L1000.3,438.0 L1000.4,438.6 L1000.5,435.8 L1000.6,435.7 L1000.7,436.2 L1000.8,435.1 L1000.9,433.3 L1001.0,435.6 L1001.1,436.7 L1001.2,439.0 L1001.3,436.6 L1001.3,440.6 L1001.4,440.5 L1001.5,439.7 L1001.6,437.8 L1001.7,439.0 L1001.8,438.7 L1001.9,442.3 L1002.0,442.0 L1002.1,441.4 L1002.2,440.4 L1002.3,439.5 L1002.4,444.6 L1002.5,442.5 L1002.6,443.3 L1002.7,442.9 L1002.8,443.1 L1002.9,444.9 L1003.0,443.4 L1003.1,441.6 L1003.2,446.3 L1003.3,446.3 L1003.4,446.4 L1003.5,445.8 L1003.6,446.5 L1003.7,448.5 L1003.8,442.8 L1003.8,447.1 L1003.9,447.7 L1004.0,448.9 L1004.1,448.0 L1004.2,447.4 L1004.3,446.6 L1004.4,449.8 L1004.5,447.1 L1004.6,448.5 L1004.7,445.8 L1004.8,448.7 L1004.9,448.2 L1005.0,448.1 L1005.1,448.0 L1005.2,446.4 L1005.3,446.4 L1005.4,445.5 L1005.5,445.4 L1005.6,446.1 L1005.7,447.9 L1005.8,449.1 L1005.9,446.8 L1006.0,448.3 L1006.1,447.9 L1006.2,449.1 L1006.3,449.6 L1006.4,450.8 L1006.4,446.3 L1006.5,447.3 L1006.6,448.6 L1006.7,449.4 L1006.8,448.3 L1006.9,446.1 L1007.0,446.0 L1007.1,444.9 L1007.2,446.2 L1007.3,443.4 L1007.4,442.1 L1007.5,442.3 L1007.6,444.6 L1007.7,441.8 L1007.8,441.0 L1007.9,444.9 L1008.0,447.4 L1008.1,446.4 L1008.2,445.5 L1008.3,444.1 L1008.4,444.3 L1008.5,444.3 L1008.6,445.8 L1008.7,446.1 L1008.8,443.2 L1008.9,443.4 L1008.9,444.3 L1009.0,442.6 L1009.1,444.0 L1009.2,445.0 L1009.3,444.3 L1009.4,443.6 L1009.5,445.4 L1009.6,444.2 L1009.7,444.9 L1009.8,449.1 L1009.9,448.1 L1010.0,447.4 L1010.1,449.0 L1010.2,450.8 L1010.3,453.0 L1010.4,451.3 L1010.5,452.1 L1010.6,450.5 L1010.7,452.0 L1010.8,449.5 L1010.9,448.8 L1011.0,448.8 L1011.1,450.0 L1011.2,449.6 L1011.3,451.5 L1011.4,452.1 L1011.4,451.1 L1011.5,452.4 L1011.6,450.7 L1011.7,448.9 L1011.8,452.1 L1011.9,450.5 L1012.0,449.6 L1012.1,450.5 L1012.2,453.2 L1012.3,451.3 L1012.4,450.6 L1012.5,454.0 L1012.6,451.4 L1012.7,452.5 L1012.8,453.0 L1012.9,454.6 L1013.0,453.4 L1013.1,451.6 L1013.2,449.7 L1013.3,449.7 L1013.4,453.8 L1013.5,450.4 L1013.6,450.8 L1013.7,451.7 L1013.8,450.7 L1013.9,452.6 L1013.9,452.6 L1014.0,454.6 L1014.1,453.4 L1014.2,455.4 L1014.3,456.8 L1014.4,455.9 L1014.5,458.8 L1014.6,458.4 L1014.7,454.6 L1014.8,454.3 L1014.9,455.2 L1015.0,451.3 L1015.1,451.2 L1015.2,452.2 L1015.3,449.3 L1015.4,450.1 L1015.5,453.5 L1015.6,449.0 L1015.7,452.5 L1015.8,449.7 L1015.9,449.1 L1016.0,450.5 L1016.1,449.3 L1016.2,450.6 L1016.3,450.1 L1016.4,450.7 L1016.4,451.3 L1016.5,451.7 L1016.6,449.6 L1016.7,449.6 L1016.8,450.4 L1016.9,447.1 L1017.0,448.4 L1017.1,448.8 L1017.2,447.1 L1017.3,447.2 L1017.4,445.8 L1017.5,449.5 L1017.6,448.7 L1017.7,446.2 L1017.8,446.8 L1017.9,447.3 L1018.0,445.7 L1018.1,447.7 L1018.2,449.8 L1018.3,449.1 L1018.4,447.4 L1018.5,449.1 L1018.6,446.1 L1018.7,448.4 L1018.8,445.7 L1018.9,445.9 L1018.9,446.2 L1019.0,448.1 L1019.1,447.8 L1019.2,446.8 L1019.3,450.6 L1019.4,449.1 L1019.5,450.8 L1019.6,449.1 L1019.7,448.3 L1019.8,447.0 L1019.9,447.2 L1020.0,448.6 L1020.1,446.8 L1020.2,449.1 L1020.3,450.2 L1020.4,447.0 L1020.5,446.6 L1020.6,444.8 L1020.7,446.0 L1020.8,449.2 L1020.9,447.8 L1021.0,447.2 L1021.1,449.8 L1021.2,448.7 L1021.3,448.7 L1021.4,445.6 L1021.4,446.7 L1021.5,443.5 L1021.6,445.3 L1021.7,445.9 L1021.8,443.4 L1021.9,444.2 L1022.0,444.2 L1022.1,446.2 L1022.2,445.1 L1022.3,444.3 L1022.4,443.9 L1022.5,442.8 L1022.6,442.4 L1022.7,443.3 L1022.8,436.7 L1022.9,439.8 L1023.0,436.5 L1023.1,438.4 L1023.2,441.9 L1023.3,440.9 L1023.4,436.4 L1023.5,435.9 L1023.6,439.2 L1023.7,438.0 L1023.8,437.6 L1023.9,436.9 L1023.9,437.8 L1024.0,434.5 L1024.1,435.7 L1024.2,437.7 L1024.3,438.6 L1024.4,436.4 L1024.5,437.8 L1024.6,435.2 L1024.7,438.2 L1024.8,436.9 L1024.9,437.4 L1025.0,437.9 L1025.1,435.5 L1025.2,437.8 L1025.3,435.7 L1025.4,441.6 L1025.5,436.8 L1025.6,436.2 L1025.7,437.6 L1025.8,436.6 L1025.9,437.0 L1026.0,436.8 L1026.1,433.7 L1026.2,433.9 L1026.3,437.8 L1026.4,436.1 L1026.4,440.7 L1026.5,436.8 L1026.6,436.1 L1026.7,438.5 L1026.8,440.5 L1026.9,437.9 L1027.0,440.6 L1027.1,438.3 L1027.2,438.7 L1027.3,440.3 L1027.4,440.1 L1027.5,438.8 L1027.6,441.2 L1027.7,437.9 L1027.8,438.5 L1027.9,440.2 L1028.0,435.0 L1028.1,436.7 L1028.2,436.0 L1028.3,437.2 L1028.4,437.6 L1028.5,436.8 L1028.6,437.9 L1028.7,438.8 L1028.8,440.1 L1028.9,438.8 L1028.9,438.4 L1029.0,436.2 L1029.1,436.0 L1029.2,435.8 L1029.3,432.8 L1029.4,435.2 L1029.5,436.7 L1029.6,434.6 L1029.7,435.7 L1029.8,434.3 L1029.9,434.2 L1030.0,433.8 L1030.1,432.8 L1030.2,433.1 L1030.3,434.9 L1030.4,435.0 L1030.5,437.5 L1030.6,440.4 L1030.7,441.2 L1030.8,436.2 L1030.9,437.5 L1031.0,438.5 L1031.1,438.1 L1031.2,438.0 L1031.3,434.6 L1031.4,434.9 L1031.4,436.1 L1031.5,434.8 L1031.6,435.0 L1031.7,436.0 L1031.8,434.3 L1031.9,436.7 L1032.0,436.4 L1032.1,434.8 L1032.2,434.8 L1032.3,434.8 L1032.4,432.2 L1032.5,436.4 L1032.6,432.7 L1032.7,434.6 L1032.8,433.8 L1032.9,434.5 L1033.0,436.1 L1033.1,435.2 L1033.2,434.8 L1033.3,435.1 L1033.4,436.3 L1033.5,435.0 L1033.6,435.3 L1033.7,436.7 L1033.8,437.5 L1033.9,438.0 L1033.9,440.8 L1034.0,440.3 L1034.1,438.9 L1034.2,439.0 L1034.3,437.0 L1034.4,437.4 L1034.5,437.4 L1034.6,438.3 L1034.7,435.0 L1034.8,439.2 L1034.9,440.1 L1035.0,439.2 L1035.1,441.6 L1035.2,440.8 L1035.3,440.0 L1035.4,440.6 L1035.5,439.2 L1035.6,439.8 L1035.7,438.6 L1035.8,438.0 L1035.9,439.6 L1036.0,438.9 L1036.1,440.2 L1036.2,439.1 L1036.3,440.3 L1036.4,440.5 L1036.5,438.4 L1036.5,438.9 L1036.6,441.5 L1036.7,442.2 L1036.8,439.7 L1036.9,442.5 L1037.0,441.7 L1037.1,439.7 L1037.2,440.4 L1037.3,441.7 L1037.4,439.1 L1037.5,442.5 L1037.6,438.5 L1037.7,442.3 L1037.8,441.0 L1037.9,441.5 L1038.0,442.5 L1038.1,440.4 L1038.2,440.7 L1038.3,436.9 L1038.4,440.8 L1038.5,439.8 L1038.6,441.1 L1038.7,439.7 L1038.8,440.9 L1038.9,439.9 L1039.0,440.7 L1039.0,442.9 L1039.1,443.0 L1039.2,442.3 L1039.3,442.7 L1039.4,443.6 L1039.5,442.8 L1039.6,444.0 L1039.7,443.5 L1039.8,444.1 L1039.9,444.6 L1040.0,442.1 L1040.1,441.3 L1040.2,440.7 L1040.3,440.5 L1040.4,440.6 L1040.5,442.5 L1040.6,442.8 L1040.7,442.0 L1040.8,441.5 L1040.9,440.2 L1041.0,441.0 L1041.1,441.6 L1041.2,440.0 L1041.3,441.5 L1041.4,443.1 L1041.5,442.6 L1041.5,440.8 L1041.6,443.2 L1041.7,441.2 L1041.8,440.3 L1041.9,440.8 L1042.0,441.6 L1042.1,443.2 L1042.2,444.0 L1042.3,443.7 L1042.4,443.6 L1042.5,444.0 L1042.6,444.0 L1042.7,442.4 L1042.8,442.9 L1042.9,445.0 L1043.0,444.0 L1043.1,444.6 L1043.2,447.0 L1043.3,444.7 L1043.4,446.8 L1043.5,446.3 L1043.6,445.7 L1043.7,447.9 L1043.8,447.3 L1043.9,448.5 L1044.0,445.9 L1044.0,446.6 L1044.1,447.7 L1044.2,447.7 L1044.3,447.4 L1044.4,446.3 L1044.5,447.8 L1044.6,448.6 L1044.7,450.4 L1044.8,451.4 L1044.9,451.1 L1045.0,453.2 L1045.1,453.2 L1045.2,456.1 L1045.3,455.6 L1045.4,452.2 L1045.5,453.8 L1045.6,453.2 L1045.7,454.7 L1045.8,452.7 L1045.9,451.6 L1046.0,451.4 L1046.1,449.5 L1046.2,453.5 L1046.3,452.6 L1046.4,454.5 L1046.5,454.8 L1046.5,454.3 L1046.6,452.8 L1046.7,454.4 L1046.8,455.4 L1046.9,456.1 L1047.0,454.8 L1047.1,452.6 L1047.2,450.5 L1047.3,453.2 L1047.4,452.2 L1047.5,454.0 L1047.6,449.5 L1047.7,451.2 L1047.8,449.9 L1047.9,452.2 L1048.0,454.5 L1048.1,450.1 L1048.2,450.7 L1048.3,450.5 L1048.4,453.7 L1048.5,457.1 L1048.6,457.0 L1048.7,457.3 L1048.8,454.7 L1048.9,457.6 L1049.0,455.2 L1049.0,450.9 L1049.1,453.4 L1049.2,454.2 L1049.3,453.0 L1049.4,456.1 L1049.5,455.6 L1049.6,456.8 L1049.7,455.0 L1049.8,457.5 L1049.9,454.8 L1050.0,456.2 L1050.1,454.5 L1050.2,453.9 L1050.3,456.0 L1050.4,456.6 L1050.5,456.1 L1050.6,458.0 L1050.7,461.2 L1050.8,460.1 L1050.9,460.2 L1051.0,457.5 L1051.1,459.8 L1051.2,456.5 L1051.3,458.4 L1051.4,456.3 L1051.5,457.8 L1051.5,457.5 L1051.6,459.9 L1051.7,458.3 L1051.8,459.4 L1051.9,459.3 L1052.0,459.1 L1052.1,458.6 L1052.2,458.1 L1052.3,458.1 L1052.4,456.9 L1052.5,456.0 L1052.6,457.5 L1052.7,458.3 L1052.8,456.5 L1052.9,454.6 L1053.0,454.3 L1053.1,455.0 L1053.2,456.3 L1053.3,456.6 L1053.4,455.2 L1053.5,453.8 L1053.6,455.4 L1053.7,453.2 L1053.8,451.2 L1053.9,451.3 L1054.0,448.6 L1054.0,447.2 L1054.1,452.6 L1054.2,449.4 L1054.3,449.8 L1054.4,446.8 L1054.5,451.9 L1054.6,452.7 L1054.7,447.7 L1054.8,449.4 L1054.9,448.2 L1055.0,447.4 L1055.1,448.1 L1055.2,446.7 L1055.3,446.2 L1055.4,448.8 L1055.5,448.7 L1055.6,449.8 L1055.7,449.4 L1055.8,447.4 L1055.9,446.9 L1056.0,450.1 L1056.1,452.2 L1056.2,451.2 L1056.3,449.8 L1056.4,450.8 L1056.5,451.2 L1056.5,450.2 L1056.6,445.8 L1056.7,445.9 L1056.8,448.4 L1056.9,443.8 L1057.0,441.2 L1057.1,446.1 L1057.2,443.4 L1057.3,446.4 L1057.4,448.0 L1057.5,446.1 L1057.6,443.4 L1057.7,446.8 L1057.8,448.7 L1057.9,447.2 L1058.0,445.3 L1058.1,442.4 L1058.2,446.8 L1058.3,446.4 L1058.4,447.6 L1058.5,445.2 L1058.6,445.3 L1058.7,447.1 L1058.8,444.8 L1058.9,446.0 L1059.0,443.6 L1059.0,444.6 L1059.1,447.2 L1059.2,442.0 L1059.3,445.2 L1059.4,442.8 L1059.5,443.2 L1059.6,441.2 L1059.7,442.0 L1059.8,441.1 L1059.9,441.8 L1060.0,441.9 L1060.1,441.7 L1060.2,442.9 L1060.3,444.0 L1060.4,443.4 L1060.5,444.3 L1060.6,443.9 L1060.7,443.8 L1060.8,445.7 L1060.9,440.5 L1061.0,439.2 L1061.1,438.2 L1061.2,437.8 L1061.3,440.7 L1061.4,442.7 L1061.5,437.8 L1061.5,439.1 L1061.6,440.2 L1061.7,439.8 L1061.8,439.3 L1061.9,438.1 L1062.0,439.7 L1062.1,438.8 L1062.2,439.4 L1062.3,439.5 L1062.4,440.5 L1062.5,440.0 L1062.6,444.1 L1062.7,439.3 L1062.8,438.8 L1062.9,439.2 L1063.0,442.7 L1063.1,444.0 L1063.2,440.7 L1063.3,443.5 L1063.4,440.7 L1063.5,441.2 L1063.6,440.5 L1063.7,441.2 L1063.8,439.9 L1063.9,438.7 L1064.0,439.1 L1064.1,436.0 L1064.1,440.2 L1064.2,439.8 L1064.3,441.2 L1064.4,441.4 L1064.5,443.5 L1064.6,443.5 L1064.7,444.2 L1064.8,445.5 L1064.9,439.6 L1065.0,441.9 L1065.1,440.8 L1065.2,442.2 L1065.3,439.6 L1065.4,441.4 L1065.5,440.8 L1065.6,442.8 L1065.7,442.5 L1065.8,443.5 L1065.9,446.7 L1066.0,446.2 L1066.1,445.5 L1066.2,448.3 L1066.3,449.9 L1066.4,447.4 L1066.5,452.0 L1066.6,450.7 L1066.6,447.2 L1066.7,449.3 L1066.8,450.7 L1066.9,449.9 L1067.0,449.3 L1067.1,446.4 L1067.2,448.4 L1067.3,449.9 L1067.4,450.9 L1067.5,452.3 L1067.6,451.2 L1067.7,451.7 L1067.8,450.6 L1067.9,455.7 L1068.0,455.4 L1068.1,457.8 L1068.2,460.4 L1068.3,457.1 L1068.4,456.9 L1068.5,456.7 L1068.6,458.5 L1068.7,460.8 L1068.8,459.6 L1068.9,458.2 L1069.0,455.0 L1069.1,457.2 L1069.1,462.3 L1069.2,460.1 L1069.3,459.8 L1069.4,463.8 L1069.5,464.8 L1069.6,465.3 L1069.7,466.8 L1069.8,462.4 L1069.9,463.3 L1070.0,461.9 L1070.1,462.7 L1070.2,462.9 L1070.3,463.1 L1070.4,461.6 L1070.5,458.9 L1070.6,459.6 L1070.7,462.0 L1070.8,459.7 L1070.9,462.1 L1071.0,462.9 L1071.1,460.8 L1071.2,458.1 L1071.3,461.6 L1071.4,459.9 L1071.5,460.0 L1071.6,461.1 L1071.6,462.6 L1071.7,457.0 L1071.8,457.7 L1071.9,459.5 L1072.0,456.4 L1072.1,457.1 L1072.2,457.2 L1072.3,458.0 L1072.4,456.4 L1072.5,456.7 L1072.6,458.1 L1072.7,459.4 L1072.8,459.8 L1072.9,455.9 L1073.0,455.3 L1073.1,456.8 L1073.2,456.3 L1073.3,457.2 L1073.4,457.7 L1073.5,458.5 L1073.6,459.1 L1073.7,461.7 L1073.8,457.7 L1073.9,459.7 L1074.0,460.0 L1074.1,457.4 L1074.1,457.1 L1074.2,459.6 L1074.3,461.4 L1074.4,456.6 L1074.5,457.5 L1074.6,457.5 L1074.7,458.2 L1074.8,457.8 L1074.9,455.6 L1075.0,458.4 L1075.1,461.6 L1075.2,460.9 L1075.3,463.3 L1075.4,459.2 L1075.5,457.0 L1075.6,459.0 L1075.7,456.3 L1075.8,456.6 L1075.9,459.0 L1076.0,457.5 L1076.1,461.8 L1076.2,459.8 L1076.3,459.0 L1076.4,456.4 L1076.5,454.1 L1076.6,453.9 L1076.6,450.4 L1076.7,453.2 L1076.8,454.1 L1076.9,453.2 L1077.0,451.9 L1077.1,450.4 L1077.2,449.8 L1077.3,453.0 L1077.4,451.0 L1077.5,449.6 L1077.6,450.6 L1077.7,451.3 L1077.8,451.7 L1077.9,455.9 L1078.0,451.4 L1078.1,451.1 L1078.2,449.4 L1078.3,451.6 L1078.4,449.0 L1078.5,450.9 L1078.6,449.3 L1078.7,449.2 L1078.8,447.9 L1078.9,448.7 L1079.0,445.7 L1079.1,448.4 L1079.1,450.2 L1079.2,447.5 L1079.3,451.1 L1079.4,449.6 L1079.5,448.4 L1079.6,446.4 L1079.7,446.5 L1079.8,449.4 L1079.9,448.6 L1080.0,446.3 L1080.1,444.7 L1080.2,448.8 L1080.3,445.9 L1080.4,448.2 L1080.5,447.4 L1080.6,449.1 L1080.7,445.2 L1080.8,446.6 L1080.9,450.4 L1081.0,448.3 L1081.1,451.6 L1081.2,451.1 L1081.3,452.8 L1081.4,450.8 L1081.5,450.2 L1081.6,453.7 L1081.6,451.4 L1081.7,451.2 L1081.8,452.7 L1081.9,450.3 L1082.0,452.3 L1082.1,451.8 L1082.2,454.9 L1082.3,452.2 L1082.4,452.4 L1082.5,452.4 L1082.6,454.8 L1082.7,453.1 L1082.8,453.1 L1082.9,450.3 L1083.0,449.9 L1083.1,450.3 L1083.2,450.4 L1083.3,449.5 L1083.4,449.7 L1083.5,451.4 L1083.6,448.7 L1083.7,451.8 L1083.8,453.1 L1083.9,453.5 L1084.0,454.4 L1084.1,458.1 L1084.1,459.3 L1084.2,458.7 L1084.3,460.0 L1084.4,459.2 L1084.5,459.9 L1084.6,460.7 L1084.7,462.5 L1084.8,460.8 L1084.9,461.4 L1085.0,461.8 L1085.1,462.5 L1085.2,460.7 L1085.3,461.1 L1085.4,459.2 L1085.5,460.6 L1085.6,460.7 L1085.7,459.3 L1085.8,460.3 L1085.9,460.9 L1086.0,462.2 L1086.1,460.8 L1086.2,458.0 L1086.3,458.6 L1086.4,462.1 L1086.5,461.8 L1086.6,461.9 L1086.6,460.6 L1086.7,460.2 L1086.8,459.4 L1086.9,459.7 L1087.0,457.9 L1087.1,461.2 L1087.2,464.7 L1087.3,466.3 L1087.4,463.3 L1087.5,463.0 L1087.6,464.4 L1087.7,463.2 L1087.8,464.6 L1087.9,464.5 L1088.0,465.6 L1088.1,465.5 L1088.2,462.1 L1088.3,462.1 L1088.4,465.1 L1088.5,462.4 L1088.6,465.5 L1088.7,465.2 L1088.8,460.4 L1088.9,461.7 L1089.0,462.7 L1089.1,461.1 L1089.1,460.1 L1089.2,460.5 L1089.3,460.1 L1089.4,461.3 L1089.5,460.9 L1089.6,460.4 L1089.7,461.3 L1089.8,461.8 L1089.9,461.4 L1090.0,462.4 L1090.1,460.6 L1090.2,457.0 L1090.3,457.3 L1090.4,460.4 L1090.5,460.5 L1090.6,461.7 L1090.7,464.0 L1090.8,464.0 L1090.9,462.5 L1091.0,462.4 L1091.1,457.9 L1091.2,458.7 L1091.3,458.6 L1091.4,455.7 L1091.5,459.3 L1091.6,457.2 L1091.6,458.2 L1091.7,456.1 L1091.8,459.6 L1091.9,460.0 L1092.0,457.4 L1092.1,457.8 L1092.2,458.8 L1092.3,456.4 L1092.4,454.1 L1092.5,455.5 L1092.6,457.1 L1092.7,456.5 L1092.8,455.3 L1092.9,453.5 L1093.0,458.1 L1093.1,458.8 L1093.2,457.4 L1093.3,459.6 L1093.4,459.3 L1093.5,455.9 L1093.6,458.6 L1093.7,459.6 L1093.8,458.0 L1093.9,457.7 L1094.0,459.4 L1094.1,457.2 L1094.2,457.0 L1094.2,456.5 L1094.3,454.1 L1094.4,454.2 L1094.5,452.2 L1094.6,451.7 L1094.7,452.2 L1094.8,449.2 L1094.9,451.5 L1095.0,453.8 L1095.1,450.0 L1095.2,449.1 L1095.3,452.0 L1095.4,450.5 L1095.5,451.9 L1095.6,448.7 L1095.7,451.2 L1095.8,451.3 L1095.9,452.6 L1096.0,450.2 L1096.1,449.3 L1096.2,449.8 L1096.3,449.6 L1096.4,448.4 L1096.5,447.0 L1096.6,448.8 L1096.7,448.5 L1096.7,447.0 L1096.8,446.3 L1096.9,447.8 L1097.0,447.3 L1097.1,447.1 L1097.2,446.8 L1097.3,446.9 L1097.4,449.7 L1097.5,447.6 L1097.6,447.8 L1097.7,447.4 L1097.8,446.3 L1097.9,447.0 L1098.0,448.7 L1098.1,445.8 L1098.2,443.5 L1098.3,445.4 L1098.4,444.0 L1098.5,446.1 L1098.6,444.1 L1098.7,441.8 L1098.8,443.4 L1098.9,443.2 L1099.0,448.8 L1099.1,445.4 L1099.2,446.1 L1099.2,443.7 L1099.3,442.3 L1099.4,443.7 L1099.5,443.7 L1099.6,443.2 L1099.7,446.8 L1099.8,446.9 L1099.9,446.5 L1100.0,446.9 L1100.1,443.8 L1100.2,444.4 L1100.3,445.0 L1100.4,443.1 L1100.5,441.2 L1100.6,441.0 L1100.7,443.8 L1100.8,441.5 L1100.9,442.5 L1101.0,444.0 L1101.1,441.7 L1101.2,442.3 L1101.3,441.9 L1101.4,444.3 L1101.5,444.4 L1101.6,441.5 L1101.7,443.8 L1101.7,445.6 L1101.8,446.2 L1101.9,444.8 L1102.0,442.6 L1102.1,446.1 L1102.2,444.9 L1102.3,447.5 L1102.4,446.0 L1102.5,446.5 L1102.6,441.0 L1102.7,443.6 L1102.8,443.4 L1102.9,444.3 L1103.0,441.4 L1103.1,444.8 L1103.2,443.8 L1103.3,445.1 L1103.4,444.7 L1103.5,446.2 L1103.6,443.3 L1103.7,442.9 L1103.8,445.4 L1103.9,446.9 L1104.0,447.2 L1104.1,446.8 L1104.2,444.0 L1104.2,444.2 L1104.3,445.9 L1104.4,446.5 L1104.5,446.1 L1104.6,447.0 L1104.7,446.9 L1104.8,445.2 L1104.9,445.9 L1105.0,447.9 L1105.1,448.5 L1105.2,448.0 L1105.3,448.7 L1105.4,446.2 L1105.5,448.5 L1105.6,446.9 L1105.7,445.9 L1105.8,445.4 L1105.9,444.2 L1106.0,446.7 L1106.1,450.3 L1106.2,451.4 L1106.3,449.8 L1106.4,449.1 L1106.5,448.7 L1106.6,450.9 L1106.7,448.9 L1106.7,450.0 L1106.8,451.5 L1106.9,448.6 L1107.0,450.0 L1107.1,447.1 L1107.2,450.1 L1107.3,449.8 L1107.4,450.9 L1107.5,450.5 L1107.6,450.9 L1107.7,452.0 L1107.8,453.7 L1107.9,449.2 L1108.0,453.1 L1108.1,449.2 L1108.2,448.3 L1108.3,448.6 L1108.4,448.1 L1108.5,451.0 L1108.6,446.7 L1108.7,446.5 L1108.8,445.4 L1108.9,445.1 L1109.0,444.2 L1109.1,443.8 L1109.2,445.8 L1109.2,442.1 L1109.3,445.5 L1109.4,447.0 L1109.5,447.9 L1109.6,447.7 L1109.7,445.7 L1109.8,447.5 L1109.9,445.3 L1110.0,445.8 L1110.1,445.8 L1110.2,446.3 L1110.3,445.8 L1110.4,447.7 L1110.5,445.8 L1110.6,445.0 L1110.7,444.7 L1110.8,443.5 L1110.9,444.4 L1111.0,444.4 L1111.1,444.7 L1111.2,441.6 L1111.3,445.8 L1111.4,443.9 L1111.5,442.6 L1111.6,444.8 L1111.7,443.7 L1111.7,441.5 L1111.8,444.0 L1111.9,442.9 L1112.0,444.3 L1112.1,444.2 L1112.2,442.1 L1112.3,441.6 L1112.4,440.9 L1112.5,439.8 L1112.6,442.9 L1112.7,443.4 L1112.8,443.1 L1112.9,440.7 L1113.0,440.8 L1113.1,441.8 L1113.2,441.8 L1113.3,442.0 L1113.4,443.3 L1113.5,442.2 L1113.6,441.6 L1113.7,442.5 L1113.8,442.3 L1113.9,443.8 L1114.0,443.3 L1114.1,441.9 L1114.2,439.0 L1114.2,439.4 L1114.3,441.2 L1114.4,439.8 L1114.5,439.2 L1114.6,439.2 L1114.7,441.3 L1114.8,442.6 L1114.9,440.6 L1115.0,440.9 L1115.1,438.7 L1115.2,441.2 L1115.3,440.0 L1115.4,440.2 L1115.5,440.0 L1115.6,436.8 L1115.7,438.5 L1115.8,439.0 L1115.9,438.3 L1116.0,435.8 L1116.1,433.9 L1116.2,434.2 L1116.3,436.7 L1116.4,436.1 L1116.5,437.0 L1116.6,434.5 L1116.7,435.0 L1116.7,435.3 L1116.8,434.1 L1116.9,434.7 L1117.0,432.4 L1117.1,433.2 L1117.2,433.8 L1117.3,432.1 L1117.4,434.1 L1117.5,436.8 L1117.6,437.6 L1117.7,432.9 L1117.8,436.3 L1117.9,434.5 L1118.0,436.6 L1118.1,436.3 L1118.2,434.1 L1118.3,434.3 L1118.4,437.7 L1118.5,436.6 L1118.6,435.9 L1118.7,436.4 L1118.8,433.1 L1118.9,433.8 L1119.0,430.8 L1119.1,432.7 L1119.2,434.5 L1119.2,431.9 L1119.3,432.5 L1119.4,430.5 L1119.5,433.0 L1119.6,432.7 L1119.7,435.0 L1119.8,435.0 L1119.9,435.8 L1120.0,438.5 L1120.1,439.7 L1120.2,436.9 L1120.3,436.4 L1120.4,436.9 L1120.5,435.4 L1120.6,434.9 L1120.7,440.8 L1120.8,437.7 L1120.9,437.3 L1121.0,437.7 L1121.1,436.8 L1121.2,435.0 L1121.3,434.0 L1121.4,434.8 L1121.5,435.1 L1121.6,436.6 L1121.7,435.1 L1121.8,439.0 L1121.8,437.8 L1121.9,440.6 L1122.0,437.7 L1122.1,437.8 L1122.2,439.4 L1122.3,435.6 L1122.4,433.6 L1122.5,431.5 L1122.6,432.0 L1122.7,429.5 L1122.8,433.6 L1122.9,434.3 L1123.0,431.6 L1123.1,431.8 L1123.2,432.5 L1123.3,430.6 L1123.4,429.4 L1123.5,429.7 L1123.6,428.2 L1123.7,429.4 L1123.8,429.6 L1123.9,429.6 L1124.0,426.6 L1124.1,426.1 L1124.2,425.5 L1124.3,424.0 L1124.3,423.0 L1124.4,423.2 L1124.5,422.7 L1124.6,421.5 L1124.7,421.1 L1124.8,421.9 L1124.9,421.4 L1125.0,424.7 L1125.1,425.1 L1125.2,421.1 L1125.3,418.2 L1125.4,417.6 L1125.5,419.5 L1125.6,419.2 L1125.7,419.3 L1125.8,418.5 L1125.9,415.5 L1126.0,415.0 L1126.1,418.2 L1126.2,414.3 L1126.3,412.6 L1126.4,412.1 L1126.5,412.1 L1126.6,412.4 L1126.7,411.9 L1126.8,415.0 L1126.8,411.2 L1126.9,411.3 L1127.0,413.6 L1127.1,413.7 L1127.2,412.8 L1127.3,410.0 L1127.4,410.3 L1127.5,410.7 L1127.6,412.2 L1127.7,413.9 L1127.8,412.2 L1127.9,409.1 L1128.0,408.4 L1128.1,410.7 L1128.2,411.5 L1128.3,410.9 L1128.4,410.5 L1128.5,410.7 L1128.6,413.2 L1128.7,414.3 L1128.8,414.2 L1128.9,412.7 L1129.0,414.9 L1129.1,412.1 L1129.2,410.3 L1129.3,410.5 L1129.3,408.0 L1129.4,407.1 L1129.5,407.1 L1129.6,406.5 L1129.7,404.8 L1129.8,405.6 L1129.9,406.7 L1130.0,403.3 L1130.1,408.9 L1130.2,406.9 L1130.3,410.8 L1130.4,411.7 L1130.5,407.1 L1130.6,407.9 L1130.7,408.7 L1130.8,407.9 L1130.9,407.3 L1131.0,406.3 L1131.1,404.6 L1131.2,405.8 L1131.3,404.1 L1131.4,406.2 L1131.5,407.1 L1131.6,406.5 L1131.7,406.9 L1131.8,408.7 L1131.8,405.9 L1131.9,404.3 L1132.0,405.7 L1132.1,402.7 L1132.2,408.0 L1132.3,404.0 L1132.4,403.7 L1132.5,402.9 L1132.6,402.8 L1132.7,402.1 L1132.8,403.8 L1132.9,406.9 L1133.0,404.5 L1133.1,404.6 L1133.2,404.9 L1133.3,405.4 L1133.4,406.9 L1133.5,404.8 L1133.6,406.7 L1133.7,403.8 L1133.8,404.8 L1133.9,405.3 L1134.0,404.8 L1134.1,408.8 L1134.2,406.7 L1134.3,407.1 L1134.3,406.8 L1134.4,405.6 L1134.5,407.0 L1134.6,409.6 L1134.7,409.1 L1134.8,408.0 L1134.9,409.1 L1135.0,411.4 L1135.1,411.8 L1135.2,407.6 L1135.3,411.1 L1135.4,408.6 L1135.5,409.4 L1135.6,410.2 L1135.7,409.5 L1135.8,406.9 L1135.9,406.2 L1136.0,408.3 L1136.1,409.3 L1136.2,408.8 L1136.3,405.9 L1136.4,406.1 L1136.5,403.0 L1136.6,407.7 L1136.7,408.3 L1136.8,404.8 L1136.8,402.7 L1136.9,404.7 L1137.0,405.4 L1137.1,406.0 L1137.2,405.8 L1137.3,408.5 L1137.4,408.1 L1137.5,410.8 L1137.6,405.1 L1137.7,408.4 L1137.8,405.6 L1137.9,405.2 L1138.0,403.5 L1138.1,405.5 L1138.2,404.6 L1138.3,405.9 L1138.4,406.4 L1138.5,406.3 L1138.6,405.3 L1138.7,406.8 L1138.8,406.6 L1138.9,407.3 L1139.0,404.9 L1139.1,404.7 L1139.2,404.2 L1139.3,404.3 L1139.3,404.8 L1139.4,408.0 L1139.5,403.5 L1139.6,406.5 L1139.7,406.3 L1139.8,405.6 L1139.9,403.9 L1140.0,404.2 L1140.1,403.3 L1140.2,403.5 L1140.3,403.9 L1140.4,403.7 L1140.5,402.7 L1140.6,403.3 L1140.7,400.2 L1140.8,404.9 L1140.9,403.6 L1141.0,403.0 L1141.1,400.5 L1141.2,401.1 L1141.3,400.5 L1141.4,402.2 L1141.5,398.8 L1141.6,397.9 L1141.7,398.1 L1141.8,399.2 L1141.8,399.8 L1141.9,399.6 L1142.0,398.4 L1142.1,401.3 L1142.2,399.8 L1142.3,402.1 L1142.4,399.4 L1142.5,400.6 L1142.6,403.0 L1142.7,401.0 L1142.8,402.1 L1142.9,402.2 L1143.0,398.2 L1143.1,398.5 L1143.2,396.1 L1143.3,398.7 L1143.4,396.9 L1143.5,398.2 L1143.6,396.6 L1143.7,400.0 L1143.8,397.8 L1143.9,395.6 L1144.0,398.7 L1144.1,399.2 L1144.2,398.2 L1144.3,401.5 L1144.3,398.6 L1144.4,399.9 L1144.5,401.0 L1144.6,401.8 L1144.7,402.0 L1144.8,400.6 L1144.9,402.1 L1145.0,399.2 L1145.1,397.8 L1145.2,400.4 L1145.3,401.4 L1145.4,399.1 L1145.5,396.3 L1145.6,396.2 L1145.7,398.3 L1145.8,397.2 L1145.9,398.6 L1146.0,397.5 L1146.1,397.0 L1146.2,394.9 L1146.3,397.1 L1146.4,397.8 L1146.5,396.8 L1146.6,395.7 L1146.7,396.8 L1146.8,393.5 L1146.8,394.9 L1146.9,395.9 L1147.0,397.1 L1147.1,396.2 L1147.2,395.0 L1147.3,395.5 L1147.4,398.0 L1147.5,398.1 L1147.6,399.1 L1147.7,399.0 L1147.8,399.8 L1147.9,401.2 L1148.0,398.0 L1148.1,399.9 L1148.2,399.3 L1148.3,399.8 L1148.4,399.6 L1148.5,401.8 L1148.6,402.9 L1148.7,403.4 L1148.8,403.3 L1148.9,405.1 L1149.0,403.3 L1149.1,403.1 L1149.2,405.2 L1149.3,405.3 L1149.3,405.9 L1149.4,408.1 L1149.5,405.7 L1149.6,403.6 L1149.7,406.1 L1149.8,404.5 L1149.9,404.9 L1150.0,402.9 L1150.1,403.7 L1150.2,405.8 L1150.3,402.0 L1150.4,405.1 L1150.5,405.2 L1150.6,405.9 L1150.7,406.1 L1150.8,403.7 L1150.9,405.5 L1151.0,404.7 L1151.1,404.3 L1151.2,407.0 L1151.3,401.6 L1151.4,402.3 L1151.5,404.3 L1151.6,405.4 L1151.7,404.1 L1151.8,404.1 L1151.9,404.5 L1151.9,404.0 L1152.0,405.7 L1152.1,406.2 L1152.2,403.7 L1152.3,404.0 L1152.4,405.9 L1152.5,403.2 L1152.6,405.8 L1152.7,406.5 L1152.8,405.6 L1152.9,407.2 L1153.0,408.3 L1153.1,406.8 L1153.2,406.0 L1153.3,406.6 L1153.4,405.7 L1153.5,405.4 L1153.6,405.1 L1153.7,405.4 L1153.8,405.2 L1153.9,404.3 L1154.0,405.1 L1154.1,405.5 L1154.2,404.5 L1154.3,406.9 L1154.4,407.8 L1154.4,407.5 L1154.5,405.3 L1154.6,407.2 L1154.7,408.6 L1154.8,409.3 L1154.9,408.0 L1155.0,407.7 L1155.1,408.4 L1155.2,408.4 L1155.3,409.4 L1155.4,410.4 L1155.5,408.9 L1155.6,408.9 L1155.7,406.3 L1155.8,405.2 L1155.9,408.6 L1156.0,409.3 L1156.1,406.1 L1156.2,403.8 L1156.3,405.3 L1156.4,404.7 L1156.5,404.5 L1156.6,404.2 L1156.7,405.6 L1156.8,403.6 L1156.9,402.8 L1156.9,405.4 L1157.0,403.9 L1157.1,402.8 L1157.2,402.9 L1157.3,405.4 L1157.4,405.6 L1157.5,403.1 L1157.6,402.2 L1157.7,401.3 L1157.8,401.2 L1157.9,400.5 L1158.0,401.0 L1158.1,400.1 L1158.2,399.0 L1158.3,402.0 L1158.4,399.6 L1158.5,398.2 L1158.6,399.8 L1158.7,401.2 L1158.8,399.1 L1158.9,398.8 L1159.0,397.3 L1159.1,399.1 L1159.2,398.9 L1159.3,398.3 L1159.4,400.0 L1159.4,401.8 L1159.5,403.5 L1159.6,404.5 L1159.7,403.9 L1159.8,401.6 L1159.9,406.8 L1160.0,405.0 L1160.1,410.4 L1160.2,409.9 L1160.3,410.0 L1160.4,410.4 L1160.5,410.9 L1160.6,409.9 L1160.7,411.7 L1160.8,411.2 L1160.9,409.4 L1161.0,408.0 L1161.1,407.1 L1161.2,405.5 L1161.3,407.7 L1161.4,407.3 L1161.5,407.6 L1161.6,405.4 L1161.7,405.3 L1161.8,405.2 L1161.9,405.7 L1161.9,403.4 L1162.0,402.9 L1162.1,403.3 L1162.2,402.5 L1162.3,405.3 L1162.4,406.7 L1162.5,405.2 L1162.6,403.2 L1162.7,404.8 L1162.8,401.4 L1162.9,402.8 L1163.0,403.5 L1163.1,402.3 L1163.2,402.9 L1163.3,401.0 L1163.4,402.5 L1163.5,403.2 L1163.6,401.6 L1163.7,402.8 L1163.8,402.0 L1163.9,400.6 L1164.0,398.9 L1164.1,402.8 L1164.2,402.6 L1164.3,400.4 L1164.4,402.9 L1164.4,405.0 L1164.5,401.9 L1164.6,402.8 L1164.7,398.7 L1164.8,397.7 L1164.9,403.3 L1165.0,399.4 L1165.1,396.8 L1165.2,397.1 L1165.3,398.7 L1165.4,397.8 L1165.5,399.2 L1165.6,397.7 L1165.7,399.5 L1165.8,398.9 L1165.9,399.2 L1166.0,399.1 L1166.1,398.8 L1166.2,397.7 L1166.3,396.7 L1166.4,398.7 L1166.5,396.8 L1166.6,397.3 L1166.7,401.0 L1166.8,402.3 L1166.9,404.7 L1166.9,398.4 L1167.0,399.1 L1167.1,397.6 L1167.2,400.5 L1167.3,398.8 L1167.4,397.2 L1167.5,398.8 L1167.6,402.1 L1167.7,402.2 L1167.8,402.5 L1167.9,399.1 L1168.0,400.6 L1168.1,399.7 L1168.2,397.8 L1168.3,398.4 L1168.4,399.3 L1168.5,395.6 L1168.6,396.8 L1168.7,398.8 L1168.8,400.0 L1168.9,398.9 L1169.0,397.1 L1169.1,395.8 L1169.2,398.1 L1169.3,395.4 L1169.4,396.7 L1169.4,398.5 L1169.5,396.3 L1169.6,395.9 L1169.7,393.6 L1169.8,394.0 L1169.9,395.7 L1170.0,396.9 L1170.1,397.3 L1170.2,395.7 L1170.3,398.0 L1170.4,397.4 L1170.5,397.4 L1170.6,396.7 L1170.7,397.9 L1170.8,397.5 L1170.9,396.6 L1171.0,396.2 L1171.1,398.6 L1171.2,399.8 L1171.3,396.6 L1171.4,397.5 L1171.5,399.7 L1171.6,400.5 L1171.7,400.7 L1171.8,397.1 L1171.9,398.5 L1171.9,398.5 L1172.0,398.7 L1172.1,397.3 L1172.2,397.1 L1172.3,400.7 L1172.4,400.5 L1172.5,396.4 L1172.6,398.6 L1172.7,398.5 L1172.8,400.6 L1172.9,395.1 L1173.0,398.7 L1173.1,398.0 L1173.2,396.9 L1173.3,399.2 L1173.4,397.6 L1173.5,399.5 L1173.6,399.4 L1173.7,396.6 L1173.8,397.2 L1173.9,395.0 L1174.0,399.9 L1174.1,400.6 L1174.2,400.0 L1174.3,399.5 L1174.4,399.6 L1174.4,400.7 L1174.5,400.4 L1174.6,400.1 L1174.7,400.1 L1174.8,402.4 L1174.9,401.9 L1175.0,400.0 L1175.1,397.5 L1175.2,399.9 L1175.3,398.3 L1175.4,401.3 L1175.5,396.6 L1175.6,396.7 L1175.7,400.0 L1175.8,399.1 L1175.9,399.6 L1176.0,401.4 L1176.1,400.3 L1176.2,398.7 L1176.3,399.7 L1176.4,399.6 L1176.5,399.2 L1176.6,400.2 L1176.7,398.0 L1176.8,397.8 L1176.9,398.0 L1176.9,397.1 L1177.0,395.5 L1177.1,398.1 L1177.2,398.2 L1177.3,399.7 L1177.4,401.2 L1177.5,402.6 L1177.6,402.8 L1177.7,402.9 L1177.8,399.9 L1177.9,400.7 L1178.0,403.7 L1178.1,404.3 L1178.2,403.1 L1178.3,401.0 L1178.4,401.2 L1178.5,402.7 L1178.6,403.5 L1178.7,403.7 L1178.8,405.3 L1178.9,404.8 L1179.0,403.3 L1179.1,404.6 L1179.2,403.6 L1179.3,403.2 L1179.4,402.4 L1179.5,400.6 L1179.5,400.9 L1179.6,400.1 L1179.7,400.2 L1179.8,401.8 L1179.9,400.9 L1180.0,401.1 L1180.1,400.2 L1180.2,403.3 L1180.3,402.5 L1180.4,403.6 L1180.5,403.9 L1180.6,404.2 L1180.7,406.9 L1180.8,405.9 L1180.9,406.2 L1181.0,403.2 L1181.1,405.3 L1181.2,403.8 L1181.3,405.1 L1181.4,402.7 L1181.5,403.4 L1181.6,402.3 L1181.7,402.9 L1181.8,403.4 L1181.9,399.7 L1182.0,401.6 L1182.0,401.0 L1182.1,401.8 L1182.2,403.3 L1182.3,405.7 L1182.4,405.0 L1182.5,402.1 L1182.6,404.0 L1182.7,403.5 L1182.8,405.7 L1182.9,403.7 L1183.0,403.3 L1183.1,404.1 L1183.2,403.6 L1183.3,403.6 L1183.4,405.2 L1183.5,404.5 L1183.6,404.8 L1183.7,404.3 L1183.8,403.2 L1183.9,403.3 L1184.0,405.0 L1184.1,404.3 L1184.2,404.8 L1184.3,402.8 L1184.4,406.0 L1184.5,403.1 L1184.5,404.6 L1184.6,403.2 L1184.7,403.5 L1184.8,403.7 L1184.9,407.1 L1185.0,404.4 L1185.1,403.8 L1185.2,403.3 L1185.3,407.9 L1185.4,406.7 L1185.5,408.1 L1185.6,407.5 L1185.7,407.5 L1185.8,406.3 L1185.9,406.4 L1186.0,408.9 L1186.1,406.9 L1186.2,409.4 L1186.3,409.0 L1186.4,409.6 L1186.5,410.2 L1186.6,409.8 L1186.7,407.8 L1186.8,409.6 L1186.9,411.5 L1187.0,409.0 L1187.0,410.8 L1187.1,409.5 L1187.2,410.3 L1187.3,415.1 L1187.4,412.6 L1187.5,415.2 L1187.6,408.4 L1187.7,412.0 L1187.8,414.0 L1187.9,417.4 L1188.0,417.1 L1188.1,416.2 L1188.2,412.1 L1188.3,410.7 L1188.4,415.1 L1188.5,416.8 L1188.6,415.3 L1188.7,417.1 L1188.8,416.9 L1188.9,419.3 L1189.0,418.5 L1189.1,417.1 L1189.2,418.1 L1189.3,417.3 L1189.4,417.4 L1189.5,417.8 L1189.5,414.8 L1189.6,417.5 L1189.7,414.3 L1189.8,413.9 L1189.9,410.5 L1190.0,408.0 L1190.1,407.7 L1190.2,407.2 L1190.3,407.6 L1190.4,406.7 L1190.5,408.0 L1190.6,410.8 L1190.7,410.3 L1190.8,411.5 L1190.9,410.3 L1191.0,408.4 L1191.1,408.2 L1191.2,406.2 L1191.3,408.4 L1191.4,408.6 L1191.5,408.3 L1191.6,413.5 L1191.7,410.8 L1191.8,411.8 L1191.9,411.9 L1192.0,411.9 L1192.0,410.2 L1192.1,410.4 L1192.2,409.9 L1192.3,411.3 L1192.4,411.7 L1192.5,414.8 L1192.6,412.7 L1192.7,413.0 L1192.8,412.3 L1192.9,414.6 L1193.0,414.1 L1193.1,415.3 L1193.2,414.5 L1193.3,414.7 L1193.4,414.2 L1193.5,418.2 L1193.6,413.9 L1193.7,418.8 L1193.8,420.8 L1193.9,419.4 L1194.0,418.2 L1194.1,421.5 L1194.2,423.6 L1194.3,421.5 L1194.4,422.1 L1194.5,420.5 L1194.5,424.8 L1194.6,423.6 L1194.7,427.0 L1194.8,429.4 L1194.9,425.4 L1195.0,428.1 L1195.1,424.8 L1195.2,421.0 L1195.3,424.6 L1195.4,424.1 L1195.5,426.0 L1195.6,422.0 L1195.7,425.8 L1195.8,423.9 L1195.9,423.7 L1196.0,421.9 L1196.1,420.8 L1196.2,419.7 L1196.3,420.1 L1196.4,420.3 L1196.5,420.3 L1196.6,423.3 L1196.7,423.9 L1196.8,422.3 L1196.9,421.7 L1197.0,422.0 L1197.0,422.6 L1197.1,420.3 L1197.2,421.6 L1197.3,419.9 L1197.4,418.5 L1197.5,416.9 L1197.6,420.1 L1197.7,418.9 L1197.8,421.6 L1197.9,423.2 L1198.0,422.7 L1198.1,421.2 L1198.2,419.4 L1198.3,420.2 L1198.4,420.1 L1198.5,419.7 L1198.6,419.7 L1198.7,421.1 L1198.8,421.9 L1198.9,421.6 L1199.0,421.1 L1199.1,422.2 L1199.2,418.2 L1199.3,420.8 L1199.4,422.8 L1199.5,421.2 L1199.5,421.6 L1199.6,418.5 L1199.7,418.1 L1199.8,419.1 L1199.9,419.4 L1200.0,417.1 L1200.1,415.4 L1200.2,413.9 L1200.3,416.5 L1200.4,417.0 L1200.5,417.0 L1200.6,417.2 L1200.7,419.5 L1200.8,416.2 L1200.9,419.2 L1201.0,419.1 L1201.1,417.9 L1201.2,417.5 L1201.3,417.0 L1201.4,416.1 L1201.5,416.8 L1201.6,418.8 L1201.7,416.2 L1201.8,415.1 L1201.9,415.8 L1202.0,415.1 L1202.0,417.6 L1202.1,418.3 L1202.2,417.4 L1202.3,418.1 L1202.4,419.4 L1202.5,415.9 L1202.6,417.1 L1202.7,413.0 L1202.8,417.3 L1202.9,417.4 L1203.0,414.1 L1203.1,418.2 L1203.2,412.5 L1203.3,415.6 L1203.4,413.5 L1203.5,415.3 L1203.6,414.1 L1203.7,416.7 L1203.8,417.4 L1203.9,420.1 L1204.0,416.9 L1204.1,415.5 L1204.2,418.0 L1204.3,416.1 L1204.4,413.9 L1204.5,414.5 L1204.5,417.9 L1204.6,416.7 L1204.7,418.7 L1204.8,418.8 L1204.9,420.4 L1205.0,419.9 L1205.1,419.5 L1205.2,415.5 L1205.3,420.5 L1205.4,418.1 L1205.5,418.7 L1205.6,419.1 L1205.7,416.9 L1205.8,417.3 L1205.9,415.9 L1206.0,414.7 L1206.1,416.0 L1206.2,413.6 L1206.3,416.6 L1206.4,419.8 L1206.5,416.9 L1206.6,420.5 L1206.7,421.1 L1206.8,419.1 L1206.9,419.9 L1207.0,423.5 L1207.0,418.4 L1207.1,419.7 L1207.2,420.1 L1207.3,419.1 L1207.4,422.2 L1207.5,423.3 L1207.6,423.6 L1207.7,424.8 L1207.8,425.2 L1207.9,426.1 L1208.0,426.4 L1208.1,419.7 L1208.2,420.1 L1208.3,420.8 L1208.4,419.4 L1208.5,420.4 L1208.6,423.7 L1208.7,420.3 L1208.8,422.3 L1208.9,423.5 L1209.0,425.4 L1209.1,423.2 L1209.2,424.8 L1209.3,425.1 L1209.4,423.6 L1209.5,424.8 L1209.6,423.6 L1209.6,423.1 L1209.7,424.1 L1209.8,423.3 L1209.9,424.8 L1210.0,427.8 L1210.1,426.4 L1210.2,425.4 L1210.3,426.9 L1210.4,429.0 L1210.5,425.8 L1210.6,424.9 L1210.7,424.3 L1210.8,424.7 L1210.9,422.8 L1211.0,424.1 L1211.1,427.2 L1211.2,426.2 L1211.3,425.4 L1211.4,425.8 L1211.5,427.0 L1211.6,428.8 L1211.7,428.5 L1211.8,427.9 L1211.9,428.3 L1212.0,427.3 L1212.1,425.3 L1212.1,432.4 L1212.2,428.0 L1212.3,428.8 L1212.4,423.8 L1212.5,421.6 L1212.6,421.9 L1212.7,421.6 L1212.8,422.3 L1212.9,426.0 L1213.0,423.9 L1213.1,422.4 L1213.2,422.0 L1213.3,419.0 L1213.4,420.9 L1213.5,418.2 L1213.6,418.1 L1213.7,419.2 L1213.8,422.9 L1213.9,421.4 L1214.0,422.9 L1214.1,419.3 L1214.2,418.2 L1214.3,416.8 L1214.4,416.2 L1214.5,415.0 L1214.6,415.4 L1214.6,415.3 L1214.7,416.1 L1214.8,414.6 L1214.9,415.3 L1215.0,413.5 L1215.1,417.3 L1215.2,414.9 L1215.3,414.0 L1215.4,416.6 L1215.5,414.9 L1215.6,416.0 L1215.7,413.2 L1215.8,415.9 L1215.9,416.0 L1216.0,415.3 L1216.1,415.5 L1216.2,415.5 L1216.3,415.0 L1216.4,417.1 L1216.5,413.7 L1216.6,416.4 L1216.7,417.0 L1216.8,416.3 L1216.9,412.4 L1217.0,412.7 L1217.1,414.2 L1217.1,413.3 L1217.2,414.5 L1217.3,412.4 L1217.4,413.2 L1217.5,412.6 L1217.6,412.7 L1217.7,412.7 L1217.8,413.1 L1217.9,410.7 L1218.0,411.2 L1218.1,409.8 L1218.2,405.8 L1218.3,403.4 L1218.4,405.5 L1218.5,404.1 L1218.6,403.3 L1218.7,404.7 L1218.8,407.9 L1218.9,409.1 L1219.0,407.9 L1219.1,407.1 L1219.2,407.2 L1219.3,408.3 L1219.4,409.7 L1219.5,409.0 L1219.6,406.0 L1219.6,405.1 L1219.7,407.2 L1219.8,408.2 L1219.9,407.9 L1220.0,403.3 L1220.1,402.7 L1220.2,403.7 L1220.3,403.3 L1220.4,404.5 L1220.5,404.6 L1220.6,401.1 L1220.7,400.7 L1220.8,400.8 L1220.9,401.4 L1221.0,399.1 L1221.1,399.1 L1221.2,400.4 L1221.3,405.4 L1221.4,402.7 L1221.5,405.5 L1221.6,407.1 L1221.7,405.7 L1221.8,403.2 L1221.9,405.6 L1222.0,405.8 L1222.1,405.5 L1222.1,405.1 L1222.2,404.3 L1222.3,407.0 L1222.4,406.2 L1222.5,407.3 L1222.6,407.2 L1222.7,403.7 L1222.8,403.6 L1222.9,402.9 L1223.0,404.4 L1223.1,403.0 L1223.2,404.3 L1223.3,402.7 L1223.4,399.7 L1223.5,399.7 L1223.6,399.5 L1223.7,400.9 L1223.8,403.9 L1223.9,401.2 L1224.0,400.0 L1224.1,401.4 L1224.2,401.3 L1224.3,403.1 L1224.4,403.5 L1224.5,404.4 L1224.6,402.4 L1224.6,404.9 L1224.7,403.5 L1224.8,401.9 L1224.9,399.5 L1225.0,402.0 L1225.1,397.8 L1225.2,399.0 L1225.3,398.5 L1225.4,398.7 L1225.5,398.7 L1225.6,398.5 L1225.7,398.8 L1225.8,400.8 L1225.9,402.0 L1226.0,401.1 L1226.1,401.0 L1226.2,400.0 L1226.3,402.4 L1226.4,401.2 L1226.5,402.0 L1226.6,400.6 L1226.7,399.9 L1226.8,398.7 L1226.9,400.0 L1227.0,396.2 L1227.1,398.1 L1227.1,399.0 L1227.2,400.9 L1227.3,397.9 L1227.4,398.3 L1227.5,396.4 L1227.6,399.1 L1227.7,398.7 L1227.8,401.1 L1227.9,400.2 L1228.0,399.6 L1228.1,400.1 L1228.2,403.3 L1228.3,400.7 L1228.4,397.7 L1228.5,397.1 L1228.6,398.6 L1228.7,397.2 L1228.8,397.7 L1228.9,397.8 L1229.0,396.5 L1229.1,397.3 L1229.2,398.1 L1229.3,398.1 L1229.4,397.7 L1229.5,399.5 L1229.6,395.5 L1229.6,399.4 L1229.7,394.9 L1229.8,392.8 L1229.9,395.3 L1230.0,394.6 L1230.1,396.1 L1230.2,395.2 L1230.3,393.9 L1230.4,395.9 L1230.5,392.9 L1230.6,394.9 L1230.7,396.6 L1230.8,394.0 L1230.9,394.3 L1231.0,396.0 L1231.1,394.4 L1231.2,395.6 L1231.3,398.8 L1231.4,395.2 L1231.5,396.3 L1231.6,395.1 L1231.7,397.4 L1231.8,396.4 L1231.9,398.5 L1232.0,398.0 L1232.1,394.8 L1232.1,397.5 L1232.2,396.0 L1232.3,395.9 L1232.4,395.6 L1232.5,396.3 L1232.6,394.8 L1232.7,396.3 L1232.8,394.1 L1232.9,393.1 L1233.0,391.9 L1233.1,393.8 L1233.2,394.3 L1233.3,393.0 L1233.4,392.5 L1233.5,391.9 L1233.6,390.8 L1233.7,393.3 L1233.8,390.5 L1233.9,391.0 L1234.0,390.6 L1234.1,394.8 L1234.2,391.4 L1234.3,392.9 L1234.4,388.6 L1234.5,390.4 L1234.6,392.3 L1234.6,388.8 L1234.7,389.7 L1234.8,393.9 L1234.9,393.2 L1235.0,394.3 L1235.1,394.1 L1235.2,387.0 L1235.3,388.5 L1235.4,392.2 L1235.5,389.5 L1235.6,389.9 L1235.7,389.7 L1235.8,390.9 L1235.9,391.1 L1236.0,389.3 L1236.1,389.3 L1236.2,392.0 L1236.3,391.9 L1236.4,389.5 L1236.5,390.5 L1236.6,389.0 L1236.7,391.7 L1236.8,390.6 L1236.9,390.0 L1237.0,387.4 L1237.1,389.5 L1237.2,393.2 L1237.2,391.9 L1237.3,389.3 L1237.4,387.5 L1237.5,386.9 L1237.6,392.1 L1237.7,388.9 L1237.8,390.8 L1237.9,393.0 L1238.0,393.6 L1238.1,393.4 L1238.2,394.4 L1238.3,394.0 L1238.4,392.2 L1238.5,392.5 L1238.6,387.5 L1238.7,391.9 L1238.8,387.1 L1238.9,389.2 L1239.0,386.6 L1239.1,392.0 L1239.2,389.7 L1239.3,387.6 L1239.4,389.2 L1239.5,390.2 L1239.6,391.1 L1239.7,391.1 L1239.7,390.5 L1239.8,391.2 L1239.9,392.5 L1240.0,393.7 L1240.1,396.1 L1240.2,393.6 L1240.3,394.6 L1240.4,394.3 L1240.5,394.7 L1240.6,397.2 L1240.7,396.9 L1240.8,396.7 L1240.9,396.0 L1241.0,391.9 L1241.1,393.6 L1241.2,395.6 L1241.3,394.1 L1241.4,394.7 L1241.5,393.6 L1241.6,392.9 L1241.7,393.5 L1241.8,397.3 L1241.9,395.7 L1242.0,396.0 L1242.1,399.9 L1242.2,400.6 L1242.2,397.9 L1242.3,395.9 L1242.4,396.3 L1242.5,397.4 L1242.6,397.0 L1242.7,396.7 L1242.8,400.3 L1242.9,397.7 L1243.0,396.1 L1243.1,395.4 L1243.2,400.2 L1243.3,398.5 L1243.4,399.9 L1243.5,399.4 L1243.6,398.4 L1243.7,399.9 L1243.8,398.1 L1243.9,399.8 L1244.0,400.0 L1244.1,399.7 L1244.2,400.4 L1244.3,398.7 L1244.4,398.9 L1244.5,400.3 L1244.6,401.0 L1244.7,401.6 L1244.7,401.9 L1244.8,401.7 L1244.9,400.3 L1245.0,400.6 L1245.1,398.7 L1245.2,399.0 L1245.3,400.6 L1245.4,399.0 L1245.5,397.9 L1245.6,397.2 L1245.7,395.3 L1245.8,398.3 L1245.9,397.2 L1246.0,393.8 L1246.1,395.6 L1246.2,393.0 L1246.3,396.6 L1246.4,393.1 L1246.5,397.1 L1246.6,396.9 L1246.7,395.7 L1246.8,392.0 L1246.9,390.9 L1247.0,392.5 L1247.1,392.7 L1247.2,392.7 L1247.2,389.9 L1247.3,390.9 L1247.4,393.2 L1247.5,391.1 L1247.6,394.3 L1247.7,392.3 L1247.8,392.7 L1247.9,393.7 L1248.0,392.7 L1248.1,394.4 L1248.2,394.5 L1248.3,394.0 L1248.4,392.5 L1248.5,393.3 L1248.6,392.3 L1248.7,391.5 L1248.8,394.1 L1248.9,390.4 L1249.0,390.6 L1249.1,391.6 L1249.2,393.9 L1249.3,392.4 L1249.4,391.0 L1249.5,394.3 L1249.6,392.7 L1249.7,393.1 L1249.7,394.2 L1249.8,397.3 L1249.9,400.2 L1250.0,399.3 L1250.1,400.6 L1250.2,397.5 L1250.3,400.5 L1250.4,397.7 L1250.5,398.4 L1250.6,397.7 L1250.7,396.8 L1250.8,395.8 L1250.9,395.1 L1251.0,399.1 L1251.1,397.9 L1251.2,398.9 L1251.3,397.7 L1251.4,399.0 L1251.5,399.3 L1251.6,398.3 L1251.7,398.9 L1251.8,398.9 L1251.9,400.1 L1252.0,396.9 L1252.1,398.8 L1252.2,399.3 L1252.2,398.2 L1252.3,400.2 L1252.4,396.8 L1252.5,399.3 L1252.6,400.6 L1252.7,398.8 L1252.8,397.5 L1252.9,402.3 L1253.0,401.6 L1253.1,404.2 L1253.2,402.0 L1253.3,400.8 L1253.4,402.7 L1253.5,404.6 L1253.6,402.6 L1253.7,401.2 L1253.8,403.7 L1253.9,401.7 L1254.0,403.8 L1254.1,399.9 L1254.2,403.9 L1254.3,402.1 L1254.4,402.0 L1254.5,402.9 L1254.6,401.1 L1254.7,400.5 L1254.7,400.8 L1254.8,397.3 L1254.9,399.1 L1255.0,400.4 L1255.1,402.7 L1255.2,402.6 L1255.3,402.7 L1255.4,403.9 L1255.5,400.9 L1255.6,400.4 L1255.7,404.6 L1255.8,406.8 L1255.9,403.8 L1256.0,401.8 L1256.1,400.5 L1256.2,401.0 L1256.3,403.4 L1256.4,404.3 L1256.5,404.6 L1256.6,403.0 L1256.7,399.5 L1256.8,402.6 L1256.9,403.2 L1257.0,400.4 L1257.1,403.2 L1257.2,399.3 L1257.2,401.5 L1257.3,399.7 L1257.4,400.6 L1257.5,399.2 L1257.6,399.2 L1257.7,396.6 L1257.8,398.5 L1257.9,398.1 L1258.0,401.3 L1258.1,400.2 L1258.2,397.7 L1258.3,398.8 L1258.4,398.9 L1258.5,398.9 L1258.6,400.0 L1258.7,399.9 L1258.8,399.2 L1258.9,399.5 L1259.0,396.3 L1259.1,394.1 L1259.2,394.8 L1259.3,392.2 L1259.4,392.9 L1259.5,392.9 L1259.6,391.6 L1259.7,390.7 L1259.7,391.4 L1259.8,390.9 L1259.9,392.8 L1260.0,392.2 L1260.1,394.5 L1260.2,391.2 L1260.3,392.0 L1260.4,391.8 L1260.5,393.3 L1260.6,390.6 L1260.7,389.5 L1260.8,391.1 L1260.9,391.6 L1261.0,391.0 L1261.1,392.5 L1261.2,391.6 L1261.3,394.0 L1261.4,391.1 L1261.5,391.6 L1261.6,391.3 L1261.7,394.1 L1261.8,393.5 L1261.9,395.6 L1262.0,394.9 L1262.1,395.4 L1262.2,393.5 L1262.2,394.6 L1262.3,394.6 L1262.4,392.4 L1262.5,393.0 L1262.6,390.5 L1262.7,392.5 L1262.8,391.6 L1262.9,389.4 L1263.0,392.5 L1263.1,393.0 L1263.2,392.5 L1263.3,395.4 L1263.4,393.9 L1263.5,392.9 L1263.6,392.0 L1263.7,392.4 L1263.8,391.6 L1263.9,392.1 L1264.0,393.3 L1264.1,390.8 L1264.2,392.4 L1264.3,391.7 L1264.4,393.3 L1264.5,391.6 L1264.6,393.1 L1264.7,391.7 L1264.8,393.0 L1264.8,391.7 L1264.9,390.9 L1265.0,388.5 L1265.1,390.1 L1265.2,391.6 L1265.3,389.0 L1265.4,388.4 L1265.5,386.7 L1265.6,386.5 L1265.7,386.1 L1265.8,386.8 L1265.9,386.8 L1266.0,390.4 L1266.1,387.2 L1266.2,389.7 L1266.3,388.3 L1266.4,387.2 L1266.5,384.6 L1266.6,388.3 L1266.7,388.3 L1266.8,389.2 L1266.9,386.3 L1267.0,387.2 L1267.1,384.1 L1267.2,384.0 L1267.3,382.0 L1267.3,383.3 L1267.4,385.4 L1267.5,381.8 L1267.6,383.4 L1267.7,383.4 L1267.8,383.8 L1267.9,387.1 L1268.0,382.2 L1268.1,381.8 L1268.2,386.0 L1268.3,383.5 L1268.4,384.3 L1268.5,387.4 L1268.6,382.6 L1268.7,384.6 L1268.8,387.0 L1268.9,388.2 L1269.0,384.3 L1269.1,386.6 L1269.2,389.1 L1269.3,385.4 L1269.4,388.4 L1269.5,386.6 L1269.6,385.4 L1269.7,386.3 L1269.8,385.7 L1269.8,385.8 L1269.9,385.5 L1270.0,386.2 L1270.1,388.6 L1270.2,390.2 L1270.3,389.2 L1270.4,390.7 L1270.5,390.5 L1270.6,390.5 L1270.7,391.2 L1270.8,389.0 L1270.9,389.3 L1271.0,389.8 L1271.1,391.5 L1271.2,389.9 L1271.3,390.4 L1271.4,391.1 L1271.5,391.0 L1271.6,390.2 L1271.7,391.6 L1271.8,389.5 L1271.9,389.4 L1272.0,391.1 L1272.1,390.8 L1272.2,393.2 L1272.3,388.0 L1272.3,389.1 L1272.4,388.8 L1272.5,383.2 L1272.6,384.7 L1272.7,384.8 L1272.8,387.8 L1272.9,388.8 L1273.0,390.0 L1273.1,390.5 L1273.2,387.6 L1273.3,390.4 L1273.4,387.2 L1273.5,389.8 L1273.6,390.4 L1273.7,388.6 L1273.8,389.5 L1273.9,390.1 L1274.0,388.7 L1274.1,386.9 L1274.2,387.3 L1274.3,387.0 L1274.4,386.1 L1274.5,387.6 L1274.6,385.5 L1274.7,386.9 L1274.8,386.7 L1274.8,383.9 L1274.9,386.0 L1275.0,386.8 L1275.1,384.2 L1275.2,384.5 L1275.3,383.2 L1275.4,386.6 L1275.5,390.1 L1275.6,388.5 L1275.7,388.0 L1275.8,387.4 L1275.9,390.9 L1276.0,391.3 L1276.1,391.2 L1276.2,392.5 L1276.3,391.3 L1276.4,389.5 L1276.5,391.3 L1276.6,389.7 L1276.7,388.8 L1276.8,389.8 L1276.9,388.7 L1277.0,386.5 L1277.1,387.4 L1277.2,387.0 L1277.3,386.7 L1277.3,386.6 L1277.4,386.4 L1277.5,386.0 L1277.6,387.2 L1277.7,384.9 L1277.8,385.3 L1277.9,386.2 L1278.0,387.8 L1278.1,387.2 L1278.2,383.0 L1278.3,384.7 L1278.4,385.2 L1278.5,386.5 L1278.6,385.9 L1278.7,389.1 L1278.8,384.4 L1278.9,389.3 L1279.0,387.0 L1279.1,388.1 L1279.2,385.0 L1279.3,386.6 L1279.4,388.1 L1279.5,389.2 L1279.6,389.0 L1279.7,385.7 L1279.8,389.9 L1279.8,386.9 L1279.9,386.1 L1280.0,387.1 L1280.1,387.0 L1280.2,387.2 L1280.3,384.6 L1280.4,385.6 L1280.5,385.8 L1280.6,384.4 L1280.7,384.3 L1280.8,386.2 L1280.9,384.8 L1281.0,384.5 L1281.1,384.5 L1281.2,384.9 L1281.3,383.3 L1281.4,382.9 L1281.5,382.5 L1281.6,383.6 L1281.7,379.8 L1281.8,380.5 L1281.9,381.4 L1282.0,382.8 L1282.1,381.5 L1282.2,379.9 L1282.3,378.4 L1282.3,378.7 L1282.4,377.5 L1282.5,376.1 L1282.6,375.8 L1282.7,377.2 L1282.8,378.0 L1282.9,375.2 L1283.0,377.0 L1283.1,375.0 L1283.2,376.3 L1283.3,377.6 L1283.4,374.9 L1283.5,374.3 L1283.6,375.8 L1283.7,376.7 L1283.8,376.3 L1283.9,377.1 L1284.0,378.0 L1284.1,376.2 L1284.2,377.8 L1284.3,378.2 L1284.4,376.0 L1284.5,373.6 L1284.6,379.3 L1284.7,376.8 L1284.8,378.8 L1284.8,377.8 L1284.9,379.0 L1285.0,378.9 L1285.1,378.3 L1285.2,377.4 L1285.3,376.0 L1285.4,376.3 L1285.5,375.3 L1285.6,377.2 L1285.7,375.9 L1285.8,376.5 L1285.9,377.5 L1286.0,377.2 L1286.1,378.6 L1286.2,378.3 L1286.3,380.0 L1286.4,382.7 L1286.5,381.8 L1286.6,384.2 L1286.7,384.4 L1286.8,383.5 L1286.9,382.8 L1287.0,381.7 L1287.1,382.6 L1287.2,382.2 L1287.3,384.6 L1287.3,385.3 L1287.4,386.8 L1287.5,387.9 L1287.6,390.9 L1287.7,387.0 L1287.8,386.2 L1287.9,387.2 L1288.0,386.7 L1288.1,387.7 L1288.2,389.5 L1288.3,388.1 L1288.4,390.1 L1288.5,387.6 L1288.6,386.0 L1288.7,388.9 L1288.8,390.2 L1288.9,391.1 L1289.0,390.4 L1289.1,390.5 L1289.2,389.3 L1289.3,389.3 L1289.4,389.8 L1289.5,390.5 L1289.6,393.8 L1289.7,393.8 L1289.8,395.6 L1289.8,390.3 L1289.9,392.4 L1290.0,388.5 L1290.1,393.3 L1290.2,389.2 L1290.3,392.6 L1290.4,392.9 L1290.5,390.9 L1290.6,392.6 L1290.7,390.6 L1290.8,391.5 L1290.9,390.8 L1291.0,391.7 L1291.1,390.8 L1291.2,391.5 L1291.3,389.7 L1291.4,391.1 L1291.5,393.1 L1291.6,390.4 L1291.7,390.7 L1291.8,391.4 L1291.9,388.7 L1292.0,391.8 L1292.1,392.2 L1292.2,392.0 L1292.3,388.6 L1292.3,390.7 L1292.4,392.1 L1292.5,390.0 L1292.6,388.7 L1292.7,392.4 L1292.8,391.8 L1292.9,389.9 L1293.0,387.6 L1293.1,393.6 L1293.2,391.2 L1293.3,390.2 L1293.4,391.0 L1293.5,391.7 L1293.6,390.8 L1293.7,390.7 L1293.8,392.1 L1293.9,393.8 L1294.0,391.9 L1294.1,392.7 L1294.2,392.3 L1294.3,392.6 L1294.4,391.4 L1294.5,392.4 L1294.6,393.4 L1294.7,395.6 L1294.8,396.2 L1294.9,391.0 L1294.9,390.9 L1295.0,394.1 L1295.1,395.7 L1295.2,394.8 L1295.3,393.2 L1295.4,394.8 L1295.5,396.1 L1295.6,397.0 L1295.7,396.3 L1295.8,393.3 L1295.9,397.0 L1296.0,396.9 L1296.1,396.0 L1296.2,396.7 L1296.3,395.9 L1296.4,395.6 L1296.5,395.8 L1296.6,395.2 L1296.7,397.1 L1296.8,395.1 L1296.9,395.2 L1297.0,393.7 L1297.1,395.0 L1297.2,392.9 L1297.3,391.3 L1297.4,390.0 L1297.4,387.7 L1297.5,389.7 L1297.6,386.9 L1297.7,389.3 L1297.8,390.7 L1297.9,389.6 L1298.0,388.4 L1298.1,387.8 L1298.2,391.0 L1298.3,389.5 L1298.4,391.5 L1298.5,392.3 L1298.6,392.9 L1298.7,390.0 L1298.8,390.3 L1298.9,391.8 L1299.0,386.2 L1299.1,390.2 L1299.2,387.7 L1299.3,387.5 L1299.4,387.7 L1299.5,388.1 L1299.6,389.8 L1299.7,388.1 L1299.8,390.2 L1299.9,386.9 L1299.9,385.8 L1300.0,385.7 L1300.1,386.4 L1300.2,384.8 L1300.3,387.1 L1300.4,385.8 L1300.5,387.5 L1300.6,385.5 L1300.7,386.9 L1300.8,386.9 L1300.9,384.2 L1301.0,385.3 L1301.1,384.5 L1301.2,386.1 L1301.3,386.0 L1301.4,384.4 L1301.5,386.7 L1301.6,384.9 L1301.7,384.2 L1301.8,385.6 L1301.9,384.8 L1302.0,385.9 L1302.1,382.3 L1302.2,385.5 L1302.3,386.4 L1302.4,383.5 L1302.4,384.5 L1302.5,383.9 L1302.6,384.2 L1302.7,380.9 L1302.8,384.5 L1302.9,383.5 L1303.0,386.7 L1303.1,380.6 L1303.2,380.8 L1303.3,382.6 L1303.4,383.7 L1303.5,382.7 L1303.6,385.3 L1303.7,382.5 L1303.8,381.5 L1303.9,383.0 L1304.0,384.5 L1304.1,384.0 L1304.2,382.8 L1304.3,383.0 L1304.4,383.6 L1304.5,382.0 L1304.6,383.9 L1304.7,381.0 L1304.8,383.8 L1304.9,385.0 L1304.9,386.2 L1305.0,384.6 L1305.1,383.2" fill="none" stroke="#111" stroke-width="2.8" stroke-linejoin="round"/>
<circle cx="1304.8" cy="325.6" r="17" fill="#f3dcdc"/>
<circle cx="1305" cy="385.4" r="16.6" fill="#c9c9c9"/>
<circle cx="1304.8" cy="491" r="16.8" fill="#e7f1e3"/>
<line x1="1305.5" y1="306" x2="1305.5" y2="803" stroke="#444" stroke-width="1.1" stroke-dasharray="7 3" stroke-dashoffset="2.6"/>
<rect x="1297.5" y="318.5" width="14" height="14" transform="rotate(45 1304.5 325.5)" fill="#d9534f" stroke="#fff" stroke-width="1.5"/>
<circle cx="1304.5" cy="385.4" r="10.3" fill="#111" stroke="#fff" stroke-width="1.7"/>
<rect x="1294.7" y="481.2" width="19.5" height="19.5" fill="#7cb868" stroke="#efffea" stroke-width="1.5"/>
</svg>
<div class="ylab"></div>
<div style="position:absolute;left:122.3px;top:679.58px;font-size:22px;line-height:22px;font-weight:400;color:#1a1a1a;letter-spacing:0px;white-space:nowrap;">6K</div>

<div style="position:absolute;right:1272.7px;text-align:right;top:319.58px;font-size:22px;line-height:22px;font-weight:400;color:#1a1a1a;letter-spacing:0.75px;white-space:nowrap;">200K</div>
<div style="position:absolute;right:1272.7px;text-align:right;top:391.68px;font-size:22px;line-height:22px;font-weight:400;color:#1a1a1a;letter-spacing:0.75px;white-space:nowrap;">100K</div>
<div style="position:absolute;right:1272.7px;text-align:right;top:485.58px;font-size:22px;line-height:22px;font-weight:400;color:#1a1a1a;letter-spacing:0.75px;white-space:nowrap;">40K</div>
<div style="position:absolute;right:1272.7px;text-align:right;top:555.78px;font-size:22px;line-height:22px;font-weight:400;color:#1a1a1a;letter-spacing:0.75px;white-space:nowrap;">20K</div>
<div style="position:absolute;right:1272.7px;text-align:right;top:627.88px;font-size:22px;line-height:22px;font-weight:400;color:#1a1a1a;letter-spacing:0.75px;white-space:nowrap;">10K</div>
<div style="position:absolute;right:1272.7px;text-align:right;top:722.48px;font-size:22px;line-height:22px;font-weight:400;color:#1a1a1a;letter-spacing:0.75px;white-space:nowrap;">4K</div>
<div style="position:absolute;right:1272.7px;text-align:right;top:793.18px;font-size:22px;line-height:22px;font-weight:400;color:#1a1a1a;letter-spacing:0.75px;white-space:nowrap;">2K</div>
<div style="position:absolute;left:12.7px;width:600px;text-align:center;top:832.58px;font-size:22px;line-height:22px;font-weight:400;color:#737373;letter-spacing:0.45px;white-space:nowrap;">2021</div>
<div style="position:absolute;left:223.3px;width:600px;text-align:center;top:832.58px;font-size:22px;line-height:22px;font-weight:400;color:#737373;letter-spacing:0.45px;white-space:nowrap;">2022</div>
<div style="position:absolute;left:433.9px;width:600px;text-align:center;top:832.58px;font-size:22px;line-height:22px;font-weight:400;color:#737373;letter-spacing:0.45px;white-space:nowrap;">2023</div>
<div style="position:absolute;left:644.5px;width:600px;text-align:center;top:832.58px;font-size:22px;line-height:22px;font-weight:400;color:#737373;letter-spacing:0.45px;white-space:nowrap;">2024</div>
<div style="position:absolute;left:855.7px;width:600px;text-align:center;top:832.58px;font-size:22px;line-height:22px;font-weight:400;color:#737373;letter-spacing:0.45px;white-space:nowrap;">2025</div>

<div class="xlab"></div>
<div style="position:absolute;left:1177.0px;top:819.87px;font-size:20px;line-height:20px;font-weight:400;color:#1a1a1a;letter-spacing:1.0px;white-space:nowrap;">2025 Sep 17</div>

<div class="tip"></div>
<svg width="1404" height="948" style="position:absolute;left:0;top:0">
<circle cx="980.5" cy="658.4" r="8.3" fill="#111"/>
<rect x="974.2" y="679.1" width="14.6" height="14.6" transform="rotate(45 981.5 686.4)" fill="#dc6f6c"/>
<rect x="973" y="708" width="14.8" height="14.5" rx="1" fill="#8cc474"/>
</svg>
<div style="position:absolute;left:816.5px;width:600px;text-align:center;top:619.22px;font-size:21px;line-height:21px;font-weight:700;color:#111;letter-spacing:1.4px;white-space:nowrap;">2025 Sep 17 UTC</div>

<div style="position:absolute;left:996.5px;top:647.82px;font-size:21px;line-height:21px;font-weight:700;color:#111;letter-spacing:1.35px;white-space:nowrap;">btc_price</div>

<div style="position:absolute;left:998.2px;top:677.02px;font-size:21px;line-height:21px;font-weight:700;color:#111;letter-spacing:0.9px;white-space:nowrap;">ceiling_price</div>

<div style="position:absolute;left:996.5px;top:704.62px;font-size:21px;line-height:21px;font-weight:700;color:#111;letter-spacing:1.1px;white-space:nowrap;">floor_price</div>

<div style="position:absolute;left:1148.0px;top:647.92px;font-size:21px;line-height:21px;font-weight:400;color:#111;letter-spacing:1.75px;white-space:nowrap;">116.4537K</div>

<div style="position:absolute;left:1146.5px;top:677.12px;font-size:21px;line-height:21px;font-weight:400;color:#111;letter-spacing:1.75px;white-space:nowrap;">208.3101K</div>

<div style="position:absolute;left:1146.5px;top:704.82px;font-size:21px;line-height:21px;font-weight:400;color:#111;letter-spacing:1.5px;white-space:nowrap;">41.662K</div>

<div style="position:absolute;left:1092.0px;top:889.78px;font-size:22px;line-height:22px;font-weight:400;color:#6e6e73;letter-spacing:0.38px;white-space:nowrap;">Last run: 2 hours ago</div>

<svg width="1404" height="948" style="position:absolute;left:0;top:0">
<path d="M1331.3,891.2 L1331.3,910.2 Q1331.3,911.6 1332.6,910.9 L1348,901 Q1349.2,900 1348,899.1 L1332.6,889.6 Q1331.3,888.9 1331.3,891.2 Z" fill="none" stroke="#6e6e73" stroke-width="1.8" stroke-linejoin="round"/>
</svg>
</body></html>
